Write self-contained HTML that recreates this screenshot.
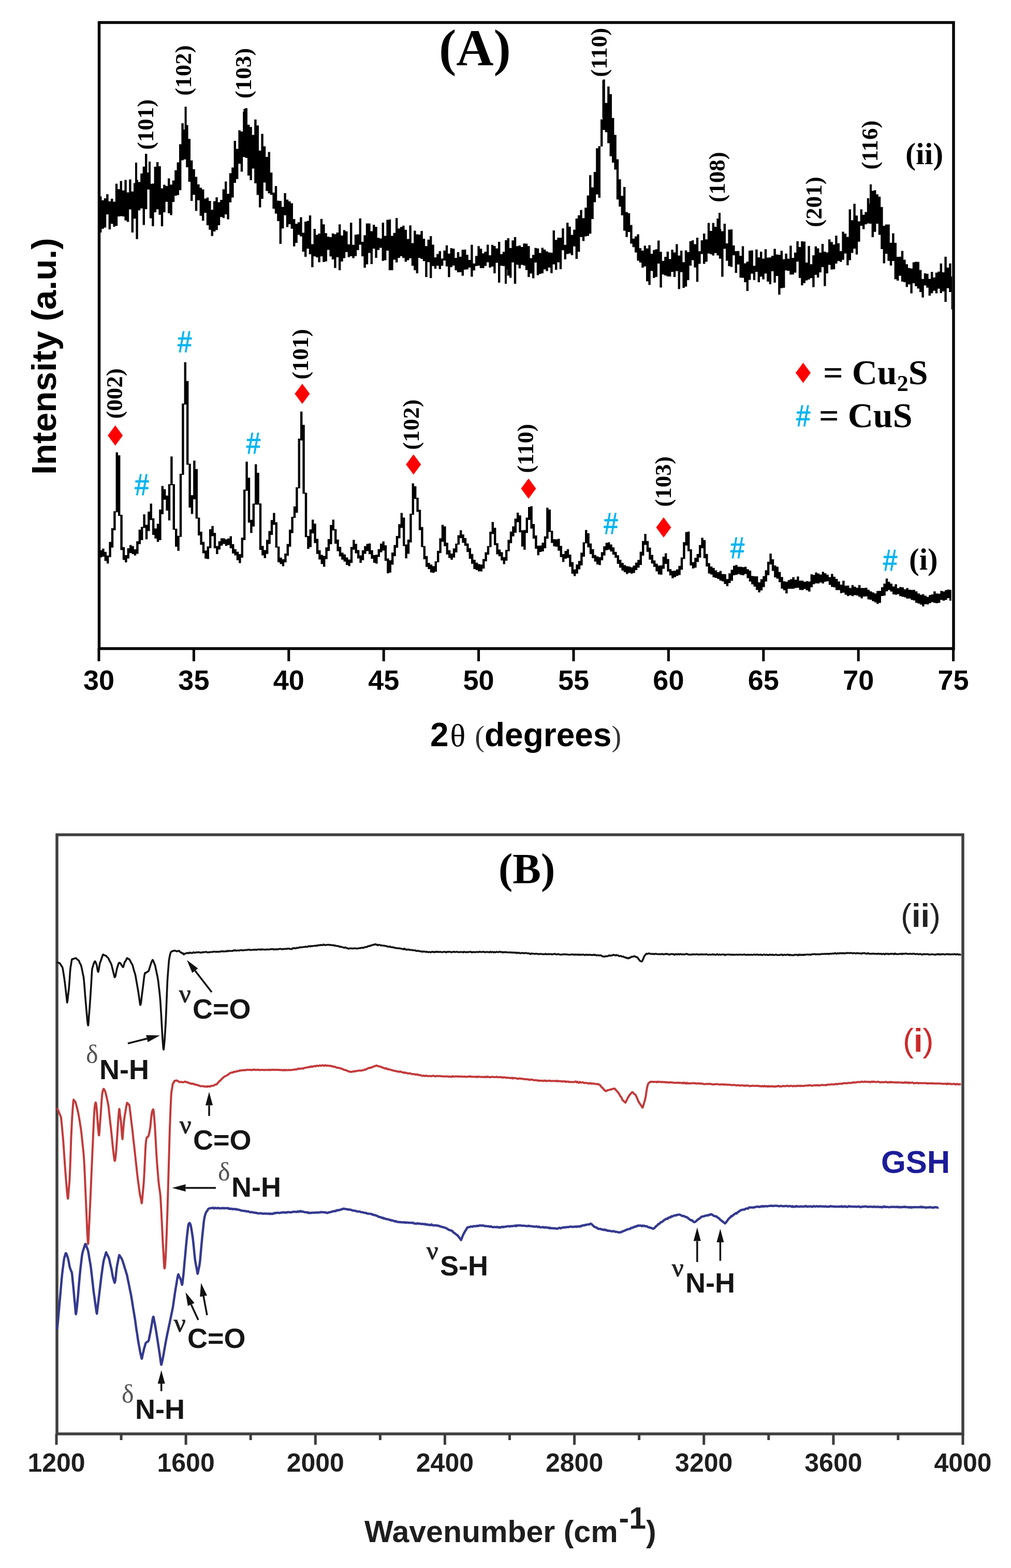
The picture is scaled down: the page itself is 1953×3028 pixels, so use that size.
<!DOCTYPE html>
<html><head><meta charset="utf-8"><title>Figure</title>
<style>html,body{margin:0;padding:0;background:#fff;overflow:hidden;}svg{display:block;}</style>
</head><body>
<svg width="1953" height="3028" viewBox="0 0 1953 3028"><g id="frameA" fill="none" stroke="#000" stroke-width="5.5">
<path d="M191.5,43.5 L1842,43.5 L1842,1252.5 L191.5,1252.5 Z"/>
</g>
<path d="M191.0,1252 L191.0,1277 M374.4,1252 L374.4,1277 M557.8,1252 L557.8,1277 M741.2,1252 L741.2,1277 M924.6,1252 L924.6,1277 M1108.0,1252 L1108.0,1277 M1291.4,1252 L1291.4,1277 M1474.8,1252 L1474.8,1277 M1658.2,1252 L1658.2,1277 M1841.6,1252 L1841.6,1277" stroke="#000" stroke-width="5" fill="none"/>
<text x="191.0" y="1332" font-family="'Liberation Sans', Arial, sans-serif" font-weight="bold" font-size="54" text-anchor="middle" fill="#000">30</text>
<text x="374.4" y="1332" font-family="'Liberation Sans', Arial, sans-serif" font-weight="bold" font-size="54" text-anchor="middle" fill="#000">35</text>
<text x="557.8" y="1332" font-family="'Liberation Sans', Arial, sans-serif" font-weight="bold" font-size="54" text-anchor="middle" fill="#000">40</text>
<text x="741.2" y="1332" font-family="'Liberation Sans', Arial, sans-serif" font-weight="bold" font-size="54" text-anchor="middle" fill="#000">45</text>
<text x="924.6" y="1332" font-family="'Liberation Sans', Arial, sans-serif" font-weight="bold" font-size="54" text-anchor="middle" fill="#000">50</text>
<text x="1108.0" y="1332" font-family="'Liberation Sans', Arial, sans-serif" font-weight="bold" font-size="54" text-anchor="middle" fill="#000">55</text>
<text x="1291.4" y="1332" font-family="'Liberation Sans', Arial, sans-serif" font-weight="bold" font-size="54" text-anchor="middle" fill="#000">60</text>
<text x="1474.8" y="1332" font-family="'Liberation Sans', Arial, sans-serif" font-weight="bold" font-size="54" text-anchor="middle" fill="#000">65</text>
<text x="1658.2" y="1332" font-family="'Liberation Sans', Arial, sans-serif" font-weight="bold" font-size="54" text-anchor="middle" fill="#000">70</text>
<text x="1841.6" y="1332" font-family="'Liberation Sans', Arial, sans-serif" font-weight="bold" font-size="54" text-anchor="middle" fill="#000">75</text>
<text transform="translate(108,688) rotate(-90)" font-family="'Liberation Sans', Arial, sans-serif" font-weight="bold" font-size="67.5" text-anchor="middle" fill="#000">Intensity (a.u.)</text>
<text x="831" y="1441" font-family="'Liberation Sans', Arial, sans-serif" font-size="64" fill="#000"><tspan font-weight="bold">2</tspan><tspan font-family="'Liberation Serif', 'Times New Roman', serif" font-size="62" dx="3">θ</tspan><tspan font-family="'Liberation Serif', 'Times New Roman', serif" font-size="56" fill="#333" dx="18">(</tspan><tspan font-weight="bold">degrees</tspan><tspan font-family="'Liberation Serif', 'Times New Roman', serif" font-size="56" fill="#333">)</tspan></text>
<path d="M192.0,379.2 196.4,379.2 196.4,386.8 200.8,386.8 200.8,382.9 205.2,382.9 205.2,375.1 209.6,375.1 209.6,388.7 214.0,388.7 214.0,383.8 218.4,383.8 218.4,389.6 222.8,389.6 222.8,354.7 227.2,354.7 227.2,365.3 231.6,365.3 231.6,349.6 236.0,349.6 236.0,367.7 240.4,367.7 240.4,347.4 244.8,347.4 244.8,371.6 249.2,371.6 249.2,346.4 253.6,346.4 253.6,369.7 258.0,369.7 258.0,353.6 262.4,353.6 262.4,347.2 266.8,347.2 266.8,351.4 271.2,351.4 271.2,334.9 275.6,334.9 275.6,321.8 280.0,321.8 280.0,297.1 284.4,297.1 284.4,332.9 288.8,332.9 288.8,355.1 293.2,355.1 293.2,354.5 297.6,354.5 297.6,321.9 302.0,321.9 302.0,313.0 306.4,313.0 306.4,321.1 310.8,321.1 310.8,363.8 315.2,363.8 315.2,356.7 319.6,356.7 319.6,359.3 324.0,359.3 324.0,344.4 328.4,344.4 328.4,356.6 332.8,356.6 332.8,348.5 337.2,348.5 337.2,328.7 341.6,328.7 341.6,313.5 346.0,313.5 346.0,278.6 350.4,278.6 350.4,238.1 354.8,238.1 354.8,249.9 359.2,249.9 359.2,241.6 363.6,241.6 363.6,268.2 368.0,268.2 368.0,309.7 372.4,309.7 372.4,326.8 376.8,326.8 376.8,341.4 381.2,341.4 381.2,355.9 385.6,355.9 385.6,362.4 390.0,362.4 390.0,365.8 394.4,365.8 394.4,383.5 398.8,383.5 398.8,381.5 403.2,381.5 403.2,388.0 407.6,388.0 407.6,404.9 412.0,404.9 412.0,388.6 416.4,388.6 416.4,380.9 420.8,380.9 420.8,390.6 425.2,390.6 425.2,386.1 429.6,386.1 429.6,365.5 434.0,365.5 434.0,350.5 438.4,350.5 438.4,374.2 442.8,374.2 442.8,334.5 447.2,334.5 447.2,323.4 451.6,323.4 451.6,271.9 456.0,271.9 456.0,287.4 460.4,287.4 460.4,251.6 464.8,251.6 464.8,253.9 469.2,253.9 469.2,216.0 473.6,216.0 473.6,208.8 478.0,208.8 478.0,240.8 482.4,240.8 482.4,245.2 486.8,245.2 486.8,260.4 491.2,260.4 491.2,230.7 495.6,230.7 495.6,242.2 500.0,242.2 500.0,290.8 504.4,290.8 504.4,258.5 508.8,258.5 508.8,282.6 513.2,282.6 513.2,303.1 517.6,303.1 517.6,293.4 522.0,293.4 522.0,333.2 526.4,333.2 526.4,372.0 530.8,372.0 530.8,359.3 535.2,359.3 535.2,387.5 539.6,387.5 539.6,387.9 544.0,387.9 544.0,399.4 548.4,399.4 548.4,373.0 552.8,373.0 552.8,385.5 557.2,385.5 557.2,388.7 561.6,388.7 561.6,392.4 566.0,392.4 566.0,422.9 570.4,422.9 570.4,432.3 574.8,432.3 574.8,429.3 579.2,429.3 579.2,419.6 583.6,419.6 583.6,449.5 588.0,449.5 588.0,428.0 592.4,428.0 592.4,426.5 596.8,426.5 596.8,416.0 601.2,416.0 601.2,471.5 605.6,471.5 605.6,442.0 610.0,442.0 610.0,453.6 614.4,453.6 614.4,451.0 618.8,451.0 618.8,422.7 623.2,422.7 623.2,433.3 627.6,433.3 627.6,450.2 632.0,450.2 632.0,457.0 636.4,457.0 636.4,458.0 640.8,458.0 640.8,450.8 645.2,450.8 645.2,452.3 649.6,452.3 649.6,449.1 654.0,449.1 654.0,433.2 658.4,433.2 658.4,454.8 662.8,454.8 662.8,444.3 667.2,444.3 667.2,446.7 671.6,446.7 671.6,471.8 676.0,471.8 676.0,430.0 680.4,430.0 680.4,472.7 684.8,472.7 684.8,453.2 689.2,453.2 689.2,452.4 693.6,452.4 693.6,421.8 698.0,421.8 698.0,466.9 702.4,466.9 702.4,454.2 706.8,454.2 706.8,431.5 711.2,431.5 711.2,431.6 715.6,431.6 715.6,446.5 720.0,446.5 720.0,433.9 724.4,433.9 724.4,437.9 728.8,437.9 728.8,459.3 733.2,459.3 733.2,460.6 737.6,460.6 737.6,429.9 742.0,429.9 742.0,455.5 746.4,455.5 746.4,424.4 750.8,424.4 750.8,423.8 755.2,423.8 755.2,455.6 759.6,455.6 759.6,449.7 764.0,449.7 764.0,421.0 768.4,421.0 768.4,441.3 772.8,441.3 772.8,438.2 777.2,438.2 777.2,435.8 781.6,435.8 781.6,443.8 786.0,443.8 786.0,461.4 790.4,461.4 790.4,435.2 794.8,435.2 794.8,469.5 799.2,469.5 799.2,445.4 803.6,445.4 803.6,452.5 808.0,452.5 808.0,453.0 812.4,453.0 812.4,446.0 816.8,446.0 816.8,460.9 821.2,460.9 821.2,475.3 825.6,475.3 825.6,462.7 830.0,462.7 830.0,455.9 834.4,455.9 834.4,472.6 838.8,472.6 838.8,497.0 843.2,497.0 843.2,490.4 847.6,490.4 847.6,484.9 852.0,484.9 852.0,499.3 856.4,499.3 856.4,483.7 860.8,483.7 860.8,473.8 865.2,473.8 865.2,489.8 869.6,489.8 869.6,479.2 874.0,479.2 874.0,480.3 878.4,480.3 878.4,498.0 882.8,498.0 882.8,487.0 887.2,487.0 887.2,495.8 891.6,495.8 891.6,482.2 896.0,482.2 896.0,482.0 900.4,482.0 900.4,492.0 904.8,492.0 904.8,501.9 909.2,501.9 909.2,472.8 913.6,472.8 913.6,508.7 918.0,508.7 918.0,494.3 922.4,494.3 922.4,475.2 926.8,475.2 926.8,480.2 931.2,480.2 931.2,489.3 935.6,489.3 935.6,486.0 940.0,486.0 940.0,472.5 944.4,472.5 944.4,493.1 948.8,493.1 948.8,472.8 953.2,472.8 953.2,475.1 957.6,475.1 957.6,479.7 962.0,479.7 962.0,466.9 966.4,466.9 966.4,490.7 970.8,490.7 970.8,486.3 975.2,486.3 975.2,463.7 979.6,463.7 979.6,459.9 984.0,459.9 984.0,478.9 988.4,478.9 988.4,464.3 992.8,464.3 992.8,457.8 997.2,457.8 997.2,475.3 1001.6,475.3 1001.6,474.1 1006.0,474.1 1006.0,476.9 1010.4,476.9 1010.4,470.2 1014.8,470.2 1014.8,470.5 1019.2,470.5 1019.2,475.2 1023.6,475.2 1023.6,498.4 1028.0,498.4 1028.0,492.2 1032.4,492.2 1032.4,478.7 1036.8,478.7 1036.8,479.7 1041.2,479.7 1041.2,488.4 1045.6,488.4 1045.6,478.4 1050.0,478.4 1050.0,482.0 1054.4,482.0 1054.4,485.6 1058.8,485.6 1058.8,487.4 1063.2,487.4 1063.2,488.0 1067.6,488.0 1067.6,444.9 1072.0,444.9 1072.0,463.3 1076.4,463.3 1076.4,458.9 1080.8,458.9 1080.8,459.0 1085.2,459.0 1085.2,441.1 1089.6,441.1 1089.6,472.8 1094.0,472.8 1094.0,429.9 1098.4,429.9 1098.4,437.7 1102.8,437.7 1102.8,453.4 1107.2,453.4 1107.2,443.5 1111.6,443.5 1111.6,422.0 1116.0,422.0 1116.0,415.7 1120.4,415.7 1120.4,405.5 1124.8,405.5 1124.8,421.2 1129.2,421.2 1129.2,400.9 1133.6,400.9 1133.6,377.5 1138.0,377.5 1138.0,338.2 1142.4,338.2 1142.4,361.7 1146.8,361.7 1146.8,332.1 1151.2,332.1 1151.2,286.3 1155.6,286.3 1155.6,282.3 1160.0,282.3 1160.0,230.5 1164.4,230.5 1164.4,153.6 1168.8,153.6 1168.8,198.8 1173.2,198.8 1173.2,167.1 1177.6,167.1 1177.6,181.7 1182.0,181.7 1182.0,227.7 1186.4,227.7 1186.4,260.6 1190.8,260.6 1190.8,307.5 1195.2,307.5 1195.2,346.2 1199.6,346.2 1199.6,378.3 1204.0,378.3 1204.0,360.9 1208.4,360.9 1208.4,409.6 1212.8,409.6 1212.8,411.8 1217.2,411.8 1217.2,434.5 1221.6,434.5 1221.6,460.7 1226.0,460.7 1226.0,456.5 1230.4,456.5 1230.4,452.6 1234.8,452.6 1234.8,479.2 1239.2,479.2 1239.2,484.1 1243.6,484.1 1243.6,474.6 1248.0,474.6 1248.0,479.8 1252.4,479.8 1252.4,473.4 1256.8,473.4 1256.8,489.9 1261.2,489.9 1261.2,482.7 1265.6,482.7 1265.6,481.3 1270.0,481.3 1270.0,464.5 1274.4,464.5 1274.4,486.2 1278.8,486.2 1278.8,503.8 1283.2,503.8 1283.2,496.0 1287.6,496.0 1287.6,486.1 1292.0,486.1 1292.0,500.3 1296.4,500.3 1296.4,482.3 1300.8,482.3 1300.8,487.5 1305.2,487.5 1305.2,471.4 1309.6,471.4 1309.6,493.4 1314.0,493.4 1314.0,484.0 1318.4,484.0 1318.4,506.3 1322.8,506.3 1322.8,483.5 1327.2,483.5 1327.2,486.8 1331.6,486.8 1331.6,465.8 1336.0,465.8 1336.0,464.0 1340.4,464.0 1340.4,471.5 1344.8,471.5 1344.8,458.9 1349.2,458.9 1349.2,485.3 1353.6,485.3 1353.6,463.9 1358.0,463.9 1358.0,451.1 1362.4,451.1 1362.4,462.3 1366.8,462.3 1366.8,430.6 1371.2,430.6 1371.2,446.0 1375.6,446.0 1375.6,430.5 1380.0,430.5 1380.0,437.9 1384.4,437.9 1384.4,422.1 1388.8,422.1 1388.8,442.3 1393.2,442.3 1393.2,446.5 1397.6,446.5 1397.6,431.9 1402.0,431.9 1402.0,469.9 1406.4,469.9 1406.4,443.6 1410.8,443.6 1410.8,442.9 1415.2,442.9 1415.2,473.9 1419.6,473.9 1419.6,485.0 1424.0,485.0 1424.0,484.7 1428.4,484.7 1428.4,494.1 1432.8,494.1 1432.8,475.6 1437.2,475.6 1437.2,508.5 1441.6,508.5 1441.6,505.2 1446.0,505.2 1446.0,484.0 1450.4,484.0 1450.4,483.5 1454.8,483.5 1454.8,513.2 1459.2,513.2 1459.2,481.7 1463.6,481.7 1463.6,497.0 1468.0,497.0 1468.0,486.0 1472.4,486.0 1472.4,499.4 1476.8,499.4 1476.8,481.3 1481.2,481.3 1481.2,497.6 1485.6,497.6 1485.6,497.0 1490.0,497.0 1490.0,493.9 1494.4,493.9 1494.4,480.6 1498.8,480.6 1498.8,491.6 1503.2,491.6 1503.2,492.1 1507.6,492.1 1507.6,484.3 1512.0,484.3 1512.0,500.6 1516.4,500.6 1516.4,489.8 1520.8,489.8 1520.8,499.5 1525.2,499.5 1525.2,474.6 1529.6,474.6 1529.6,498.1 1534.0,498.1 1534.0,487.7 1538.4,487.7 1538.4,465.8 1542.8,465.8 1542.8,477.1 1547.2,477.1 1547.2,466.0 1551.6,466.0 1551.6,466.5 1556.0,466.5 1556.0,507.0 1560.4,507.0 1560.4,475.1 1564.8,475.1 1564.8,510.2 1569.2,510.2 1569.2,492.9 1573.6,492.9 1573.6,475.8 1578.0,475.8 1578.0,479.4 1582.4,479.4 1582.4,487.8 1586.8,487.8 1586.8,471.0 1591.2,471.0 1591.2,486.0 1595.6,486.0 1595.6,487.5 1600.0,487.5 1600.0,462.3 1604.4,462.3 1604.4,467.3 1608.8,467.3 1608.8,472.2 1613.2,472.2 1613.2,455.1 1617.6,455.1 1617.6,469.8 1622.0,469.8 1622.0,485.1 1626.4,485.1 1626.4,447.5 1630.8,447.5 1630.8,451.2 1635.2,451.2 1635.2,457.6 1639.6,457.6 1639.6,404.2 1644.0,404.2 1644.0,425.3 1648.4,425.3 1648.4,393.4 1652.8,393.4 1652.8,416.2 1657.2,416.2 1657.2,427.5 1661.6,427.5 1661.6,404.2 1666.0,404.2 1666.0,414.7 1670.4,414.7 1670.4,409.5 1674.8,409.5 1674.8,382.8 1679.2,382.8 1679.2,393.1 1683.6,393.1 1683.6,368.4 1688.0,368.4 1688.0,367.2 1692.4,367.2 1692.4,375.2 1696.8,375.2 1696.8,379.7 1701.2,379.7 1701.2,399.8 1705.6,399.8 1705.6,436.0 1710.0,436.0 1710.0,433.4 1714.4,433.4 1714.4,433.4 1718.8,433.4 1718.8,468.7 1723.2,468.7 1723.2,450.5 1727.6,450.5 1727.6,469.0 1732.0,469.0 1732.0,495.9 1736.4,495.9 1736.4,495.7 1740.8,495.7 1740.8,484.5 1745.2,484.5 1745.2,501.6 1749.6,501.6 1749.6,510.2 1754.0,510.2 1754.0,517.4 1758.4,517.4 1758.4,518.6 1762.8,518.6 1762.8,506.4 1767.2,506.4 1767.2,505.4 1771.6,505.4 1771.6,505.7 1776.0,505.7 1776.0,521.4 1780.4,521.4 1780.4,538.8 1784.8,538.8 1784.8,527.7 1789.2,527.7 1789.2,528.8 1793.6,528.8 1793.6,538.4 1798.0,538.4 1798.0,524.9 1802.4,524.9 1802.4,535.7 1806.8,535.7 1806.8,526.5 1811.2,526.5 1811.2,524.5 1815.6,524.5 1815.6,508.8 1820.0,508.8 1820.0,525.7 1824.4,525.7 1824.4,495.7 1828.8,495.7 1828.8,516.8 1833.2,516.8 1833.2,508.8 1837.6,508.8 1837.6,534.1 1839.0,534.1 1839.0,597.6 1837.6,597.6 1837.6,564.0 1833.2,564.0 1833.2,556.6 1828.8,556.6 1828.8,583.0 1824.4,583.0 1824.4,562.7 1820.0,562.7 1820.0,565.9 1815.6,565.9 1815.6,557.4 1811.2,557.4 1811.2,566.6 1806.8,566.6 1806.8,561.5 1802.4,561.5 1802.4,566.2 1798.0,566.2 1798.0,571.0 1793.6,571.0 1793.6,555.5 1789.2,555.5 1789.2,551.2 1784.8,551.2 1784.8,574.4 1780.4,574.4 1780.4,563.9 1776.0,563.9 1776.0,557.2 1771.6,557.2 1771.6,552.8 1767.2,552.8 1767.2,547.0 1762.8,547.0 1762.8,566.5 1758.4,566.5 1758.4,549.3 1754.0,549.3 1754.0,554.3 1749.6,554.3 1749.6,545.1 1745.2,545.1 1745.2,543.7 1740.8,543.7 1740.8,532.6 1736.4,532.6 1736.4,542.0 1732.0,542.0 1732.0,539.3 1727.6,539.3 1727.6,503.9 1723.2,503.9 1723.2,512.7 1718.8,512.7 1718.8,503.7 1714.4,503.7 1714.4,490.0 1710.0,490.0 1710.0,508.6 1705.6,508.6 1705.6,481.1 1701.2,481.1 1701.2,453.5 1696.8,453.5 1696.8,432.1 1692.4,432.1 1692.4,447.7 1688.0,447.7 1688.0,458.0 1683.6,458.0 1683.6,431.9 1679.2,431.9 1679.2,431.4 1674.8,431.4 1674.8,433.3 1670.4,433.3 1670.4,442.5 1666.0,442.5 1666.0,435.9 1661.6,435.9 1661.6,466.8 1657.2,466.8 1657.2,491.5 1652.8,491.5 1652.8,480.3 1648.4,480.3 1648.4,488.5 1644.0,488.5 1644.0,502.4 1639.6,502.4 1639.6,512.3 1635.2,512.3 1635.2,489.6 1630.8,489.6 1630.8,501.8 1626.4,501.8 1626.4,505.8 1622.0,505.8 1622.0,503.9 1617.6,503.9 1617.6,509.0 1613.2,509.0 1613.2,519.9 1608.8,519.9 1608.8,520.4 1604.4,520.4 1604.4,511.5 1600.0,511.5 1600.0,528.0 1595.6,528.0 1595.6,552.5 1591.2,552.5 1591.2,515.7 1586.8,515.7 1586.8,526.1 1582.4,526.1 1582.4,536.0 1578.0,536.0 1578.0,530.8 1573.6,530.8 1573.6,554.5 1569.2,554.5 1569.2,536.9 1564.8,536.9 1564.8,539.7 1560.4,539.7 1560.4,541.5 1556.0,541.5 1556.0,546.8 1551.6,546.8 1551.6,550.9 1547.2,550.9 1547.2,536.7 1542.8,536.7 1542.8,505.3 1538.4,505.3 1538.4,526.4 1534.0,526.4 1534.0,529.9 1529.6,529.9 1529.6,530.3 1525.2,530.3 1525.2,523.1 1520.8,523.1 1520.8,522.2 1516.4,522.2 1516.4,555.7 1512.0,555.7 1512.0,556.5 1507.6,556.5 1507.6,569.1 1503.2,569.1 1503.2,532.9 1498.8,532.9 1498.8,545.8 1494.4,545.8 1494.4,523.8 1490.0,523.8 1490.0,548.8 1485.6,548.8 1485.6,543.7 1481.2,543.7 1481.2,528.3 1476.8,528.3 1476.8,539.5 1472.4,539.5 1472.4,534.3 1468.0,534.3 1468.0,545.1 1463.6,545.1 1463.6,525.0 1459.2,525.0 1459.2,540.7 1454.8,540.7 1454.8,528.4 1450.4,528.4 1450.4,540.4 1446.0,540.4 1446.0,562.1 1441.6,562.1 1441.6,545.1 1437.2,545.1 1437.2,536.5 1432.8,536.5 1432.8,536.2 1428.4,536.2 1428.4,510.8 1424.0,510.8 1424.0,527.1 1419.6,527.1 1419.6,493.1 1415.2,493.1 1415.2,515.6 1410.8,515.6 1410.8,514.1 1406.4,514.1 1406.4,503.4 1402.0,503.4 1402.0,480.6 1397.6,480.6 1397.6,534.4 1393.2,534.4 1393.2,499.4 1388.8,499.4 1388.8,493.3 1384.4,493.3 1384.4,488.7 1380.0,488.7 1380.0,493.4 1375.6,493.4 1375.6,491.0 1371.2,491.0 1371.2,489.6 1366.8,489.6 1366.8,505.6 1362.4,505.6 1362.4,509.4 1358.0,509.4 1358.0,490.4 1353.6,490.4 1353.6,509.4 1349.2,509.4 1349.2,544.3 1344.8,544.3 1344.8,516.4 1340.4,516.4 1340.4,502.5 1336.0,502.5 1336.0,513.1 1331.6,513.1 1331.6,540.9 1327.2,540.9 1327.2,553.4 1322.8,553.4 1322.8,556.1 1318.4,556.1 1318.4,525.5 1314.0,525.5 1314.0,558.3 1309.6,558.3 1309.6,523.4 1305.2,523.4 1305.2,534.9 1300.8,534.9 1300.8,525.1 1296.4,525.1 1296.4,533.9 1292.0,533.9 1292.0,533.8 1287.6,533.8 1287.6,532.0 1283.2,532.0 1283.2,530.1 1278.8,530.1 1278.8,555.3 1274.4,555.3 1274.4,508.9 1270.0,508.9 1270.0,534.8 1265.6,534.8 1265.6,536.8 1261.2,536.8 1261.2,523.3 1256.8,523.3 1256.8,550.2 1252.4,550.2 1252.4,543.3 1248.0,543.3 1248.0,514.6 1243.6,514.6 1243.6,517.1 1239.2,517.1 1239.2,507.1 1234.8,507.1 1234.8,503.6 1230.4,503.6 1230.4,487.4 1226.0,487.4 1226.0,477.3 1221.6,477.3 1221.6,470.4 1217.2,470.4 1217.2,448.1 1212.8,448.1 1212.8,457.7 1208.4,457.7 1208.4,445.4 1204.0,445.4 1204.0,415.7 1199.6,415.7 1199.6,399.1 1195.2,399.1 1195.2,385.3 1190.8,385.3 1190.8,327.6 1186.4,327.6 1186.4,313.9 1182.0,313.9 1182.0,301.8 1177.6,301.8 1177.6,276.4 1173.2,276.4 1173.2,255.3 1168.8,255.3 1168.8,251.0 1164.4,251.0 1164.4,282.8 1160.0,282.8 1160.0,381.9 1155.6,381.9 1155.6,375.6 1151.2,375.6 1151.2,390.5 1146.8,390.5 1146.8,422.9 1142.4,422.9 1142.4,451.3 1138.0,451.3 1138.0,455.4 1133.6,455.4 1133.6,456.4 1129.2,456.4 1129.2,465.5 1124.8,465.5 1124.8,457.8 1120.4,457.8 1120.4,486.3 1116.0,486.3 1116.0,500.0 1111.6,500.0 1111.6,475.8 1107.2,475.8 1107.2,492.7 1102.8,492.7 1102.8,489.6 1098.4,489.6 1098.4,490.6 1094.0,490.6 1094.0,500.7 1089.6,500.7 1089.6,483.3 1085.2,483.3 1085.2,519.7 1080.8,519.7 1080.8,506.6 1076.4,506.6 1076.4,521.0 1072.0,521.0 1072.0,510.5 1067.6,510.5 1067.6,527.6 1063.2,527.6 1063.2,516.7 1058.8,516.7 1058.8,523.6 1054.4,523.6 1054.4,520.2 1050.0,520.2 1050.0,527.8 1045.6,527.8 1045.6,529.1 1041.2,529.1 1041.2,531.5 1036.8,531.5 1036.8,506.9 1032.4,506.9 1032.4,537.4 1028.0,537.4 1028.0,528.3 1023.6,528.3 1023.6,535.1 1019.2,535.1 1019.2,521.4 1014.8,521.4 1014.8,512.8 1010.4,512.8 1010.4,511.4 1006.0,511.4 1006.0,518.2 1001.6,518.2 1001.6,511.3 997.2,511.3 997.2,548.0 992.8,548.0 992.8,506.7 988.4,506.7 988.4,536.4 984.0,536.4 984.0,532.3 979.6,532.3 979.6,520.5 975.2,520.5 975.2,513.8 970.8,513.8 970.8,513.2 966.4,513.2 966.4,545.8 962.0,545.8 962.0,507.5 957.6,507.5 957.6,527.7 953.2,527.7 953.2,514.7 948.8,514.7 948.8,516.8 944.4,516.8 944.4,506.4 940.0,506.4 940.0,513.4 935.6,513.4 935.6,517.8 931.2,517.8 931.2,517.8 926.8,517.8 926.8,512.9 922.4,512.9 922.4,513.8 918.0,513.8 918.0,522.2 913.6,522.2 913.6,534.3 909.2,534.3 909.2,516.7 904.8,516.7 904.8,520.3 900.4,520.3 900.4,520.8 896.0,520.8 896.0,532.4 891.6,532.4 891.6,525.4 887.2,525.4 887.2,525.7 882.8,525.7 882.8,522.1 878.4,522.1 878.4,512.8 874.0,512.8 874.0,515.7 869.6,515.7 869.6,535.2 865.2,535.2 865.2,514.4 860.8,514.4 860.8,503.1 856.4,503.1 856.4,513.2 852.0,513.2 852.0,519.7 847.6,519.7 847.6,513.2 843.2,513.2 843.2,519.1 838.8,519.1 838.8,513.8 834.4,513.8 834.4,537.1 830.0,537.1 830.0,506.3 825.6,506.3 825.6,534.9 821.2,534.9 821.2,504.3 816.8,504.3 816.8,499.9 812.4,499.9 812.4,497.9 808.0,497.9 808.0,527.7 803.6,527.7 803.6,521.8 799.2,521.8 799.2,513.2 794.8,513.2 794.8,498.8 790.4,498.8 790.4,502.4 786.0,502.4 786.0,505.6 781.6,505.6 781.6,498.3 777.2,498.3 777.2,494.7 772.8,494.7 772.8,497.9 768.4,497.9 768.4,506.8 764.0,506.8 764.0,501.4 759.6,501.4 759.6,521.8 755.2,521.8 755.2,521.7 750.8,521.7 750.8,484.1 746.4,484.1 746.4,502.6 742.0,502.6 742.0,503.7 737.6,503.7 737.6,478.5 733.2,478.5 733.2,482.7 728.8,482.7 728.8,498.0 724.4,498.0 724.4,480.3 720.0,480.3 720.0,510.1 715.6,510.1 715.6,488.5 711.2,488.5 711.2,510.6 706.8,510.6 706.8,517.1 702.4,517.1 702.4,494.9 698.0,494.9 698.0,472.5 693.6,472.5 693.6,482.9 689.2,482.9 689.2,494.5 684.8,494.5 684.8,498.5 680.4,498.5 680.4,494.8 676.0,494.8 676.0,496.4 671.6,496.4 671.6,486.8 667.2,486.8 667.2,498.4 662.8,498.4 662.8,504.9 658.4,504.9 658.4,521.7 654.0,521.7 654.0,496.8 649.6,496.8 649.6,517.6 645.2,517.6 645.2,501.0 640.8,501.0 640.8,495.3 636.4,495.3 636.4,482.5 632.0,482.5 632.0,504.7 627.6,504.7 627.6,506.0 623.2,506.0 623.2,494.9 618.8,494.9 618.8,506.4 614.4,506.4 614.4,496.9 610.0,496.9 610.0,495.1 605.6,495.1 605.6,516.0 601.2,516.0 601.2,490.9 596.8,490.9 596.8,480.3 592.4,480.3 592.4,496.1 588.0,496.1 588.0,486.0 583.6,486.0 583.6,456.4 579.2,456.4 579.2,453.4 574.8,453.4 574.8,469.1 570.4,469.1 570.4,475.8 566.0,475.8 566.0,441.7 561.6,441.7 561.6,433.1 557.2,433.1 557.2,438.4 552.8,438.4 552.8,415.7 548.4,415.7 548.4,441.2 544.0,441.2 544.0,471.0 539.6,471.0 539.6,427.1 535.2,427.1 535.2,412.4 530.8,412.4 530.8,403.1 526.4,403.1 526.4,376.3 522.0,376.3 522.0,373.6 517.6,373.6 517.6,368.8 513.2,368.8 513.2,352.4 508.8,352.4 508.8,384.1 504.4,384.1 504.4,400.6 500.0,400.6 500.0,376.6 495.6,376.6 495.6,353.9 491.2,353.9 491.2,325.6 486.8,325.6 486.8,348.1 482.4,348.1 482.4,338.9 478.0,338.9 478.0,305.1 473.6,305.1 473.6,303.3 469.2,303.3 469.2,331.5 464.8,331.5 464.8,316.3 460.4,316.3 460.4,345.7 456.0,345.7 456.0,352.9 451.6,352.9 451.6,381.5 447.2,381.5 447.2,390.8 442.8,390.8 442.8,423.6 438.4,423.6 438.4,414.1 434.0,414.1 434.0,421.0 429.6,421.0 429.6,419.0 425.2,419.0 425.2,435.0 420.8,435.0 420.8,444.3 416.4,444.3 416.4,447.1 412.0,447.1 412.0,455.7 407.6,455.7 407.6,443.8 403.2,443.8 403.2,435.1 398.8,435.1 398.8,411.1 394.4,411.1 394.4,426.2 390.0,426.2 390.0,416.8 385.6,416.8 385.6,386.7 381.2,386.7 381.2,407.2 376.8,407.2 376.8,376.2 372.4,376.2 372.4,388.0 368.0,388.0 368.0,351.0 363.6,351.0 363.6,323.0 359.2,323.0 359.2,307.8 354.8,307.8 354.8,309.6 350.4,309.6 350.4,367.3 346.0,367.3 346.0,376.7 341.6,376.7 341.6,378.0 337.2,378.0 337.2,390.0 332.8,390.0 332.8,415.6 328.4,415.6 328.4,411.8 324.0,411.8 324.0,389.7 319.6,389.7 319.6,410.1 315.2,410.1 315.2,437.0 310.8,437.0 310.8,414.8 306.4,414.8 306.4,404.3 302.0,404.3 302.0,410.0 297.6,410.0 297.6,436.7 293.2,436.7 293.2,421.4 288.8,421.4 288.8,366.1 284.4,366.1 284.4,403.9 280.0,403.9 280.0,434.5 275.6,434.5 275.6,402.5 271.2,402.5 271.2,406.3 266.8,406.3 266.8,461.8 262.4,461.8 262.4,422.2 258.0,422.2 258.0,449.1 253.6,449.1 253.6,404.6 249.2,404.6 249.2,428.5 244.8,428.5 244.8,425.8 240.4,425.8 240.4,418.1 236.0,418.1 236.0,417.6 231.6,417.6 231.6,418.0 227.2,418.0 227.2,436.3 222.8,436.3 222.8,437.7 218.4,437.7 218.4,432.2 214.0,432.2 214.0,443.0 209.6,443.0 209.6,413.9 205.2,413.9 205.2,439.6 200.8,439.6 200.8,441.8 196.4,441.8 196.4,449.1 192.0,449.1 Z" fill="#000"/>
<path d="M358.6,274.0 L358.6,206.0 M472.5,251.4 L472.5,210.0 M1165.5,228.8 L1165.5,155.0 M1682.0,407.4 L1682.0,356.0 M1390.0,467.3 L1390.0,411.0 M289.0,363.5 L289.0,312.0 M263.0,383.5 L263.0,314.0 M977.0,504.2 L977.0,548.0" fill="none" stroke="#000" stroke-width="4"/>
<path d="M192.8,1062.5 197.2,1062.5 197.2,1059.5 201.6,1059.5 201.6,1065.8 206.0,1065.8 206.0,1072.8 210.4,1072.8 210.4,1046.5 214.8,1046.5 214.8,1019.9 219.2,1019.9 219.2,987.3 223.6,987.3 223.6,873.5 228.0,873.5 228.0,879.2 232.4,879.2 232.4,994.2 236.8,994.2 236.8,1056.5 241.2,1056.5 241.2,1072.0 245.6,1072.0 245.6,1058.7 250.0,1058.7 250.0,1052.5 254.4,1052.5 254.4,1054.4 258.8,1054.4 258.8,1060.7 263.2,1060.7 263.2,1045.3 267.6,1045.3 267.6,1022.7 272.0,1022.7 272.0,1017.5 276.4,1017.5 276.4,993.2 280.8,993.2 280.8,1013.6 285.2,1013.6 285.2,988.0 289.6,988.0 289.6,972.5 294.0,972.5 294.0,1001.0 298.4,1001.0 298.4,1020.4 302.8,1020.4 302.8,1011.5 307.2,1011.5 307.2,984.1 311.6,984.1 311.6,938.5 316.0,938.5 316.0,944.8 320.4,944.8 320.4,957.1 324.8,957.1 324.8,935.1 329.2,935.1 329.2,881.5 333.6,881.5 333.6,935.1 338.0,935.1 338.0,1021.0 342.4,1021.0 342.4,1034.7 346.8,1034.7 346.8,914.9 351.2,914.9 351.2,779.3 355.6,779.3 355.6,699.5 360.0,699.5 360.0,735.8 364.4,735.8 364.4,895.6 368.8,895.6 368.8,956.2 373.2,956.2 373.2,889.5 377.6,889.5 377.6,905.7 382.0,905.7 382.0,999.4 386.4,999.4 386.4,1026.7 390.8,1026.7 390.8,1046.5 395.2,1046.5 395.2,1063.0 399.6,1063.0 399.6,1055.2 404.0,1055.2 404.0,1021.9 408.4,1021.9 408.4,1015.7 412.8,1015.7 412.8,1029.0 417.2,1029.0 417.2,1054.4 421.6,1054.4 421.6,1045.3 426.0,1045.3 426.0,1039.5 430.4,1039.5 430.4,1039.4 434.8,1039.4 434.8,1041.5 439.2,1041.5 439.2,1039.8 443.6,1039.8 443.6,1035.5 448.0,1035.5 448.0,1050.8 452.4,1050.8 452.4,1060.5 456.8,1060.5 456.8,1065.5 461.2,1065.5 461.2,1069.9 465.6,1069.9 465.6,1038.2 470.0,1038.2 470.0,945.5 474.4,945.5 474.4,891.4 478.8,891.4 478.8,922.4 483.2,922.4 483.2,1003.7 487.6,1003.7 487.6,972.5 492.0,972.5 492.0,896.5 496.4,896.5 496.4,913.1 500.8,913.1 500.8,972.2 505.2,972.2 505.2,1054.3 509.6,1054.3 509.6,1062.2 514.0,1062.2 514.0,1042.6 518.4,1042.6 518.4,1025.4 522.8,1025.4 522.8,1004.3 527.2,1004.3 527.2,990.5 531.6,990.5 531.6,1008.4 536.0,1008.4 536.0,1055.4 540.4,1055.4 540.4,1076.7 544.8,1076.7 544.8,1079.9 549.2,1079.9 549.2,1069.0 553.6,1069.0 553.6,1050.6 558.0,1050.6 558.0,1022.8 562.4,1022.8 562.4,998.0 566.8,998.0 566.8,978.1 571.2,978.1 571.2,940.9 575.6,940.9 575.6,847.0 580.0,847.0 580.0,794.8 584.4,794.8 584.4,820.6 588.8,820.6 588.8,951.4 593.2,951.4 593.2,1035.1 597.6,1035.1 597.6,1022.3 602.0,1022.3 602.0,1003.5 606.4,1003.5 606.4,1011.3 610.8,1011.3 610.8,1040.6 615.2,1040.6 615.2,1062.4 619.6,1062.4 619.6,1071.6 624.0,1071.6 624.0,1073.4 628.4,1073.4 628.4,1056.9 632.8,1056.9 632.8,1041.0 637.2,1041.0 637.2,1013.8 641.6,1013.8 641.6,1003.5 646.0,1003.5 646.0,1021.7 650.4,1021.7 650.4,1042.0 654.8,1042.0 654.8,1056.0 659.2,1056.0 659.2,1067.2 663.6,1067.2 663.6,1070.4 668.0,1070.4 668.0,1076.5 672.4,1076.5 672.4,1080.4 676.8,1080.4 676.8,1056.3 681.2,1056.3 681.2,1042.5 685.6,1042.5 685.6,1050.2 690.0,1050.2 690.0,1062.3 694.4,1062.3 694.4,1072.4 698.8,1072.4 698.8,1062.6 703.2,1062.6 703.2,1054.4 707.6,1054.4 707.6,1050.3 712.0,1050.3 712.0,1049.6 716.4,1049.6 716.4,1062.5 720.8,1062.5 720.8,1072.0 725.2,1072.0 725.2,1071.2 729.6,1071.2 729.6,1060.6 734.0,1060.6 734.0,1049.7 738.4,1049.7 738.4,1045.5 742.8,1045.5 742.8,1053.1 747.2,1053.1 747.2,1078.6 751.6,1078.6 751.6,1082.0 756.0,1082.0 756.0,1066.9 760.4,1066.9 760.4,1052.6 764.8,1052.6 764.8,1034.9 769.2,1034.9 769.2,1012.3 773.6,1012.3 773.6,990.4 778.0,990.4 778.0,999.6 782.4,999.6 782.4,1051.4 786.8,1051.4 786.8,1042.1 791.2,1042.1 791.2,991.9 795.6,991.9 795.6,933.5 800.0,933.5 800.0,939.0 804.4,939.0 804.4,961.3 808.8,961.3 808.8,984.5 813.2,984.5 813.2,1017.7 817.6,1017.7 817.6,1054.5 822.0,1054.5 822.0,1073.7 826.4,1073.7 826.4,1087.0 830.8,1087.0 830.8,1090.3 835.2,1090.3 835.2,1093.3 839.6,1093.3 839.6,1084.0 844.0,1084.0 844.0,1063.8 848.4,1063.8 848.4,1039.6 852.8,1039.6 852.8,1013.5 857.2,1013.5 857.2,1016.6 861.6,1016.6 861.6,1048.0 866.0,1048.0 866.0,1062.5 870.4,1062.5 870.4,1068.9 874.8,1068.9 874.8,1058.9 879.2,1058.9 879.2,1049.7 883.6,1049.7 883.6,1033.5 888.0,1033.5 888.0,1024.1 892.4,1024.1 892.4,1032.0 896.8,1032.0 896.8,1039.0 901.2,1039.0 901.2,1049.4 905.6,1049.4 905.6,1058.4 910.0,1058.4 910.0,1069.8 914.4,1069.8 914.4,1081.1 918.8,1081.1 918.8,1086.6 923.2,1086.6 923.2,1089.3 927.6,1089.3 927.6,1090.3 932.0,1090.3 932.0,1079.4 936.4,1079.4 936.4,1066.6 940.8,1066.6 940.8,1054.4 945.2,1054.4 945.2,1026.8 949.6,1026.8 949.6,1007.9 954.0,1007.9 954.0,1019.2 958.4,1019.2 958.4,1048.9 962.8,1048.9 962.8,1061.3 967.2,1061.3 967.2,1066.3 971.6,1066.3 971.6,1075.8 976.0,1075.8 976.0,1061.9 980.4,1061.9 980.4,1042.6 984.8,1042.6 984.8,1026.6 989.2,1026.6 989.2,1016.6 993.6,1016.6 993.6,1001.5 998.0,1001.5 998.0,990.0 1002.4,990.0 1002.4,995.2 1006.8,995.2 1006.8,1023.9 1011.2,1023.9 1011.2,1023.4 1015.6,1023.4 1015.6,999.6 1020.0,999.6 1020.0,978.9 1024.4,978.9 1024.4,977.5 1028.8,977.5 1028.8,1012.0 1033.2,1012.0 1033.2,1034.0 1037.6,1034.0 1037.6,1053.8 1042.0,1053.8 1042.0,1053.4 1046.4,1053.4 1046.4,1048.0 1050.8,1048.0 1050.8,1035.7 1055.2,1035.7 1055.2,980.5 1059.6,980.5 1059.6,984.1 1064.0,984.1 1064.0,1025.0 1068.4,1025.0 1068.4,1041.2 1072.8,1041.2 1072.8,1041.4 1077.2,1041.4 1077.2,1040.6 1081.6,1040.6 1081.6,1054.3 1086.0,1054.3 1086.0,1070.0 1090.4,1070.0 1090.4,1063.9 1094.8,1063.9 1094.8,1060.5 1099.2,1060.5 1099.2,1071.0 1103.6,1071.0 1103.6,1085.6 1108.0,1085.6 1108.0,1099.4 1112.4,1099.4 1112.4,1090.1 1116.8,1090.1 1116.8,1083.3 1121.2,1083.3 1121.2,1067.2 1125.6,1067.2 1125.6,1047.2 1130.0,1047.2 1130.0,1023.5 1134.4,1023.5 1134.4,1029.7 1138.8,1029.7 1138.8,1049.6 1143.2,1049.6 1143.2,1060.4 1147.6,1060.4 1147.6,1071.7 1152.0,1071.7 1152.0,1074.4 1156.4,1074.4 1156.4,1075.9 1160.8,1075.9 1160.8,1066.2 1165.2,1066.2 1165.2,1055.0 1169.6,1055.0 1169.6,1048.2 1174.0,1048.2 1174.0,1047.2 1178.4,1047.2 1178.4,1051.4 1182.8,1051.4 1182.8,1057.1 1187.2,1057.1 1187.2,1065.7 1191.6,1065.7 1191.6,1072.2 1196.0,1072.2 1196.0,1081.1 1200.4,1081.1 1200.4,1086.9 1204.8,1086.9 1204.8,1091.3 1209.2,1091.3 1209.2,1093.3 1213.6,1093.3 1213.6,1094.0 1218.0,1094.0 1218.0,1095.6 1222.4,1095.6 1222.4,1092.2 1226.8,1092.2 1226.8,1086.6 1231.2,1086.6 1231.2,1081.2 1235.6,1081.2 1235.6,1065.5 1240.0,1065.5 1240.0,1044.8 1244.4,1044.8 1244.4,1030.9 1248.8,1030.9 1248.8,1044.7 1253.2,1044.7 1253.2,1057.6 1257.6,1057.6 1257.6,1071.6 1262.0,1071.6 1262.0,1082.3 1266.4,1082.3 1266.4,1088.4 1270.8,1088.4 1270.8,1092.2 1275.2,1092.2 1275.2,1091.7 1279.6,1091.7 1279.6,1075.0 1284.0,1075.0 1284.0,1068.5 1288.4,1068.5 1288.4,1079.6 1292.8,1079.6 1292.8,1099.0 1297.2,1099.0 1297.2,1102.5 1301.6,1102.5 1301.6,1102.0 1306.0,1102.0 1306.0,1099.4 1310.4,1099.4 1310.4,1092.7 1314.8,1092.7 1314.8,1076.6 1319.2,1076.6 1319.2,1047.1 1323.6,1047.1 1323.6,1027.6 1328.0,1027.6 1328.0,1026.5 1332.4,1026.5 1332.4,1060.8 1336.8,1060.8 1336.8,1085.5 1341.2,1085.5 1341.2,1077.3 1345.6,1077.3 1345.6,1069.8 1350.0,1069.8 1350.0,1052.5 1354.4,1052.5 1354.4,1038.6 1358.8,1038.6 1358.8,1043.0 1363.2,1043.0 1363.2,1069.7 1367.6,1069.7 1367.6,1087.4 1372.0,1087.4 1372.0,1094.0 1376.4,1094.0 1376.4,1096.7 1380.8,1096.7 1380.8,1101.6 1385.2,1101.6 1385.2,1104.9 1389.6,1104.9 1389.6,1102.6 1394.0,1102.6 1394.0,1108.6 1398.4,1108.6 1398.4,1108.8 1402.8,1108.8 1402.8,1118.3 1407.2,1118.3 1407.2,1107.2 1411.6,1107.2 1411.6,1100.2 1416.0,1100.2 1416.0,1092.4 1420.4,1092.4 1420.4,1091.0 1424.8,1091.0 1424.8,1094.4 1429.2,1094.4 1429.2,1094.6 1433.6,1094.6 1433.6,1095.2 1438.0,1095.2 1438.0,1094.4 1442.4,1094.4 1442.4,1099.3 1446.8,1099.3 1446.8,1102.1 1451.2,1102.1 1451.2,1112.3 1455.6,1112.3 1455.6,1112.7 1460.0,1112.7 1460.0,1113.0 1464.4,1113.0 1464.4,1124.5 1468.8,1124.5 1468.8,1118.6 1473.2,1118.6 1473.2,1112.6 1477.6,1112.6 1477.6,1101.3 1482.0,1101.3 1482.0,1084.7 1486.4,1084.7 1486.4,1068.9 1490.8,1068.9 1490.8,1080.0 1495.2,1080.0 1495.2,1091.9 1499.6,1091.9 1499.6,1094.6 1504.0,1094.6 1504.0,1104.6 1508.4,1104.6 1508.4,1114.2 1512.8,1114.2 1512.8,1122.4 1517.2,1122.4 1517.2,1123.6 1521.6,1123.6 1521.6,1120.3 1526.0,1120.3 1526.0,1118.4 1530.4,1118.4 1530.4,1114.6 1534.8,1114.6 1534.8,1119.4 1539.2,1119.4 1539.2,1113.2 1543.6,1113.2 1543.6,1121.2 1548.0,1121.2 1548.0,1121.2 1552.4,1121.2 1552.4,1123.4 1556.8,1123.4 1556.8,1122.3 1561.2,1122.3 1561.2,1123.0 1565.6,1123.0 1565.6,1109.1 1570.0,1109.1 1570.0,1110.2 1574.4,1110.2 1574.4,1105.6 1578.8,1105.6 1578.8,1107.4 1583.2,1107.4 1583.2,1109.6 1587.6,1109.6 1587.6,1104.3 1592.0,1104.3 1592.0,1107.0 1596.4,1107.0 1596.4,1109.8 1600.8,1109.8 1600.8,1114.6 1605.2,1114.6 1605.2,1108.3 1609.6,1108.3 1609.6,1113.8 1614.0,1113.8 1614.0,1118.1 1618.4,1118.1 1618.4,1122.8 1622.8,1122.8 1622.8,1129.0 1627.2,1129.0 1627.2,1121.6 1631.6,1121.6 1631.6,1131.0 1636.0,1131.0 1636.0,1130.8 1640.4,1130.8 1640.4,1135.5 1644.8,1135.5 1644.8,1129.7 1649.2,1129.7 1649.2,1133.0 1653.6,1133.0 1653.6,1134.9 1658.0,1134.9 1658.0,1129.8 1662.4,1129.8 1662.4,1135.4 1666.8,1135.4 1666.8,1135.5 1671.2,1135.5 1671.2,1135.1 1675.6,1135.1 1675.6,1139.0 1680.0,1139.0 1680.0,1142.0 1684.4,1142.0 1684.4,1144.1 1688.8,1144.1 1688.8,1146.1 1693.2,1146.1 1693.2,1141.2 1697.6,1141.2 1697.6,1141.1 1702.0,1141.1 1702.0,1134.0 1706.4,1134.0 1706.4,1127.1 1710.8,1127.1 1710.8,1117.3 1715.2,1117.3 1715.2,1123.4 1719.6,1123.4 1719.6,1126.9 1724.0,1126.9 1724.0,1132.5 1728.4,1132.5 1728.4,1128.2 1732.8,1128.2 1732.8,1135.7 1737.2,1135.7 1737.2,1133.5 1741.6,1133.5 1741.6,1134.3 1746.0,1134.3 1746.0,1138.0 1750.4,1138.0 1750.4,1135.4 1754.8,1135.4 1754.8,1138.7 1759.2,1138.7 1759.2,1139.3 1763.6,1139.3 1763.6,1138.9 1768.0,1138.9 1768.0,1141.9 1772.4,1141.9 1772.4,1145.9 1776.8,1145.9 1776.8,1148.6 1781.2,1148.6 1781.2,1147.4 1785.6,1147.4 1785.6,1150.5 1790.0,1150.5 1790.0,1152.7 1794.4,1152.7 1794.4,1148.9 1798.8,1148.9 1798.8,1147.8 1803.2,1147.8 1803.2,1141.9 1807.6,1141.9 1807.6,1145.9 1812.0,1145.9 1812.0,1146.6 1816.4,1146.6 1816.4,1140.9 1820.8,1140.9 1820.8,1142.2 1825.2,1142.2 1825.2,1139.4 1829.6,1139.4 1829.6,1138.6 1834.0,1138.6 1834.0,1138.9 1837.7,1138.9 1837.7,1160.0 1834.0,1160.0 1834.0,1155.1 1829.6,1155.1 1829.6,1158.6 1825.2,1158.6 1825.2,1160.1 1820.8,1160.1 1820.8,1158.6 1816.4,1158.6 1816.4,1164.0 1812.0,1164.0 1812.0,1165.0 1807.6,1165.0 1807.6,1164.3 1803.2,1164.3 1803.2,1162.7 1798.8,1162.7 1798.8,1164.7 1794.4,1164.7 1794.4,1167.3 1790.0,1167.3 1790.0,1166.8 1785.6,1166.8 1785.6,1171.0 1781.2,1171.0 1781.2,1167.5 1776.8,1167.5 1776.8,1165.6 1772.4,1165.6 1772.4,1163.9 1768.0,1163.9 1768.0,1159.6 1763.6,1159.6 1763.6,1158.6 1759.2,1158.6 1759.2,1155.7 1754.8,1155.7 1754.8,1156.1 1750.4,1156.1 1750.4,1153.6 1746.0,1153.6 1746.0,1152.6 1741.6,1152.6 1741.6,1151.3 1737.2,1151.3 1737.2,1147.6 1732.8,1147.6 1732.8,1148.5 1728.4,1148.5 1728.4,1147.7 1724.0,1147.7 1724.0,1142.6 1719.6,1142.6 1719.6,1139.4 1715.2,1139.4 1715.2,1142.0 1710.8,1142.0 1710.8,1150.3 1706.4,1150.3 1706.4,1150.9 1702.0,1150.9 1702.0,1164.2 1697.6,1164.2 1697.6,1166.3 1693.2,1166.3 1693.2,1163.3 1688.8,1163.3 1688.8,1161.0 1684.4,1161.0 1684.4,1158.3 1680.0,1158.3 1680.0,1157.4 1675.6,1157.4 1675.6,1151.8 1671.2,1151.8 1671.2,1151.9 1666.8,1151.9 1666.8,1155.5 1662.4,1155.5 1662.4,1152.4 1658.0,1152.4 1658.0,1150.0 1653.6,1150.0 1653.6,1149.2 1649.2,1149.2 1649.2,1151.3 1644.8,1151.3 1644.8,1149.4 1640.4,1149.4 1640.4,1151.0 1636.0,1151.0 1636.0,1148.5 1631.6,1148.5 1631.6,1144.4 1627.2,1144.4 1627.2,1145.5 1622.8,1145.5 1622.8,1139.4 1618.4,1139.4 1618.4,1139.5 1614.0,1139.5 1614.0,1134.2 1609.6,1134.2 1609.6,1133.4 1605.2,1133.4 1605.2,1129.4 1600.8,1129.4 1600.8,1122.4 1596.4,1122.4 1596.4,1123.6 1592.0,1123.6 1592.0,1126.7 1587.6,1126.7 1587.6,1124.8 1583.2,1124.8 1583.2,1126.7 1578.8,1126.7 1578.8,1126.6 1574.4,1126.6 1574.4,1128.3 1570.0,1128.3 1570.0,1134.1 1565.6,1134.1 1565.6,1142.6 1561.2,1142.6 1561.2,1139.9 1556.8,1139.9 1556.8,1137.6 1552.4,1137.6 1552.4,1139.6 1548.0,1139.6 1548.0,1139.3 1543.6,1139.3 1543.6,1134.9 1539.2,1134.9 1539.2,1135.5 1534.8,1135.5 1534.8,1137.1 1530.4,1137.1 1530.4,1137.1 1526.0,1137.1 1526.0,1137.0 1521.6,1137.0 1521.6,1146.0 1517.2,1146.0 1517.2,1139.8 1512.8,1139.8 1512.8,1136.8 1508.4,1136.8 1508.4,1124.3 1504.0,1124.3 1504.0,1117.5 1499.6,1117.5 1499.6,1114.9 1495.2,1114.9 1495.2,1102.4 1490.8,1102.4 1490.8,1090.0 1486.4,1090.0 1486.4,1110.7 1482.0,1110.7 1482.0,1123.0 1477.6,1123.0 1477.6,1133.8 1473.2,1133.8 1473.2,1140.3 1468.8,1140.3 1468.8,1143.9 1464.4,1143.9 1464.4,1139.3 1460.0,1139.3 1460.0,1132.8 1455.6,1132.8 1455.6,1128.6 1451.2,1128.6 1451.2,1123.1 1446.8,1123.1 1446.8,1116.6 1442.4,1116.6 1442.4,1108.4 1438.0,1108.4 1438.0,1111.0 1433.6,1111.0 1433.6,1110.3 1429.2,1110.3 1429.2,1108.6 1424.8,1108.6 1424.8,1109.9 1420.4,1109.9 1420.4,1111.0 1416.0,1111.0 1416.0,1121.5 1411.6,1121.5 1411.6,1126.0 1407.2,1126.0 1407.2,1132.1 1402.8,1132.1 1402.8,1127.8 1398.4,1127.8 1398.4,1122.8 1394.0,1122.8 1394.0,1121.2 1389.6,1121.2 1389.6,1118.0 1385.2,1118.0 1385.2,1116.0 1380.8,1116.0 1380.8,1114.8 1376.4,1114.8 1376.4,1109.5 1372.0,1109.5 1372.0,1107.5 1367.6,1107.5 1367.6,1093.9 1363.2,1093.9 1363.2,1078.1 1358.8,1078.1 1358.8,1058.8 1354.4,1058.8 1354.4,1076.8 1350.0,1076.8 1350.0,1085.3 1345.6,1085.3 1345.6,1096.3 1341.2,1096.3 1341.2,1097.7 1336.8,1097.7 1336.8,1091.9 1332.4,1091.9 1332.4,1064.5 1328.0,1064.5 1328.0,1053.6 1323.6,1053.6 1323.6,1079.5 1319.2,1079.5 1319.2,1100.3 1314.8,1100.3 1314.8,1110.5 1310.4,1110.5 1310.4,1112.3 1306.0,1112.3 1306.0,1114.5 1301.6,1114.5 1301.6,1116.7 1297.2,1116.7 1297.2,1111.2 1292.8,1111.2 1292.8,1103.8 1288.4,1103.8 1288.4,1089.0 1284.0,1089.0 1284.0,1098.6 1279.6,1098.6 1279.6,1109.7 1275.2,1109.7 1275.2,1109.2 1270.8,1109.2 1270.8,1103.5 1266.4,1103.5 1266.4,1094.7 1262.0,1094.7 1262.0,1088.3 1257.6,1088.3 1257.6,1080.8 1253.2,1080.8 1253.2,1065.7 1248.8,1065.7 1248.8,1052.3 1244.4,1052.3 1244.4,1072.9 1240.0,1072.9 1240.0,1090.9 1235.6,1090.9 1235.6,1096.3 1231.2,1096.3 1231.2,1101.0 1226.8,1101.0 1226.8,1106.5 1222.4,1106.5 1222.4,1107.7 1218.0,1107.7 1218.0,1106.2 1213.6,1106.2 1213.6,1108.4 1209.2,1108.4 1209.2,1105.1 1204.8,1105.1 1204.8,1101.8 1200.4,1101.8 1200.4,1096.3 1196.0,1096.3 1196.0,1088.8 1191.6,1088.8 1191.6,1077.1 1187.2,1077.1 1187.2,1071.0 1182.8,1071.0 1182.8,1065.0 1178.4,1065.0 1178.4,1061.6 1174.0,1061.6 1174.0,1062.5 1169.6,1062.5 1169.6,1072.8 1165.2,1072.8 1165.2,1081.9 1160.8,1081.9 1160.8,1091.3 1156.4,1091.3 1156.4,1089.9 1152.0,1089.9 1152.0,1084.5 1147.6,1084.5 1147.6,1077.9 1143.2,1077.9 1143.2,1070.0 1138.8,1070.0 1138.8,1056.9 1134.4,1056.9 1134.4,1049.3 1130.0,1049.3 1130.0,1075.1 1125.6,1075.1 1125.6,1091.8 1121.2,1091.8 1121.2,1099.5 1116.8,1099.5 1116.8,1107.7 1112.4,1107.7 1112.4,1112.4 1108.0,1112.4 1108.0,1108.0 1103.6,1108.0 1103.6,1094.4 1099.2,1094.4 1099.2,1077.4 1094.8,1077.4 1094.8,1078.9 1090.4,1078.9 1090.4,1085.2 1086.0,1085.2 1086.0,1075.7 1081.6,1075.7 1081.6,1063.4 1077.2,1063.4 1077.2,1055.7 1072.8,1055.7 1072.8,1054.9 1068.4,1054.9 1068.4,1048.5 1064.0,1048.5 1064.0,1027.2 1059.6,1027.2 1059.6,1040.3 1055.2,1040.3 1055.2,1058.8 1050.8,1058.8 1050.8,1064.7 1046.4,1064.7 1046.4,1065.9 1042.0,1065.9 1042.0,1072.2 1037.6,1072.2 1037.6,1059.7 1033.2,1059.7 1033.2,1040.2 1028.8,1040.2 1028.8,1020.8 1024.4,1020.8 1024.4,1004.0 1020.0,1004.0 1020.0,1029.3 1015.6,1029.3 1015.6,1061.8 1011.2,1061.8 1011.2,1055.4 1006.8,1055.4 1006.8,1028.1 1002.4,1028.1 1002.4,1008.4 998.0,1008.4 998.0,1028.8 993.6,1028.8 993.6,1035.8 989.2,1035.8 989.2,1048.9 984.8,1048.9 984.8,1064.4 980.4,1064.4 980.4,1082.7 976.0,1082.7 976.0,1089.5 971.6,1089.5 971.6,1082.2 967.2,1082.2 967.2,1074.2 962.8,1074.2 962.8,1070.6 958.4,1070.6 958.4,1052.7 954.0,1052.7 954.0,1031.3 949.6,1031.3 949.6,1056.4 945.2,1056.4 945.2,1071.3 940.8,1071.3 940.8,1084.0 936.4,1084.0 936.4,1097.9 932.0,1097.9 932.0,1103.5 927.6,1103.5 927.6,1103.4 923.2,1103.4 923.2,1100.8 918.8,1100.8 918.8,1098.9 914.4,1098.9 914.4,1088.8 910.0,1088.8 910.0,1078.9 905.6,1078.9 905.6,1066.0 901.2,1066.0 901.2,1054.1 896.8,1054.1 896.8,1048.3 892.4,1048.3 892.4,1039.3 888.0,1039.3 888.0,1051.7 883.6,1051.7 883.6,1066.7 879.2,1066.7 879.2,1076.8 874.8,1076.8 874.8,1081.0 870.4,1081.0 870.4,1077.5 866.0,1077.5 866.0,1070.8 861.6,1070.8 861.6,1054.8 857.2,1054.8 857.2,1046.2 852.8,1046.2 852.8,1067.9 848.4,1067.9 848.4,1086.0 844.0,1086.0 844.0,1103.9 839.6,1103.9 839.6,1106.3 835.2,1106.3 835.2,1105.6 830.8,1105.6 830.8,1099.0 826.4,1099.0 826.4,1094.8 822.0,1094.8 822.0,1080.1 817.6,1080.1 817.6,1056.5 813.2,1056.5 813.2,1023.7 808.8,1023.7 808.8,988.5 804.4,988.5 804.4,963.4 800.0,963.4 800.0,993.9 795.6,993.9 795.6,1047.6 791.2,1047.6 791.2,1069.5 786.8,1069.5 786.8,1078.3 782.4,1078.3 782.4,1054.4 778.0,1054.4 778.0,1019.4 773.6,1019.4 773.6,1039.4 769.2,1039.4 769.2,1057.8 764.8,1057.8 764.8,1074.1 760.4,1074.1 760.4,1090.5 756.0,1090.5 756.0,1105.8 751.6,1105.8 751.6,1107.3 747.2,1107.3 747.2,1082.9 742.8,1082.9 742.8,1063.3 738.4,1063.3 738.4,1066.6 734.0,1066.6 734.0,1075.4 729.6,1075.4 729.6,1088.6 725.2,1088.6 725.2,1086.7 720.8,1086.7 720.8,1079.1 716.4,1079.1 716.4,1070.2 712.0,1070.2 712.0,1064.3 707.6,1064.3 707.6,1069.6 703.2,1069.6 703.2,1081.7 698.8,1081.7 698.8,1086.9 694.4,1086.9 694.4,1078.6 690.0,1078.6 690.0,1068.5 685.6,1068.5 685.6,1061.5 681.2,1061.5 681.2,1087.0 676.8,1087.0 676.8,1093.2 672.4,1093.2 672.4,1090.9 668.0,1090.9 668.0,1084.4 663.6,1084.4 663.6,1080.8 659.2,1080.8 659.2,1074.5 654.8,1074.5 654.8,1064.6 650.4,1064.6 650.4,1049.9 646.0,1049.9 646.0,1024.5 641.6,1024.5 641.6,1051.0 637.2,1051.0 637.2,1064.0 632.8,1064.0 632.8,1079.8 628.4,1079.8 628.4,1094.6 624.0,1094.6 624.0,1089.2 619.6,1089.2 619.6,1080.6 615.2,1080.6 615.2,1069.7 610.8,1069.7 610.8,1048.8 606.4,1048.8 606.4,1029.9 602.0,1029.9 602.0,1056.6 597.6,1056.6 597.6,1060.1 593.2,1060.1 593.2,1037.3 588.8,1037.3 588.8,953.4 584.4,953.4 584.4,850.4 580.0,850.4 580.0,942.9 575.6,942.9 575.6,990.2 571.2,990.2 571.2,1000.0 566.8,1000.0 566.8,1029.4 562.4,1029.4 562.4,1055.8 558.0,1055.8 558.0,1073.2 553.6,1073.2 553.6,1085.9 549.2,1085.9 549.2,1093.4 544.8,1093.4 544.8,1089.3 540.4,1089.3 540.4,1085.7 536.0,1085.7 536.0,1057.4 531.6,1057.4 531.6,1013.4 527.2,1013.4 527.2,1033.1 522.8,1033.1 522.8,1050.5 518.4,1050.5 518.4,1069.7 514.0,1069.7 514.0,1077.8 509.6,1077.8 509.6,1072.5 505.2,1072.5 505.2,1062.0 500.8,1062.0 500.8,974.4 496.4,974.4 496.4,974.5 492.0,974.5 492.0,1016.8 487.6,1016.8 487.6,1029.2 483.2,1029.2 483.2,1009.2 478.8,1009.2 478.8,947.7 474.4,947.7 474.4,1043.1 470.0,1043.1 470.0,1076.9 465.6,1076.9 465.6,1087.6 461.2,1087.6 461.2,1081.8 456.8,1081.8 456.8,1072.5 452.4,1072.5 452.4,1068.8 448.0,1068.8 448.0,1058.7 443.6,1058.7 443.6,1052.6 439.2,1052.6 439.2,1054.3 434.8,1054.3 434.8,1050.5 430.4,1050.5 430.4,1053.8 426.0,1053.8 426.0,1061.2 421.6,1061.2 421.6,1070.1 417.2,1070.1 417.2,1058.8 412.8,1058.8 412.8,1035.4 408.4,1035.4 408.4,1058.5 404.0,1058.5 404.0,1079.5 399.6,1079.5 399.6,1078.8 395.2,1078.8 395.2,1068.4 390.8,1068.4 390.8,1052.0 386.4,1052.0 386.4,1033.9 382.0,1033.9 382.0,1001.4 377.6,1001.4 377.6,964.3 373.2,964.3 373.2,992.4 368.8,992.4 368.8,980.2 364.4,980.2 364.4,897.6 360.0,897.6 360.0,781.3 355.6,781.3 355.6,916.9 351.2,916.9 351.2,1036.7 346.8,1036.7 346.8,1063.7 342.4,1063.7 342.4,1055.8 338.0,1055.8 338.0,1023.0 333.6,1023.0 333.6,937.1 329.2,937.1 329.2,1005.1 324.8,1005.1 324.8,985.9 320.4,985.9 320.4,965.0 316.0,965.0 316.0,993.1 311.6,993.1 311.6,1043.0 307.2,1043.0 307.2,1046.5 302.8,1046.5 302.8,1040.1 298.4,1040.1 298.4,1032.9 294.0,1032.9 294.0,1004.3 289.6,1004.3 289.6,1025.5 285.2,1025.5 285.2,1041.5 280.8,1041.5 280.8,1019.5 276.4,1019.5 276.4,1043.0 272.0,1043.0 272.0,1050.8 267.6,1050.8 267.6,1069.4 263.2,1069.4 263.2,1072.8 258.8,1072.8 258.8,1069.9 254.4,1069.9 254.4,1068.1 250.0,1068.1 250.0,1078.6 245.6,1078.6 245.6,1086.1 241.2,1086.1 241.2,1081.3 236.8,1081.3 236.8,1062.2 232.4,1062.2 232.4,996.2 228.0,996.2 228.0,989.3 223.6,989.3 223.6,1023.9 219.2,1023.9 219.2,1057.5 214.8,1057.5 214.8,1075.7 210.4,1075.7 210.4,1088.2 206.0,1088.2 206.0,1083.2 201.6,1083.2 201.6,1075.1 197.2,1075.1 197.2,1076.4 192.8,1076.4 Z" fill="#000"/>
<text transform="translate(295.5,240.4) rotate(-90)" font-family="'Liberation Serif', 'Times New Roman', serif" font-weight="bold" font-size="45" text-anchor="middle" fill="#000">(101)</text>
<text transform="translate(369.0,136.0) rotate(-90)" font-family="'Liberation Serif', 'Times New Roman', serif" font-weight="bold" font-size="45" text-anchor="middle" fill="#000">(102)</text>
<text transform="translate(484.5,141.4) rotate(-90)" font-family="'Liberation Serif', 'Times New Roman', serif" font-weight="bold" font-size="45" text-anchor="middle" fill="#000">(103)</text>
<text transform="translate(1172.0,101.3) rotate(-90)" font-family="'Liberation Serif', 'Times New Roman', serif" font-weight="bold" font-size="45" text-anchor="middle" fill="#000">(110)</text>
<text transform="translate(1400.0,342.0) rotate(-90)" font-family="'Liberation Serif', 'Times New Roman', serif" font-weight="bold" font-size="45" text-anchor="middle" fill="#000">(108)</text>
<text transform="translate(1587.0,390.0) rotate(-90)" font-family="'Liberation Serif', 'Times New Roman', serif" font-weight="bold" font-size="45" text-anchor="middle" fill="#000">(201)</text>
<text transform="translate(1695.0,280.0) rotate(-90)" font-family="'Liberation Serif', 'Times New Roman', serif" font-weight="bold" font-size="45" text-anchor="middle" fill="#000">(116)</text>
<text transform="translate(236.0,760.0) rotate(-90)" font-family="'Liberation Serif', 'Times New Roman', serif" font-weight="bold" font-size="45" text-anchor="middle" fill="#000">(002)</text>
<text transform="translate(595.4,684.0) rotate(-90)" font-family="'Liberation Serif', 'Times New Roman', serif" font-weight="bold" font-size="45" text-anchor="middle" fill="#000">(101)</text>
<text transform="translate(809.0,820.0) rotate(-90)" font-family="'Liberation Serif', 'Times New Roman', serif" font-weight="bold" font-size="45" text-anchor="middle" fill="#000">(102)</text>
<text transform="translate(1030.0,866.0) rotate(-90)" font-family="'Liberation Serif', 'Times New Roman', serif" font-weight="bold" font-size="45" text-anchor="middle" fill="#000">(110)</text>
<text transform="translate(1296.0,930.0) rotate(-90)" font-family="'Liberation Serif', 'Times New Roman', serif" font-weight="bold" font-size="45" text-anchor="middle" fill="#000">(103)</text>
<text x="848" y="126" font-family="'Liberation Serif', 'Times New Roman', serif" font-weight="bold" font-size="100" fill="#000">(A)</text>
<text x="1749" y="317" font-family="'Liberation Serif', 'Times New Roman', serif" font-weight="bold" font-size="60" fill="#000">(ii)</text>
<text x="1756" y="1099.5" font-family="'Liberation Serif', 'Times New Roman', serif" font-weight="bold" font-size="59" fill="#000">(i)</text>
<path d="M222.7,821.5 L237.2,841.0 L222.7,860.5 L208.2,841.0 Z" fill="#ff0000"/>
<path d="M583.9,741.0 L598.4,760.5 L583.9,780.0 L569.4,760.5 Z" fill="#ff0000"/>
<path d="M798.8,877.5 L813.3,897.0 L798.8,916.5 L784.3,897.0 Z" fill="#ff0000"/>
<path d="M1021.0,924.0 L1035.5,943.5 L1021.0,963.0 L1006.5,943.5 Z" fill="#ff0000"/>
<path d="M1282.0,999.1 L1296.5,1018.6 L1282.0,1038.1 L1267.5,1018.6 Z" fill="#ff0000"/>
<path d="M1551.5,700.5 L1566.0,720.0 L1551.5,739.5 L1537.0,720.0 Z" fill="#ff0000"/>
<text transform="translate(274.0,956.0) scale(0.84,1)" font-family="'Liberation Sans', Arial, sans-serif" font-size="58" text-anchor="middle" fill="#00b4f0" stroke="#00b4f0" stroke-width="1.2">#</text>
<text transform="translate(356.8,680.0) scale(0.84,1)" font-family="'Liberation Sans', Arial, sans-serif" font-size="58" text-anchor="middle" fill="#00b4f0" stroke="#00b4f0" stroke-width="1.2">#</text>
<text transform="translate(489.5,876.0) scale(0.84,1)" font-family="'Liberation Sans', Arial, sans-serif" font-size="58" text-anchor="middle" fill="#00b4f0" stroke="#00b4f0" stroke-width="1.2">#</text>
<text transform="translate(1180.0,1031.0) scale(0.84,1)" font-family="'Liberation Sans', Arial, sans-serif" font-size="58" text-anchor="middle" fill="#00b4f0" stroke="#00b4f0" stroke-width="1.2">#</text>
<text transform="translate(1424.6,1078.4) scale(0.84,1)" font-family="'Liberation Sans', Arial, sans-serif" font-size="58" text-anchor="middle" fill="#00b4f0" stroke="#00b4f0" stroke-width="1.2">#</text>
<text transform="translate(1719.5,1101.6) scale(0.84,1)" font-family="'Liberation Sans', Arial, sans-serif" font-size="58" text-anchor="middle" fill="#00b4f0" stroke="#00b4f0" stroke-width="1.2">#</text>
<text transform="translate(1551.7,823.0) scale(0.84,1)" font-family="'Liberation Sans', Arial, sans-serif" font-size="58" text-anchor="middle" fill="#00b4f0" stroke="#00b4f0" stroke-width="1.2">#</text>
<text x="1590" y="742" font-family="'Liberation Serif', 'Times New Roman', serif" font-weight="bold" font-size="68" fill="#000">= Cu<tspan font-size="44" dy="13">2</tspan><tspan dy="-13">S</tspan></text>
<text x="1582" y="825" font-family="'Liberation Serif', 'Times New Roman', serif" font-weight="bold" font-size="68" fill="#000">= CuS</text>
<path d="M110,1612 L1860,1612 L1860,2769 L110,2769 Z" fill="none" stroke="#404040" stroke-width="5.5"/>
<path d="M109.0,2769 L109.0,2790.0 M234.1,2769 L234.1,2781.0 M359.1,2769 L359.1,2790.0 M484.2,2769 L484.2,2781.0 M609.3,2769 L609.3,2790.0 M734.4,2769 L734.4,2781.0 M859.4,2769 L859.4,2790.0 M984.5,2769 L984.5,2781.0 M1109.6,2769 L1109.6,2790.0 M1234.6,2769 L1234.6,2781.0 M1359.7,2769 L1359.7,2790.0 M1484.8,2769 L1484.8,2781.0 M1609.9,2769 L1609.9,2790.0 M1734.9,2769 L1734.9,2781.0 M1860.0,2769 L1860.0,2790.0" stroke="#3c3c3c" stroke-width="5" fill="none"/>
<text x="109.0" y="2842" font-family="'Liberation Sans', Arial, sans-serif" font-weight="bold" font-size="50" text-anchor="middle" fill="#1e1e1e">1200</text>
<text x="359.1" y="2842" font-family="'Liberation Sans', Arial, sans-serif" font-weight="bold" font-size="50" text-anchor="middle" fill="#1e1e1e">1600</text>
<text x="609.3" y="2842" font-family="'Liberation Sans', Arial, sans-serif" font-weight="bold" font-size="50" text-anchor="middle" fill="#1e1e1e">2000</text>
<text x="859.4" y="2842" font-family="'Liberation Sans', Arial, sans-serif" font-weight="bold" font-size="50" text-anchor="middle" fill="#1e1e1e">2400</text>
<text x="1109.6" y="2842" font-family="'Liberation Sans', Arial, sans-serif" font-weight="bold" font-size="50" text-anchor="middle" fill="#1e1e1e">2800</text>
<text x="1359.7" y="2842" font-family="'Liberation Sans', Arial, sans-serif" font-weight="bold" font-size="50" text-anchor="middle" fill="#1e1e1e">3200</text>
<text x="1609.9" y="2842" font-family="'Liberation Sans', Arial, sans-serif" font-weight="bold" font-size="50" text-anchor="middle" fill="#1e1e1e">3600</text>
<text x="1860.0" y="2842" font-family="'Liberation Sans', Arial, sans-serif" font-weight="bold" font-size="50" text-anchor="middle" fill="#1e1e1e">4000</text>
<text x="704" y="2978" font-family="'Liberation Sans', Arial, sans-serif" font-weight="bold" font-size="59" fill="#1e1e1e">Wavenumber (cm<tspan dy="-26" dx="2">-1</tspan><tspan dy="26" dx="0">)</tspan></text>
<text x="963" y="1705" font-family="'Liberation Serif', 'Times New Roman', serif" font-weight="bold" font-size="82" fill="#000">(B)</text>
<path d="M110.4,1857.6 C110.7,1857.8 111.4,1858.4 111.9,1858.8 C112.4,1859.1 112.9,1859.5 113.4,1859.7 C113.9,1859.8 114.4,1859.5 114.9,1859.8 C115.4,1860.1 115.9,1860.8 116.4,1861.5 C116.9,1862.2 117.4,1863.2 117.9,1864.0 C118.4,1864.8 118.9,1865.4 119.4,1866.2 C119.9,1867.1 120.4,1867.1 120.9,1869.0 C121.4,1871.0 121.9,1874.8 122.4,1877.9 C122.9,1880.9 123.4,1884.0 123.9,1887.5 C124.4,1890.9 124.9,1894.7 125.4,1898.6 C125.9,1902.5 126.4,1906.8 126.9,1911.1 C127.4,1915.3 127.9,1919.8 128.4,1924.0 C128.9,1928.2 129.4,1936.4 129.9,1936.3 C130.4,1936.2 130.9,1927.7 131.4,1923.4 C131.9,1919.1 132.4,1915.9 132.9,1910.7 C133.4,1905.6 133.9,1898.8 134.4,1892.2 C134.9,1885.6 135.4,1876.3 135.9,1871.2 C136.4,1866.1 136.9,1864.7 137.4,1861.7 C137.9,1858.6 138.4,1854.4 138.9,1852.9 C139.4,1851.3 139.9,1852.4 140.4,1852.2 C140.9,1852.1 141.4,1851.9 141.9,1851.7 C142.4,1851.5 142.9,1851.2 143.4,1851.1 C143.9,1850.9 144.4,1850.8 144.9,1850.6 C145.4,1850.5 145.9,1850.1 146.4,1850.2 C146.9,1850.3 147.4,1850.9 147.9,1851.3 C148.4,1851.7 148.9,1852.4 149.4,1852.9 C149.9,1853.3 150.4,1853.6 150.9,1854.0 C151.4,1854.4 151.9,1854.3 152.4,1855.2 C152.9,1856.1 153.4,1858.2 153.9,1859.3 C154.4,1860.4 154.9,1860.8 155.4,1861.8 C155.9,1862.8 156.4,1863.7 156.9,1865.4 C157.4,1867.1 157.9,1869.6 158.4,1872.0 C158.9,1874.4 159.4,1877.3 159.9,1879.8 C160.4,1882.3 160.9,1883.2 161.4,1886.8 C161.9,1890.4 162.4,1895.6 162.9,1901.3 C163.4,1907.0 163.9,1914.9 164.4,1921.2 C164.9,1927.4 165.4,1932.9 165.9,1938.7 C166.4,1944.5 166.9,1950.5 167.4,1956.0 C167.9,1961.6 168.4,1968.2 168.9,1972.2 C169.4,1976.1 169.9,1981.7 170.4,1979.9 C170.9,1978.1 171.4,1967.7 171.9,1961.5 C172.4,1955.2 172.9,1949.3 173.4,1942.5 C173.9,1935.7 174.4,1928.4 174.9,1920.7 C175.4,1913.1 175.9,1904.7 176.4,1896.6 C176.9,1888.6 177.4,1877.2 177.9,1872.2 C178.4,1867.3 178.9,1868.5 179.4,1866.7 C179.9,1864.9 180.4,1863.0 180.9,1861.4 C181.4,1859.9 181.9,1858.4 182.4,1857.6 C182.9,1856.8 183.4,1856.2 183.9,1856.6 C184.4,1857.0 184.9,1858.8 185.4,1860.0 C185.9,1861.3 186.4,1862.1 186.9,1864.2 C187.4,1866.2 187.9,1870.5 188.4,1872.6 C188.9,1874.7 189.4,1877.4 189.9,1876.8 C190.4,1876.3 190.9,1871.9 191.4,1869.1 C191.9,1866.4 192.4,1862.6 192.9,1860.5 C193.4,1858.4 193.9,1857.9 194.4,1856.4 C194.9,1855.0 195.4,1853.4 195.9,1851.9 C196.4,1850.4 196.9,1848.8 197.4,1847.4 C197.9,1846.0 198.4,1843.9 198.9,1843.4 C199.4,1842.9 199.9,1844.1 200.4,1844.3 C200.9,1844.5 201.4,1844.4 201.9,1844.6 C202.4,1844.8 202.9,1845.2 203.4,1845.4 C203.9,1845.6 204.4,1845.4 204.9,1845.8 C205.4,1846.1 205.9,1847.0 206.4,1847.6 C206.9,1848.1 207.4,1848.5 207.9,1849.1 C208.4,1849.6 208.9,1850.1 209.4,1850.9 C209.9,1851.7 210.4,1852.9 210.9,1853.9 C211.4,1854.9 211.9,1855.9 212.4,1856.9 C212.9,1857.8 213.4,1858.5 213.9,1859.6 C214.4,1860.6 214.9,1861.6 215.4,1863.2 C215.9,1864.8 216.4,1867.2 216.9,1869.2 C217.4,1871.2 217.9,1873.3 218.4,1875.3 C218.9,1877.4 219.4,1879.5 219.9,1881.4 C220.4,1883.4 220.9,1886.4 221.4,1887.0 C221.9,1887.6 222.4,1886.6 222.9,1885.1 C223.4,1883.6 223.9,1880.3 224.4,1877.9 C224.9,1875.5 225.4,1872.7 225.9,1870.7 C226.4,1868.7 226.9,1867.3 227.4,1865.8 C227.9,1864.2 228.4,1862.5 228.9,1861.3 C229.4,1860.2 229.9,1859.4 230.4,1859.1 C230.9,1858.9 231.4,1859.5 231.9,1859.8 C232.4,1860.2 232.9,1860.5 233.4,1861.2 C233.9,1861.9 234.4,1863.3 234.9,1864.1 C235.4,1864.9 235.9,1865.4 236.4,1866.0 C236.9,1866.6 237.4,1868.2 237.9,1867.7 C238.4,1867.3 238.9,1864.8 239.4,1863.2 C239.9,1861.5 240.4,1859.0 240.9,1857.9 C241.4,1856.8 241.9,1857.1 242.4,1856.4 C242.9,1855.6 243.4,1854.5 243.9,1853.5 C244.4,1852.4 244.9,1850.6 245.4,1850.2 C245.9,1849.9 246.4,1850.9 246.9,1851.2 C247.4,1851.5 247.9,1851.7 248.4,1852.0 C248.9,1852.2 249.4,1852.1 249.9,1852.6 C250.4,1853.2 250.9,1854.5 251.4,1855.4 C251.9,1856.3 252.4,1857.2 252.9,1858.1 C253.4,1859.1 253.9,1860.1 254.4,1861.0 C254.9,1861.9 255.4,1862.3 255.9,1863.6 C256.4,1864.9 256.9,1866.9 257.4,1868.7 C257.9,1870.5 258.4,1872.7 258.9,1874.5 C259.4,1876.2 259.9,1877.3 260.4,1879.1 C260.9,1880.8 261.4,1882.5 261.9,1884.9 C262.4,1887.4 262.9,1890.9 263.4,1893.8 C263.9,1896.7 264.4,1899.5 264.9,1902.3 C265.4,1905.1 265.9,1907.7 266.4,1910.8 C266.9,1913.8 267.4,1917.2 267.9,1920.5 C268.4,1923.9 268.9,1927.3 269.4,1930.7 C269.9,1934.0 270.4,1939.6 270.9,1940.5 C271.4,1941.5 271.9,1939.1 272.4,1936.2 C272.9,1933.3 273.4,1927.5 273.9,1923.4 C274.4,1919.3 274.9,1915.7 275.4,1911.8 C275.9,1907.8 276.4,1903.9 276.9,1899.8 C277.4,1895.8 277.9,1890.8 278.4,1887.4 C278.9,1884.0 279.4,1880.8 279.9,1879.4 C280.4,1878.0 280.9,1879.2 281.4,1879.0 C281.9,1878.7 282.4,1878.2 282.9,1877.9 C283.4,1877.6 283.9,1877.3 284.4,1877.0 C284.9,1876.7 285.4,1876.4 285.9,1876.0 C286.4,1875.5 286.9,1875.5 287.4,1874.5 C287.9,1873.4 288.4,1871.0 288.9,1869.4 C289.4,1867.8 289.9,1866.5 290.4,1865.0 C290.9,1863.4 291.4,1861.5 291.9,1860.0 C292.4,1858.5 292.9,1857.3 293.4,1856.2 C293.9,1855.1 294.4,1853.5 294.9,1853.5 C295.4,1853.5 295.9,1855.1 296.4,1856.2 C296.9,1857.3 297.4,1859.0 297.9,1860.2 C298.4,1861.4 298.9,1861.9 299.4,1863.6 C299.9,1865.3 300.4,1868.1 300.9,1870.4 C301.4,1872.7 301.9,1875.2 302.4,1877.6 C302.9,1879.9 303.4,1882.0 303.9,1884.5 C304.4,1887.1 304.9,1889.2 305.4,1892.7 C305.9,1896.2 306.4,1901.2 306.9,1905.6 C307.4,1909.9 307.9,1913.7 308.4,1918.7 C308.9,1923.7 309.4,1928.5 309.9,1935.3 C310.4,1942.2 310.9,1950.9 311.4,1959.6 C311.9,1968.4 312.4,1979.3 312.9,1987.9 C313.4,1996.6 313.9,2004.9 314.4,2011.4 C314.9,2017.9 315.4,2026.2 315.9,2026.9 C316.4,2027.5 316.9,2020.5 317.4,2015.1 C317.9,2009.7 318.4,2002.3 318.9,1994.6 C319.4,1986.9 319.9,1979.3 320.4,1968.7 C320.9,1958.1 321.4,1943.4 321.9,1931.0 C322.4,1918.7 322.9,1904.1 323.4,1894.6 C323.9,1885.0 324.4,1880.2 324.9,1873.7 C325.4,1867.2 325.9,1860.0 326.4,1855.4 C326.9,1850.9 327.4,1849.0 327.9,1846.5 C328.4,1844.0 328.9,1841.8 329.4,1840.4 C329.9,1838.9 330.4,1838.3 330.9,1837.8 C331.4,1837.3 331.9,1837.5 332.4,1837.3 C332.9,1837.1 333.4,1836.7 333.9,1836.5 C334.4,1836.3 334.9,1836.3 335.4,1836.2 C335.9,1836.1 336.4,1835.7 336.9,1835.7 C337.4,1835.7 337.9,1836.0 338.4,1836.1 C338.9,1836.2 339.4,1836.1 339.9,1836.3 C340.4,1836.5 340.9,1837.1 341.4,1837.1 C341.9,1837.2 342.4,1836.8 342.9,1836.6 C343.4,1836.5 343.9,1836.6 344.4,1836.5 C344.9,1836.4 345.4,1835.8 345.9,1836.0 C346.4,1836.3 346.9,1837.6 347.4,1838.1 C347.9,1838.6 348.4,1838.8 348.9,1839.0 C349.4,1839.3 349.9,1839.3 350.4,1839.6 C350.9,1839.9 351.4,1840.7 351.9,1840.9 C352.4,1841.1 352.9,1840.6 353.4,1840.9 C353.9,1841.3 354.4,1843.0 354.9,1843.1 C355.4,1843.3 355.9,1842.3 356.4,1842.0 C356.9,1841.8 357.4,1841.7 357.9,1841.6 C358.4,1841.4 358.9,1841.3 359.4,1841.0 C359.9,1840.8 360.4,1840.2 360.9,1840.2 C361.4,1840.1 361.9,1840.7 362.4,1840.7 C362.9,1840.7 363.4,1840.1 363.9,1840.1 C364.4,1840.0 364.9,1840.7 365.4,1840.7 C365.9,1840.6 366.4,1839.7 366.9,1839.5 C367.4,1839.4 367.9,1839.7 368.4,1839.8 C368.9,1840.0 369.4,1840.3 369.9,1840.4 C370.4,1840.5 370.9,1840.6 371.4,1840.4 C371.9,1840.2 372.4,1839.5 372.9,1839.3 C373.4,1839.1 373.9,1839.0 374.4,1839.1 C374.9,1839.2 375.4,1839.8 375.9,1839.9 C376.4,1840.0 376.9,1839.9 377.4,1839.8 C377.9,1839.7 378.4,1839.2 378.9,1839.1 C379.4,1839.0 379.9,1839.1 380.4,1839.1 C380.9,1839.1 381.4,1839.1 381.9,1839.1 C382.4,1839.0 382.9,1838.9 383.4,1838.9 C383.9,1838.8 384.4,1838.8 384.9,1839.0 C385.4,1839.1 385.9,1839.5 386.4,1839.6 C386.9,1839.6 387.4,1839.3 387.9,1839.3 C388.4,1839.4 388.9,1839.8 389.4,1839.7 C389.9,1839.7 390.4,1839.1 390.9,1838.9 C391.4,1838.8 391.9,1839.0 392.4,1838.9 C392.9,1838.8 393.4,1838.6 393.9,1838.5 C394.4,1838.5 394.9,1838.8 395.4,1838.8 C395.9,1838.8 396.4,1838.5 396.9,1838.3 C397.4,1838.2 397.9,1838.0 398.4,1838.1 C398.9,1838.2 399.4,1838.8 399.9,1839.0 C400.4,1839.1 400.9,1839.2 401.4,1839.2 C401.9,1839.2 402.4,1839.0 402.9,1838.9 C403.4,1838.9 403.9,1839.1 404.4,1839.1 C404.9,1839.0 405.4,1838.8 405.9,1838.6 C406.4,1838.5 406.9,1838.3 407.4,1838.3 C407.9,1838.2 408.4,1838.5 408.9,1838.5 C409.4,1838.5 409.9,1838.4 410.4,1838.3 C410.9,1838.2 411.4,1838.1 411.9,1838.0 C412.4,1837.9 412.9,1837.8 413.4,1837.7 C413.9,1837.6 414.4,1837.6 414.9,1837.7 C415.4,1837.7 415.9,1838.0 416.4,1838.1 C416.9,1838.2 417.4,1838.1 417.9,1838.1 C418.4,1838.0 418.9,1837.7 419.4,1837.8 C419.9,1837.8 420.4,1838.3 420.9,1838.3 C421.4,1838.3 421.9,1837.9 422.4,1837.8 C422.9,1837.7 423.4,1837.8 423.9,1837.8 C424.4,1837.9 424.9,1838.1 425.4,1838.0 C425.9,1837.9 426.4,1837.4 426.9,1837.2 C427.4,1836.9 427.9,1836.6 428.4,1836.7 C428.9,1836.7 429.4,1837.5 429.9,1837.5 C430.4,1837.6 430.9,1836.9 431.4,1836.9 C431.9,1836.9 432.4,1837.5 432.9,1837.5 C433.4,1837.6 433.9,1837.1 434.4,1837.1 C434.9,1837.0 435.4,1837.2 435.9,1837.2 C436.4,1837.2 436.9,1837.3 437.4,1837.1 C437.9,1836.8 438.4,1836.0 438.9,1836.0 C439.4,1835.9 439.9,1836.8 440.4,1836.9 C440.9,1836.9 441.4,1836.4 441.9,1836.3 C442.4,1836.2 442.9,1836.2 443.4,1836.1 C443.9,1836.1 444.4,1836.1 444.9,1836.2 C445.4,1836.2 445.9,1836.4 446.4,1836.5 C446.9,1836.5 447.4,1836.5 447.9,1836.4 C448.4,1836.4 448.9,1836.6 449.4,1836.4 C449.9,1836.2 450.4,1835.5 450.9,1835.4 C451.4,1835.2 451.9,1835.7 452.4,1835.7 C452.9,1835.6 453.4,1834.9 453.9,1834.9 C454.4,1834.9 454.9,1835.5 455.4,1835.7 C455.9,1835.8 456.4,1835.9 456.9,1835.8 C457.4,1835.8 457.9,1835.3 458.4,1835.3 C458.9,1835.2 459.4,1835.5 459.9,1835.5 C460.4,1835.6 460.9,1835.4 461.4,1835.4 C461.9,1835.5 462.4,1835.7 462.9,1835.6 C463.4,1835.5 463.9,1835.0 464.4,1834.9 C464.9,1834.8 465.4,1834.8 465.9,1834.8 C466.4,1834.8 466.9,1834.6 467.4,1834.7 C467.9,1834.9 468.4,1835.5 468.9,1835.5 C469.4,1835.6 469.9,1835.4 470.4,1835.2 C470.9,1835.1 471.4,1834.8 471.9,1834.7 C472.4,1834.6 472.9,1834.8 473.4,1834.8 C473.9,1834.7 474.4,1834.7 474.9,1834.6 C475.4,1834.6 475.9,1834.6 476.4,1834.6 C476.9,1834.5 477.4,1834.4 477.9,1834.3 C478.4,1834.3 478.9,1834.3 479.4,1834.2 C479.9,1834.1 480.4,1833.9 480.9,1833.8 C481.4,1833.8 481.9,1833.9 482.4,1834.0 C482.9,1834.2 483.4,1834.7 483.9,1834.8 C484.4,1834.9 484.9,1834.5 485.4,1834.4 C485.9,1834.3 486.4,1834.2 486.9,1834.2 C487.4,1834.1 487.9,1834.1 488.4,1834.1 C488.9,1834.0 489.4,1834.1 489.9,1834.1 C490.4,1834.1 490.9,1834.2 491.4,1834.2 C491.9,1834.1 492.4,1833.8 492.9,1833.8 C493.4,1833.8 493.9,1834.0 494.4,1834.1 C494.9,1834.1 495.4,1834.1 495.9,1834.1 C496.4,1834.0 496.9,1833.8 497.4,1833.7 C497.9,1833.6 498.4,1833.7 498.9,1833.6 C499.4,1833.6 499.9,1833.6 500.4,1833.5 C500.9,1833.5 501.4,1833.4 501.9,1833.5 C502.4,1833.6 502.9,1834.2 503.4,1834.1 C503.9,1834.1 504.4,1833.1 504.9,1833.0 C505.4,1832.9 505.9,1833.6 506.4,1833.7 C506.9,1833.8 507.4,1833.6 507.9,1833.5 C508.4,1833.5 508.9,1833.5 509.4,1833.5 C509.9,1833.5 510.4,1833.6 510.9,1833.7 C511.4,1833.8 511.9,1834.1 512.4,1834.0 C512.9,1834.0 513.4,1833.7 513.9,1833.6 C514.4,1833.6 514.9,1833.6 515.4,1833.5 C515.9,1833.5 516.4,1833.4 516.9,1833.3 C517.4,1833.3 517.9,1833.4 518.4,1833.5 C518.9,1833.6 519.4,1833.8 519.9,1833.8 C520.4,1833.8 520.9,1833.5 521.4,1833.3 C521.9,1833.2 522.4,1833.1 522.9,1833.0 C523.4,1832.9 523.9,1832.9 524.4,1832.9 C524.9,1832.9 525.4,1833.0 525.9,1832.9 C526.4,1832.9 526.9,1832.7 527.4,1832.8 C527.9,1832.9 528.4,1833.5 528.9,1833.6 C529.4,1833.7 529.9,1833.4 530.4,1833.3 C530.9,1833.2 531.4,1833.0 531.9,1833.1 C532.4,1833.1 532.9,1833.7 533.4,1833.6 C533.9,1833.6 534.4,1832.9 534.9,1832.8 C535.4,1832.8 535.9,1833.2 536.4,1833.3 C536.9,1833.3 537.4,1833.4 537.9,1833.2 C538.4,1833.1 538.9,1832.5 539.4,1832.4 C539.9,1832.2 540.4,1832.3 540.9,1832.3 C541.4,1832.4 541.9,1832.4 542.4,1832.5 C542.9,1832.6 543.4,1833.0 543.9,1833.1 C544.4,1833.2 544.9,1833.3 545.4,1833.2 C545.9,1833.1 546.4,1832.3 546.9,1832.3 C547.4,1832.2 547.9,1833.0 548.4,1833.0 C548.9,1833.1 549.4,1832.6 549.9,1832.5 C550.4,1832.4 550.9,1832.5 551.4,1832.4 C551.9,1832.4 552.4,1832.3 552.9,1832.3 C553.4,1832.3 553.9,1832.5 554.4,1832.4 C554.9,1832.3 555.4,1831.9 555.9,1831.8 C556.4,1831.7 556.9,1832.0 557.4,1832.0 C557.9,1832.1 558.4,1831.8 558.9,1831.9 C559.4,1832.0 559.9,1832.3 560.4,1832.5 C560.9,1832.6 561.4,1832.8 561.9,1832.8 C562.4,1832.9 562.9,1833.1 563.4,1832.9 C563.9,1832.7 564.4,1831.9 564.9,1831.6 C565.4,1831.3 565.9,1831.0 566.4,1830.9 C566.9,1830.8 567.4,1831.2 567.9,1831.2 C568.4,1831.1 568.9,1830.7 569.4,1830.8 C569.9,1830.8 570.4,1831.6 570.9,1831.6 C571.4,1831.6 571.9,1831.1 572.4,1830.9 C572.9,1830.7 573.4,1830.3 573.9,1830.2 C574.4,1830.2 574.9,1830.6 575.4,1830.6 C575.9,1830.6 576.4,1830.5 576.9,1830.3 C577.4,1830.1 577.9,1829.4 578.4,1829.3 C578.9,1829.2 579.4,1829.5 579.9,1829.5 C580.4,1829.5 580.9,1829.4 581.4,1829.4 C581.9,1829.4 582.4,1829.3 582.9,1829.3 C583.4,1829.2 583.9,1829.2 584.4,1829.1 C584.9,1829.0 585.4,1828.8 585.9,1828.8 C586.4,1828.7 586.9,1828.9 587.4,1828.8 C587.9,1828.7 588.4,1828.5 588.9,1828.4 C589.4,1828.2 589.9,1828.0 590.4,1828.1 C590.9,1828.1 591.4,1828.7 591.9,1828.7 C592.4,1828.8 592.9,1828.3 593.4,1828.2 C593.9,1828.1 594.4,1828.2 594.9,1828.0 C595.4,1827.9 595.9,1827.2 596.4,1827.1 C596.9,1827.1 597.4,1827.4 597.9,1827.5 C598.4,1827.6 598.9,1827.8 599.4,1827.7 C599.9,1827.5 600.4,1826.8 600.9,1826.7 C601.4,1826.7 601.9,1827.4 602.4,1827.4 C602.9,1827.4 603.4,1826.8 603.9,1826.7 C604.4,1826.6 604.9,1826.9 605.4,1826.8 C605.9,1826.8 606.4,1826.5 606.9,1826.5 C607.4,1826.4 607.9,1826.4 608.4,1826.4 C608.9,1826.4 609.4,1826.7 609.9,1826.6 C610.4,1826.5 610.9,1825.9 611.4,1825.9 C611.9,1825.8 612.4,1826.5 612.9,1826.4 C613.4,1826.3 613.9,1825.6 614.4,1825.4 C614.9,1825.2 615.4,1825.2 615.9,1825.2 C616.4,1825.2 616.9,1825.7 617.4,1825.6 C617.9,1825.5 618.4,1824.9 618.9,1824.8 C619.4,1824.7 619.9,1824.8 620.4,1824.9 C620.9,1824.9 621.4,1825.1 621.9,1825.2 C622.4,1825.2 622.9,1825.3 623.4,1825.1 C623.9,1824.9 624.4,1824.0 624.9,1823.9 C625.4,1823.8 625.9,1824.5 626.4,1824.7 C626.9,1824.9 627.4,1825.2 627.9,1825.2 C628.4,1825.3 628.9,1825.2 629.4,1825.1 C629.9,1824.9 630.4,1824.7 630.9,1824.6 C631.4,1824.5 631.9,1824.5 632.4,1824.5 C632.9,1824.5 633.4,1824.7 633.9,1824.7 C634.4,1824.7 634.9,1824.4 635.4,1824.4 C635.9,1824.4 636.4,1824.7 636.9,1824.8 C637.4,1824.9 637.9,1824.8 638.4,1824.9 C638.9,1824.9 639.4,1824.8 639.9,1824.9 C640.4,1825.0 640.9,1825.4 641.4,1825.5 C641.9,1825.5 642.4,1825.3 642.9,1825.3 C643.4,1825.2 643.9,1825.0 644.4,1825.1 C644.9,1825.3 645.4,1826.2 645.9,1826.3 C646.4,1826.4 646.9,1825.8 647.4,1825.8 C647.9,1825.8 648.4,1826.2 648.9,1826.3 C649.4,1826.5 649.9,1826.6 650.4,1826.7 C650.9,1826.8 651.4,1826.9 651.9,1826.9 C652.4,1827.0 652.9,1826.9 653.4,1827.0 C653.9,1827.1 654.4,1827.2 654.9,1827.5 C655.4,1827.8 655.9,1828.6 656.4,1828.7 C656.9,1828.7 657.4,1828.0 657.9,1828.0 C658.4,1828.0 658.9,1828.3 659.4,1828.5 C659.9,1828.7 660.4,1829.1 660.9,1829.2 C661.4,1829.4 661.9,1829.4 662.4,1829.4 C662.9,1829.5 663.4,1829.7 663.9,1829.8 C664.4,1829.9 664.9,1830.2 665.4,1830.1 C665.9,1830.1 666.4,1829.5 666.9,1829.5 C667.4,1829.5 667.9,1830.0 668.4,1830.2 C668.9,1830.4 669.4,1830.7 669.9,1830.9 C670.4,1831.1 670.9,1831.1 671.4,1831.3 C671.9,1831.5 672.4,1831.9 672.9,1831.9 C673.4,1832.0 673.9,1831.8 674.4,1831.7 C674.9,1831.6 675.4,1831.4 675.9,1831.4 C676.4,1831.4 676.9,1831.5 677.4,1831.5 C677.9,1831.5 678.4,1831.4 678.9,1831.4 C679.4,1831.4 679.9,1831.5 680.4,1831.6 C680.9,1831.6 681.4,1831.8 681.9,1831.7 C682.4,1831.7 682.9,1831.5 683.4,1831.4 C683.9,1831.3 684.4,1831.2 684.9,1831.2 C685.4,1831.2 685.9,1831.1 686.4,1831.2 C686.9,1831.3 687.4,1831.7 687.9,1831.8 C688.4,1831.9 688.9,1831.8 689.4,1831.7 C689.9,1831.7 690.4,1831.6 690.9,1831.5 C691.4,1831.5 691.9,1831.4 692.4,1831.3 C692.9,1831.3 693.4,1831.3 693.9,1831.2 C694.4,1831.1 694.9,1830.9 695.4,1830.8 C695.9,1830.7 696.4,1831.0 696.9,1830.9 C697.4,1830.8 697.9,1830.3 698.4,1830.2 C698.9,1830.1 699.4,1830.4 699.9,1830.4 C700.4,1830.3 700.9,1830.1 701.4,1830.0 C701.9,1830.0 702.4,1830.3 702.9,1830.1 C703.4,1830.0 703.9,1829.4 704.4,1829.2 C704.9,1829.1 705.4,1829.1 705.9,1829.0 C706.4,1828.9 706.9,1828.8 707.4,1828.7 C707.9,1828.7 708.4,1828.9 708.9,1828.6 C709.4,1828.4 709.9,1827.7 710.4,1827.5 C710.9,1827.2 711.4,1827.0 711.9,1827.0 C712.4,1826.9 712.9,1827.3 713.4,1827.2 C713.9,1827.0 714.4,1826.2 714.9,1826.1 C715.4,1825.9 715.9,1826.3 716.4,1826.2 C716.9,1826.1 717.4,1825.6 717.9,1825.4 C718.4,1825.3 718.9,1825.4 719.4,1825.2 C719.9,1825.0 720.4,1824.3 720.9,1824.2 C721.4,1824.1 721.9,1824.7 722.4,1824.6 C722.9,1824.6 723.4,1824.0 723.9,1823.8 C724.4,1823.6 724.9,1823.1 725.4,1823.2 C725.9,1823.4 726.4,1824.3 726.9,1824.5 C727.4,1824.6 727.9,1824.1 728.4,1824.2 C728.9,1824.4 729.4,1825.4 729.9,1825.5 C730.4,1825.5 730.9,1824.8 731.4,1824.6 C731.9,1824.5 732.4,1824.6 732.9,1824.6 C733.4,1824.7 733.9,1824.9 734.4,1825.1 C734.9,1825.3 735.4,1825.8 735.9,1825.9 C736.4,1825.9 736.9,1825.5 737.4,1825.5 C737.9,1825.6 738.4,1825.8 738.9,1826.0 C739.4,1826.1 739.9,1826.2 740.4,1826.3 C740.9,1826.3 741.4,1826.0 741.9,1826.1 C742.4,1826.1 742.9,1826.6 743.4,1826.7 C743.9,1826.8 744.4,1826.8 744.9,1826.8 C745.4,1826.8 745.9,1826.6 746.4,1826.8 C746.9,1827.0 747.4,1827.7 747.9,1827.9 C748.4,1828.1 748.9,1828.0 749.4,1828.1 C749.9,1828.1 750.4,1828.2 750.9,1828.2 C751.4,1828.2 751.9,1828.2 752.4,1828.1 C752.9,1828.1 753.4,1827.9 753.9,1828.0 C754.4,1828.2 754.9,1829.0 755.4,1829.2 C755.9,1829.4 756.4,1829.3 756.9,1829.3 C757.4,1829.3 757.9,1828.9 758.4,1829.0 C758.9,1829.1 759.4,1829.8 759.9,1829.9 C760.4,1830.0 760.9,1829.6 761.4,1829.7 C761.9,1829.8 762.4,1830.3 762.9,1830.4 C763.4,1830.6 763.9,1830.6 764.4,1830.7 C764.9,1830.8 765.4,1830.9 765.9,1831.0 C766.4,1831.0 766.9,1831.1 767.4,1831.1 C767.9,1831.2 768.4,1831.3 768.9,1831.3 C769.4,1831.3 769.9,1831.0 770.4,1831.0 C770.9,1831.1 771.4,1831.4 771.9,1831.5 C772.4,1831.6 772.9,1831.6 773.4,1831.6 C773.9,1831.7 774.4,1831.8 774.9,1831.9 C775.4,1832.0 775.9,1832.2 776.4,1832.3 C776.9,1832.4 777.4,1832.5 777.9,1832.6 C778.4,1832.8 778.9,1833.3 779.4,1833.2 C779.9,1833.1 780.4,1831.9 780.9,1831.9 C781.4,1831.9 781.9,1832.9 782.4,1833.1 C782.9,1833.3 783.4,1833.0 783.9,1833.1 C784.4,1833.3 784.9,1834.1 785.4,1834.2 C785.9,1834.3 786.4,1834.1 786.9,1833.9 C787.4,1833.8 787.9,1833.2 788.4,1833.2 C788.9,1833.2 789.4,1834.0 789.9,1834.1 C790.4,1834.3 790.9,1833.9 791.4,1834.0 C791.9,1834.1 792.4,1834.7 792.9,1834.7 C793.4,1834.8 793.9,1834.2 794.4,1834.2 C794.9,1834.2 795.4,1834.7 795.9,1834.8 C796.4,1834.9 796.9,1834.9 797.4,1835.0 C797.9,1835.0 798.4,1835.1 798.9,1835.2 C799.4,1835.2 799.9,1835.3 800.4,1835.2 C800.9,1835.2 801.4,1834.9 801.9,1835.0 C802.4,1835.1 802.9,1835.8 803.4,1836.0 C803.9,1836.2 804.4,1836.4 804.9,1836.4 C805.4,1836.4 805.9,1836.3 806.4,1836.2 C806.9,1836.2 807.4,1836.0 807.9,1836.1 C808.4,1836.2 808.9,1836.6 809.4,1836.7 C809.9,1836.9 810.4,1837.0 810.9,1837.1 C811.4,1837.1 811.9,1837.0 812.4,1837.0 C812.9,1837.1 813.4,1837.1 813.9,1837.3 C814.4,1837.4 814.9,1838.0 815.4,1838.0 C815.9,1838.0 816.4,1837.4 816.9,1837.3 C817.4,1837.3 817.9,1837.7 818.4,1837.7 C818.9,1837.7 819.4,1837.4 819.9,1837.4 C820.4,1837.5 820.9,1838.0 821.4,1838.1 C821.9,1838.2 822.4,1838.1 822.9,1838.1 C823.4,1838.1 823.9,1838.1 824.4,1838.1 C824.9,1838.1 825.4,1838.0 825.9,1838.2 C826.4,1838.3 826.9,1839.0 827.4,1839.0 C827.9,1839.1 828.4,1838.4 828.9,1838.3 C829.4,1838.2 829.9,1838.2 830.4,1838.4 C830.9,1838.5 831.4,1839.2 831.9,1839.2 C832.4,1839.2 832.9,1838.6 833.4,1838.4 C833.9,1838.1 834.4,1837.8 834.9,1837.8 C835.4,1837.8 835.9,1838.5 836.4,1838.5 C836.9,1838.6 837.4,1838.0 837.9,1838.1 C838.4,1838.1 838.9,1839.0 839.4,1839.0 C839.9,1839.0 840.4,1838.1 840.9,1838.0 C841.4,1837.8 841.9,1838.2 842.4,1838.2 C842.9,1838.2 843.4,1837.8 843.9,1837.8 C844.4,1837.9 844.9,1838.4 845.4,1838.4 C845.9,1838.5 846.4,1838.1 846.9,1838.0 C847.4,1838.0 847.9,1838.3 848.4,1838.4 C848.9,1838.4 849.4,1838.3 849.9,1838.3 C850.4,1838.2 850.9,1838.1 851.4,1838.2 C851.9,1838.3 852.4,1838.6 852.9,1838.7 C853.4,1838.8 853.9,1838.8 854.4,1838.7 C854.9,1838.7 855.4,1838.5 855.9,1838.4 C856.4,1838.3 856.9,1838.2 857.4,1838.1 C857.9,1838.0 858.4,1838.0 858.9,1838.0 C859.4,1838.1 859.9,1838.3 860.4,1838.5 C860.9,1838.7 861.4,1839.3 861.9,1839.2 C862.4,1839.2 862.9,1838.4 863.4,1838.2 C863.9,1838.1 864.4,1838.1 864.9,1838.1 C865.4,1838.1 865.9,1838.2 866.4,1838.2 C866.9,1838.1 867.4,1838.0 867.9,1838.0 C868.4,1838.0 868.9,1838.0 869.4,1838.1 C869.9,1838.1 870.4,1838.2 870.9,1838.3 C871.4,1838.5 871.9,1838.9 872.4,1838.9 C872.9,1838.9 873.4,1838.5 873.9,1838.4 C874.4,1838.3 874.9,1838.3 875.4,1838.2 C875.9,1838.1 876.4,1837.8 876.9,1837.8 C877.4,1837.9 877.9,1838.4 878.4,1838.5 C878.9,1838.6 879.4,1838.5 879.9,1838.4 C880.4,1838.3 880.9,1838.0 881.4,1838.0 C881.9,1837.9 882.4,1838.0 882.9,1838.0 C883.4,1838.1 883.9,1838.3 884.4,1838.4 C884.9,1838.5 885.4,1838.7 885.9,1838.8 C886.4,1838.8 886.9,1838.7 887.4,1838.6 C887.9,1838.6 888.4,1838.5 888.9,1838.5 C889.4,1838.4 889.9,1838.3 890.4,1838.3 C890.9,1838.3 891.4,1838.5 891.9,1838.5 C892.4,1838.5 892.9,1838.3 893.4,1838.4 C893.9,1838.5 894.4,1839.2 894.9,1839.2 C895.4,1839.1 895.9,1838.2 896.4,1838.0 C896.9,1837.9 897.4,1838.1 897.9,1838.3 C898.4,1838.4 898.9,1838.8 899.4,1838.8 C899.9,1838.8 900.4,1838.3 900.9,1838.3 C901.4,1838.3 901.9,1838.9 902.4,1838.9 C902.9,1838.9 903.4,1838.5 903.9,1838.4 C904.4,1838.3 904.9,1838.5 905.4,1838.5 C905.9,1838.4 906.4,1838.4 906.9,1838.3 C907.4,1838.2 907.9,1838.0 908.4,1837.9 C908.9,1837.9 909.4,1837.9 909.9,1838.1 C910.4,1838.3 910.9,1839.1 911.4,1839.2 C911.9,1839.3 912.4,1838.7 912.9,1838.6 C913.4,1838.5 913.9,1838.6 914.4,1838.6 C914.9,1838.6 915.4,1838.7 915.9,1838.7 C916.4,1838.7 916.9,1838.6 917.4,1838.6 C917.9,1838.6 918.4,1838.8 918.9,1838.8 C919.4,1838.7 919.9,1838.4 920.4,1838.3 C920.9,1838.2 921.4,1838.2 921.9,1838.3 C922.4,1838.4 922.9,1838.8 923.4,1838.7 C923.9,1838.7 924.4,1838.4 924.9,1838.3 C925.4,1838.1 925.9,1837.9 926.4,1837.9 C926.9,1837.9 927.4,1838.3 927.9,1838.3 C928.4,1838.4 928.9,1838.2 929.4,1838.2 C929.9,1838.3 930.4,1838.6 930.9,1838.6 C931.4,1838.6 931.9,1838.2 932.4,1838.1 C932.9,1838.1 933.4,1838.0 933.9,1838.0 C934.4,1838.1 934.9,1838.1 935.4,1838.3 C935.9,1838.4 936.4,1838.9 936.9,1838.9 C937.4,1839.0 937.9,1838.5 938.4,1838.4 C938.9,1838.3 939.4,1838.5 939.9,1838.5 C940.4,1838.5 940.9,1838.4 941.4,1838.4 C941.9,1838.4 942.4,1838.4 942.9,1838.5 C943.4,1838.6 943.9,1838.7 944.4,1838.7 C944.9,1838.8 945.4,1839.0 945.9,1838.9 C946.4,1838.7 946.9,1837.8 947.4,1837.8 C947.9,1837.8 948.4,1838.8 948.9,1838.9 C949.4,1839.0 949.9,1838.5 950.4,1838.4 C950.9,1838.3 951.4,1838.1 951.9,1838.3 C952.4,1838.4 952.9,1839.2 953.4,1839.2 C953.9,1839.2 954.4,1838.4 954.9,1838.3 C955.4,1838.3 955.9,1839.0 956.4,1839.1 C956.9,1839.1 957.4,1838.9 957.9,1838.7 C958.4,1838.6 958.9,1838.1 959.4,1838.0 C959.9,1838.0 960.4,1838.5 960.9,1838.6 C961.4,1838.7 961.9,1838.7 962.4,1838.7 C962.9,1838.6 963.4,1838.6 963.9,1838.4 C964.4,1838.2 964.9,1837.7 965.4,1837.7 C965.9,1837.7 966.4,1838.3 966.9,1838.4 C967.4,1838.6 967.9,1838.6 968.4,1838.6 C968.9,1838.5 969.4,1838.2 969.9,1838.3 C970.4,1838.5 970.9,1839.3 971.4,1839.4 C971.9,1839.5 972.4,1838.9 972.9,1838.7 C973.4,1838.6 973.9,1838.7 974.4,1838.8 C974.9,1838.8 975.4,1838.9 975.9,1838.9 C976.4,1838.9 976.9,1838.8 977.4,1838.7 C977.9,1838.7 978.4,1838.7 978.9,1838.8 C979.4,1838.9 979.9,1839.1 980.4,1839.2 C980.9,1839.3 981.4,1839.3 981.9,1839.3 C982.4,1839.3 982.9,1839.1 983.4,1839.1 C983.9,1839.1 984.4,1839.3 984.9,1839.3 C985.4,1839.3 985.9,1838.9 986.4,1838.9 C986.9,1839.0 987.4,1839.6 987.9,1839.7 C988.4,1839.7 988.9,1839.3 989.4,1839.3 C989.9,1839.3 990.4,1839.7 990.9,1839.7 C991.4,1839.7 991.9,1839.4 992.4,1839.4 C992.9,1839.3 993.4,1839.5 993.9,1839.6 C994.4,1839.6 994.9,1839.9 995.4,1839.9 C995.9,1839.9 996.4,1839.3 996.9,1839.4 C997.4,1839.6 997.9,1840.7 998.4,1840.8 C998.9,1840.9 999.4,1840.1 999.9,1840.0 C1000.4,1839.9 1000.9,1840.1 1001.4,1840.1 C1001.9,1840.0 1002.4,1839.8 1002.9,1839.9 C1003.4,1840.0 1003.9,1840.6 1004.4,1840.8 C1004.9,1841.0 1005.4,1840.9 1005.9,1840.8 C1006.4,1840.8 1006.9,1840.6 1007.4,1840.5 C1007.9,1840.4 1008.4,1840.0 1008.9,1840.0 C1009.4,1840.0 1009.9,1840.3 1010.4,1840.4 C1010.9,1840.5 1011.4,1840.8 1011.9,1840.9 C1012.4,1840.9 1012.9,1840.6 1013.4,1840.6 C1013.9,1840.5 1014.4,1840.4 1014.9,1840.4 C1015.4,1840.4 1015.9,1840.4 1016.4,1840.5 C1016.9,1840.5 1017.4,1840.6 1017.9,1840.7 C1018.4,1840.8 1018.9,1841.0 1019.4,1841.1 C1019.9,1841.1 1020.4,1840.9 1020.9,1840.9 C1021.4,1841.0 1021.9,1841.0 1022.4,1841.2 C1022.9,1841.5 1023.4,1842.2 1023.9,1842.3 C1024.4,1842.4 1024.9,1842.2 1025.4,1842.0 C1025.9,1841.8 1026.4,1841.2 1026.9,1841.1 C1027.4,1841.1 1027.9,1841.6 1028.4,1841.7 C1028.9,1841.8 1029.4,1841.7 1029.9,1841.7 C1030.4,1841.7 1030.9,1841.6 1031.4,1841.7 C1031.9,1841.8 1032.4,1842.2 1032.9,1842.2 C1033.4,1842.2 1033.9,1841.8 1034.4,1841.8 C1034.9,1841.7 1035.4,1841.8 1035.9,1841.9 C1036.4,1841.9 1036.9,1841.9 1037.4,1841.9 C1037.9,1842.0 1038.4,1842.0 1038.9,1842.1 C1039.4,1842.2 1039.9,1842.6 1040.4,1842.7 C1040.9,1842.8 1041.4,1842.7 1041.9,1842.6 C1042.4,1842.5 1042.9,1842.0 1043.4,1841.9 C1043.9,1841.9 1044.4,1842.2 1044.9,1842.3 C1045.4,1842.3 1045.9,1842.1 1046.4,1842.2 C1046.9,1842.2 1047.4,1842.7 1047.9,1842.8 C1048.4,1842.8 1048.9,1842.6 1049.4,1842.6 C1049.9,1842.6 1050.4,1842.8 1050.9,1842.8 C1051.4,1842.8 1051.9,1842.7 1052.4,1842.5 C1052.9,1842.4 1053.4,1841.9 1053.9,1841.9 C1054.4,1841.9 1054.9,1842.6 1055.4,1842.8 C1055.9,1842.9 1056.4,1842.7 1056.9,1842.7 C1057.4,1842.7 1057.9,1842.9 1058.4,1842.8 C1058.9,1842.7 1059.4,1842.2 1059.9,1842.2 C1060.4,1842.2 1060.9,1842.7 1061.4,1842.7 C1061.9,1842.8 1062.4,1842.5 1062.9,1842.5 C1063.4,1842.4 1063.9,1842.4 1064.4,1842.5 C1064.9,1842.6 1065.4,1842.8 1065.9,1842.9 C1066.4,1843.0 1066.9,1843.0 1067.4,1842.9 C1067.9,1842.9 1068.4,1842.6 1068.9,1842.5 C1069.4,1842.4 1069.9,1842.3 1070.4,1842.2 C1070.9,1842.2 1071.4,1841.9 1071.9,1842.0 C1072.4,1842.1 1072.9,1842.5 1073.4,1842.7 C1073.9,1842.9 1074.4,1843.3 1074.9,1843.3 C1075.4,1843.3 1075.9,1843.1 1076.4,1842.9 C1076.9,1842.7 1077.4,1842.2 1077.9,1842.2 C1078.4,1842.1 1078.9,1842.5 1079.4,1842.7 C1079.9,1842.9 1080.4,1843.0 1080.9,1843.2 C1081.4,1843.3 1081.9,1843.6 1082.4,1843.6 C1082.9,1843.7 1083.4,1843.5 1083.9,1843.5 C1084.4,1843.4 1084.9,1843.3 1085.4,1843.2 C1085.9,1843.2 1086.4,1843.2 1086.9,1843.2 C1087.4,1843.1 1087.9,1842.8 1088.4,1842.8 C1088.9,1842.7 1089.4,1842.9 1089.9,1843.0 C1090.4,1843.0 1090.9,1843.1 1091.4,1843.1 C1091.9,1843.0 1092.4,1842.9 1092.9,1842.9 C1093.4,1843.0 1093.9,1843.2 1094.4,1843.2 C1094.9,1843.3 1095.4,1843.1 1095.9,1843.1 C1096.4,1843.1 1096.9,1843.3 1097.4,1843.4 C1097.9,1843.5 1098.4,1843.8 1098.9,1843.8 C1099.4,1843.8 1099.9,1843.6 1100.4,1843.6 C1100.9,1843.5 1101.4,1843.5 1101.9,1843.5 C1102.4,1843.4 1102.9,1843.4 1103.4,1843.3 C1103.9,1843.2 1104.4,1842.8 1104.9,1842.8 C1105.4,1842.9 1105.9,1843.2 1106.4,1843.4 C1106.9,1843.5 1107.4,1843.7 1107.9,1843.6 C1108.4,1843.6 1108.9,1843.0 1109.4,1843.1 C1109.9,1843.1 1110.4,1843.9 1110.9,1843.9 C1111.4,1843.9 1111.9,1843.4 1112.4,1843.4 C1112.9,1843.3 1113.4,1843.6 1113.9,1843.6 C1114.4,1843.6 1114.9,1843.5 1115.4,1843.4 C1115.9,1843.3 1116.4,1843.0 1116.9,1843.1 C1117.4,1843.3 1117.9,1844.3 1118.4,1844.3 C1118.9,1844.3 1119.4,1843.3 1119.9,1843.2 C1120.4,1843.1 1120.9,1843.9 1121.4,1843.9 C1121.9,1844.0 1122.4,1843.5 1122.9,1843.4 C1123.4,1843.4 1123.9,1843.8 1124.4,1843.8 C1124.9,1843.8 1125.4,1843.4 1125.9,1843.4 C1126.4,1843.4 1126.9,1843.5 1127.4,1843.6 C1127.9,1843.7 1128.4,1843.9 1128.9,1844.1 C1129.4,1844.2 1129.9,1844.5 1130.4,1844.4 C1130.9,1844.3 1131.4,1843.6 1131.9,1843.5 C1132.4,1843.4 1132.9,1843.7 1133.4,1843.8 C1133.9,1843.9 1134.4,1844.2 1134.9,1844.2 C1135.4,1844.1 1135.9,1843.6 1136.4,1843.6 C1136.9,1843.6 1137.4,1844.1 1137.9,1844.1 C1138.4,1844.1 1138.9,1843.6 1139.4,1843.6 C1139.9,1843.6 1140.4,1844.0 1140.9,1844.1 C1141.4,1844.2 1141.9,1844.0 1142.4,1844.1 C1142.9,1844.1 1143.4,1844.4 1143.9,1844.4 C1144.4,1844.4 1144.9,1844.2 1145.4,1844.1 C1145.9,1844.0 1146.4,1843.6 1146.9,1843.6 C1147.4,1843.6 1147.9,1844.3 1148.4,1844.4 C1148.9,1844.4 1149.4,1843.8 1149.9,1843.9 C1150.4,1843.9 1150.9,1844.4 1151.4,1844.6 C1151.9,1844.8 1152.4,1845.0 1152.9,1845.0 C1153.4,1845.0 1153.9,1844.9 1154.4,1844.8 C1154.9,1844.7 1155.4,1844.4 1155.9,1844.5 C1156.4,1844.6 1156.9,1845.1 1157.4,1845.2 C1157.9,1845.3 1158.4,1845.1 1158.9,1845.0 C1159.4,1844.9 1159.9,1844.6 1160.4,1844.7 C1160.9,1844.8 1161.4,1845.3 1161.9,1845.6 C1162.4,1846.0 1162.9,1846.6 1163.4,1846.8 C1163.9,1847.0 1164.4,1846.7 1164.9,1846.8 C1165.4,1846.9 1165.9,1847.4 1166.4,1847.5 C1166.9,1847.6 1167.4,1847.5 1167.9,1847.4 C1168.4,1847.2 1168.9,1846.7 1169.4,1846.6 C1169.9,1846.5 1170.4,1846.7 1170.9,1846.7 C1171.4,1846.7 1171.9,1846.7 1172.4,1846.7 C1172.9,1846.6 1173.4,1846.4 1173.9,1846.3 C1174.4,1846.2 1174.9,1846.1 1175.4,1845.9 C1175.9,1845.6 1176.4,1844.9 1176.9,1844.9 C1177.4,1844.9 1177.9,1845.7 1178.4,1845.7 C1178.9,1845.8 1179.4,1845.4 1179.9,1845.3 C1180.4,1845.2 1180.9,1845.1 1181.4,1845.1 C1181.9,1845.0 1182.4,1845.1 1182.9,1844.9 C1183.4,1844.7 1183.9,1844.1 1184.4,1844.0 C1184.9,1843.8 1185.4,1843.8 1185.9,1843.9 C1186.4,1844.0 1186.9,1844.2 1187.4,1844.4 C1187.9,1844.6 1188.4,1845.1 1188.9,1845.1 C1189.4,1845.0 1189.9,1844.1 1190.4,1844.1 C1190.9,1844.0 1191.4,1844.7 1191.9,1844.8 C1192.4,1844.9 1192.9,1844.7 1193.4,1844.8 C1193.9,1845.0 1194.4,1845.4 1194.9,1845.7 C1195.4,1845.9 1195.9,1846.3 1196.4,1846.4 C1196.9,1846.4 1197.4,1846.2 1197.9,1846.1 C1198.4,1846.1 1198.9,1846.0 1199.4,1846.2 C1199.9,1846.3 1200.4,1846.8 1200.9,1847.0 C1201.4,1847.2 1201.9,1847.2 1202.4,1847.3 C1202.9,1847.3 1203.4,1847.0 1203.9,1847.2 C1204.4,1847.4 1204.9,1848.2 1205.4,1848.4 C1205.9,1848.7 1206.4,1848.3 1206.9,1848.5 C1207.4,1848.6 1207.9,1849.3 1208.4,1849.4 C1208.9,1849.5 1209.4,1849.0 1209.9,1849.2 C1210.4,1849.4 1210.9,1850.4 1211.4,1850.5 C1211.9,1850.7 1212.4,1850.1 1212.9,1850.1 C1213.4,1850.2 1213.9,1850.9 1214.4,1850.7 C1214.9,1850.6 1215.4,1849.3 1215.9,1849.1 C1216.4,1848.9 1216.9,1849.7 1217.4,1849.6 C1217.9,1849.5 1218.4,1848.7 1218.9,1848.3 C1219.4,1848.0 1219.9,1847.5 1220.4,1847.4 C1220.9,1847.2 1221.4,1847.5 1221.9,1847.5 C1222.4,1847.5 1222.9,1847.5 1223.4,1847.4 C1223.9,1847.2 1224.4,1846.7 1224.9,1846.6 C1225.4,1846.5 1225.9,1846.5 1226.4,1846.7 C1226.9,1847.0 1227.4,1847.5 1227.9,1847.8 C1228.4,1848.1 1228.9,1848.4 1229.4,1848.5 C1229.9,1848.6 1230.4,1848.0 1230.9,1848.3 C1231.4,1848.6 1231.9,1849.6 1232.4,1850.3 C1232.9,1851.0 1233.4,1851.9 1233.9,1852.5 C1234.4,1853.2 1234.9,1853.8 1235.4,1854.4 C1235.9,1854.9 1236.4,1855.6 1236.9,1856.0 C1237.4,1856.3 1237.9,1856.2 1238.4,1856.4 C1238.9,1856.5 1239.4,1857.1 1239.9,1856.7 C1240.4,1856.3 1240.9,1855.1 1241.4,1854.1 C1241.9,1853.1 1242.4,1851.9 1242.9,1850.7 C1243.4,1849.5 1243.9,1848.0 1244.4,1847.0 C1244.9,1846.0 1245.4,1845.3 1245.9,1844.6 C1246.4,1844.0 1246.9,1843.6 1247.4,1843.1 C1247.9,1842.7 1248.4,1841.9 1248.9,1841.7 C1249.4,1841.5 1249.9,1842.0 1250.4,1842.0 C1250.9,1842.0 1251.4,1842.0 1251.9,1841.8 C1252.4,1841.7 1252.9,1841.2 1253.4,1841.1 C1253.9,1841.0 1254.4,1841.3 1254.9,1841.4 C1255.4,1841.6 1255.9,1841.9 1256.4,1842.0 C1256.9,1842.1 1257.4,1842.0 1257.9,1842.0 C1258.4,1842.0 1258.9,1842.0 1259.4,1842.1 C1259.9,1842.1 1260.4,1842.2 1260.9,1842.2 C1261.4,1842.3 1261.9,1842.0 1262.4,1842.1 C1262.9,1842.2 1263.4,1842.7 1263.9,1842.6 C1264.4,1842.6 1264.9,1842.0 1265.4,1841.9 C1265.9,1841.8 1266.4,1842.0 1266.9,1842.0 C1267.4,1842.1 1267.9,1842.2 1268.4,1842.3 C1268.9,1842.4 1269.4,1842.5 1269.9,1842.5 C1270.4,1842.5 1270.9,1842.5 1271.4,1842.5 C1271.9,1842.6 1272.4,1842.9 1272.9,1842.8 C1273.4,1842.8 1273.9,1842.2 1274.4,1842.2 C1274.9,1842.2 1275.4,1842.7 1275.9,1842.8 C1276.4,1842.9 1276.9,1842.7 1277.4,1842.6 C1277.9,1842.5 1278.4,1842.1 1278.9,1842.1 C1279.4,1842.1 1279.9,1842.2 1280.4,1842.4 C1280.9,1842.6 1281.4,1843.2 1281.9,1843.3 C1282.4,1843.3 1282.9,1843.0 1283.4,1842.8 C1283.9,1842.7 1284.4,1842.6 1284.9,1842.4 C1285.4,1842.3 1285.9,1841.8 1286.4,1841.8 C1286.9,1841.8 1287.4,1842.3 1287.9,1842.4 C1288.4,1842.5 1288.9,1842.3 1289.4,1842.4 C1289.9,1842.4 1290.4,1842.5 1290.9,1842.7 C1291.4,1842.9 1291.9,1843.4 1292.4,1843.5 C1292.9,1843.5 1293.4,1843.0 1293.9,1842.9 C1294.4,1842.8 1294.9,1842.9 1295.4,1842.8 C1295.9,1842.7 1296.4,1842.4 1296.9,1842.4 C1297.4,1842.3 1297.9,1842.2 1298.4,1842.3 C1298.9,1842.3 1299.4,1842.6 1299.9,1842.6 C1300.4,1842.7 1300.9,1842.4 1301.4,1842.6 C1301.9,1842.8 1302.4,1843.8 1302.9,1843.8 C1303.4,1843.8 1303.9,1842.8 1304.4,1842.6 C1304.9,1842.4 1305.4,1842.5 1305.9,1842.5 C1306.4,1842.6 1306.9,1843.1 1307.4,1843.2 C1307.9,1843.2 1308.4,1842.9 1308.9,1842.8 C1309.4,1842.7 1309.9,1842.3 1310.4,1842.4 C1310.9,1842.4 1311.4,1843.2 1311.9,1843.3 C1312.4,1843.3 1312.9,1842.9 1313.4,1842.7 C1313.9,1842.6 1314.4,1842.3 1314.9,1842.4 C1315.4,1842.4 1315.9,1842.8 1316.4,1843.0 C1316.9,1843.1 1317.4,1843.1 1317.9,1843.0 C1318.4,1843.0 1318.9,1842.7 1319.4,1842.8 C1319.9,1842.8 1320.4,1843.1 1320.9,1843.1 C1321.4,1843.2 1321.9,1843.3 1322.4,1843.2 C1322.9,1843.1 1323.4,1842.8 1323.9,1842.6 C1324.4,1842.4 1324.9,1842.3 1325.4,1842.2 C1325.9,1842.1 1326.4,1842.0 1326.9,1842.1 C1327.4,1842.2 1327.9,1842.7 1328.4,1842.9 C1328.9,1843.1 1329.4,1843.3 1329.9,1843.4 C1330.4,1843.5 1330.9,1843.3 1331.4,1843.3 C1331.9,1843.3 1332.4,1843.4 1332.9,1843.5 C1333.4,1843.5 1333.9,1843.7 1334.4,1843.6 C1334.9,1843.6 1335.4,1843.0 1335.9,1843.0 C1336.4,1843.0 1336.9,1843.5 1337.4,1843.4 C1337.9,1843.3 1338.4,1842.5 1338.9,1842.5 C1339.4,1842.5 1339.9,1843.2 1340.4,1843.3 C1340.9,1843.4 1341.4,1843.2 1341.9,1843.2 C1342.4,1843.1 1342.9,1843.1 1343.4,1843.0 C1343.9,1843.0 1344.4,1843.0 1344.9,1842.9 C1345.4,1842.9 1345.9,1842.7 1346.4,1842.7 C1346.9,1842.7 1347.4,1843.0 1347.9,1843.1 C1348.4,1843.3 1348.9,1843.6 1349.4,1843.6 C1349.9,1843.5 1350.4,1843.0 1350.9,1843.0 C1351.4,1842.9 1351.9,1843.3 1352.4,1843.3 C1352.9,1843.3 1353.4,1842.9 1353.9,1842.9 C1354.4,1842.9 1354.9,1843.3 1355.4,1843.2 C1355.9,1843.2 1356.4,1842.8 1356.9,1842.8 C1357.4,1842.8 1357.9,1843.3 1358.4,1843.3 C1358.9,1843.4 1359.4,1843.1 1359.9,1843.1 C1360.4,1843.1 1360.9,1843.3 1361.4,1843.3 C1361.9,1843.3 1362.4,1843.1 1362.9,1843.0 C1363.4,1842.9 1363.9,1842.8 1364.4,1842.8 C1364.9,1842.8 1365.4,1843.0 1365.9,1843.1 C1366.4,1843.3 1366.9,1843.5 1367.4,1843.6 C1367.9,1843.7 1368.4,1843.9 1368.9,1843.8 C1369.4,1843.7 1369.9,1843.2 1370.4,1843.2 C1370.9,1843.1 1371.4,1843.5 1371.9,1843.6 C1372.4,1843.6 1372.9,1843.6 1373.4,1843.6 C1373.9,1843.5 1374.4,1843.6 1374.9,1843.4 C1375.4,1843.3 1375.9,1842.8 1376.4,1842.8 C1376.9,1842.8 1377.4,1843.4 1377.9,1843.4 C1378.4,1843.5 1378.9,1842.9 1379.4,1843.0 C1379.9,1843.1 1380.4,1843.7 1380.9,1843.8 C1381.4,1843.9 1381.9,1843.7 1382.4,1843.6 C1382.9,1843.6 1383.4,1843.8 1383.9,1843.6 C1384.4,1843.4 1384.9,1842.5 1385.4,1842.5 C1385.9,1842.5 1386.4,1843.4 1386.9,1843.6 C1387.4,1843.8 1387.9,1843.8 1388.4,1843.7 C1388.9,1843.5 1389.4,1843.0 1389.9,1843.0 C1390.4,1843.0 1390.9,1843.7 1391.4,1843.8 C1391.9,1843.9 1392.4,1843.5 1392.9,1843.5 C1393.4,1843.4 1393.9,1843.4 1394.4,1843.4 C1394.9,1843.3 1395.4,1843.3 1395.9,1843.2 C1396.4,1843.2 1396.9,1843.1 1397.4,1843.1 C1397.9,1843.1 1398.4,1843.1 1398.9,1843.3 C1399.4,1843.6 1399.9,1844.5 1400.4,1844.6 C1400.9,1844.6 1401.4,1843.7 1401.9,1843.6 C1402.4,1843.4 1402.9,1843.6 1403.4,1843.6 C1403.9,1843.5 1404.4,1843.3 1404.9,1843.3 C1405.4,1843.2 1405.9,1843.3 1406.4,1843.3 C1406.9,1843.3 1407.4,1843.3 1407.9,1843.3 C1408.4,1843.3 1408.9,1843.1 1409.4,1843.2 C1409.9,1843.3 1410.4,1843.8 1410.9,1843.8 C1411.4,1843.9 1411.9,1843.4 1412.4,1843.4 C1412.9,1843.5 1413.4,1843.9 1413.9,1843.9 C1414.4,1843.8 1414.9,1843.1 1415.4,1843.2 C1415.9,1843.2 1416.4,1843.8 1416.9,1843.9 C1417.4,1844.0 1417.9,1843.6 1418.4,1843.6 C1418.9,1843.5 1419.4,1843.8 1419.9,1843.8 C1420.4,1843.8 1420.9,1843.6 1421.4,1843.5 C1421.9,1843.5 1422.4,1843.2 1422.9,1843.3 C1423.4,1843.3 1423.9,1844.0 1424.4,1844.0 C1424.9,1844.0 1425.4,1843.5 1425.9,1843.4 C1426.4,1843.4 1426.9,1843.6 1427.4,1843.5 C1427.9,1843.5 1428.4,1843.3 1428.9,1843.3 C1429.4,1843.3 1429.9,1843.6 1430.4,1843.7 C1430.9,1843.7 1431.4,1843.5 1431.9,1843.5 C1432.4,1843.5 1432.9,1843.7 1433.4,1843.7 C1433.9,1843.8 1434.4,1843.8 1434.9,1843.7 C1435.4,1843.7 1435.9,1843.5 1436.4,1843.4 C1436.9,1843.3 1437.4,1843.1 1437.9,1843.1 C1438.4,1843.2 1438.9,1843.7 1439.4,1843.8 C1439.9,1843.9 1440.4,1843.9 1440.9,1844.0 C1441.4,1844.0 1441.9,1844.0 1442.4,1843.9 C1442.9,1843.8 1443.4,1843.3 1443.9,1843.3 C1444.4,1843.3 1444.9,1843.8 1445.4,1843.9 C1445.9,1844.0 1446.4,1843.8 1446.9,1843.8 C1447.4,1843.8 1447.9,1843.8 1448.4,1843.8 C1448.9,1843.8 1449.4,1843.9 1449.9,1843.8 C1450.4,1843.8 1450.9,1843.6 1451.4,1843.6 C1451.9,1843.6 1452.4,1843.7 1452.9,1843.8 C1453.4,1843.8 1453.9,1844.1 1454.4,1844.0 C1454.9,1844.0 1455.4,1843.7 1455.9,1843.5 C1456.4,1843.4 1456.9,1843.2 1457.4,1843.2 C1457.9,1843.2 1458.4,1843.6 1458.9,1843.7 C1459.4,1843.8 1459.9,1843.9 1460.4,1843.8 C1460.9,1843.7 1461.4,1843.1 1461.9,1843.1 C1462.4,1843.0 1462.9,1843.3 1463.4,1843.5 C1463.9,1843.6 1464.4,1843.9 1464.9,1843.9 C1465.4,1844.0 1465.9,1843.7 1466.4,1843.7 C1466.9,1843.7 1467.4,1843.8 1467.9,1843.8 C1468.4,1843.7 1468.9,1843.3 1469.4,1843.3 C1469.9,1843.4 1470.4,1843.9 1470.9,1844.1 C1471.4,1844.2 1471.9,1844.4 1472.4,1844.4 C1472.9,1844.3 1473.4,1843.8 1473.9,1843.7 C1474.4,1843.5 1474.9,1843.6 1475.4,1843.5 C1475.9,1843.5 1476.4,1843.3 1476.9,1843.4 C1477.4,1843.5 1477.9,1844.0 1478.4,1844.1 C1478.9,1844.2 1479.4,1843.9 1479.9,1843.8 C1480.4,1843.7 1480.9,1843.4 1481.4,1843.5 C1481.9,1843.6 1482.4,1844.1 1482.9,1844.2 C1483.4,1844.3 1483.9,1844.1 1484.4,1844.1 C1484.9,1844.0 1485.4,1844.2 1485.9,1844.0 C1486.4,1843.9 1486.9,1843.2 1487.4,1843.2 C1487.9,1843.2 1488.4,1843.6 1488.9,1843.8 C1489.4,1843.9 1489.9,1844.1 1490.4,1844.0 C1490.9,1844.0 1491.4,1843.4 1491.9,1843.4 C1492.4,1843.4 1492.9,1844.0 1493.4,1844.2 C1493.9,1844.3 1494.4,1844.3 1494.9,1844.3 C1495.4,1844.3 1495.9,1844.3 1496.4,1844.2 C1496.9,1844.1 1497.4,1843.7 1497.9,1843.6 C1498.4,1843.5 1498.9,1843.5 1499.4,1843.6 C1499.9,1843.7 1500.4,1844.1 1500.9,1844.2 C1501.4,1844.3 1501.9,1844.2 1502.4,1844.2 C1502.9,1844.2 1503.4,1844.3 1503.9,1844.3 C1504.4,1844.3 1504.9,1844.4 1505.4,1844.3 C1505.9,1844.2 1506.4,1843.9 1506.9,1843.8 C1507.4,1843.7 1507.9,1843.8 1508.4,1843.7 C1508.9,1843.6 1509.4,1843.2 1509.9,1843.2 C1510.4,1843.3 1510.9,1843.9 1511.4,1844.2 C1511.9,1844.4 1512.4,1844.8 1512.9,1844.7 C1513.4,1844.6 1513.9,1843.9 1514.4,1843.7 C1514.9,1843.6 1515.4,1843.7 1515.9,1843.7 C1516.4,1843.8 1516.9,1844.1 1517.4,1844.1 C1517.9,1844.2 1518.4,1844.2 1518.9,1844.1 C1519.4,1843.9 1519.9,1843.5 1520.4,1843.4 C1520.9,1843.4 1521.4,1843.7 1521.9,1843.7 C1522.4,1843.7 1522.9,1843.4 1523.4,1843.6 C1523.9,1843.7 1524.4,1844.6 1524.9,1844.6 C1525.4,1844.7 1525.9,1843.8 1526.4,1843.7 C1526.9,1843.6 1527.4,1844.1 1527.9,1844.2 C1528.4,1844.4 1528.9,1844.6 1529.4,1844.6 C1529.9,1844.7 1530.4,1844.7 1530.9,1844.6 C1531.4,1844.6 1531.9,1844.5 1532.4,1844.5 C1532.9,1844.5 1533.4,1844.7 1533.9,1844.5 C1534.4,1844.4 1534.9,1843.7 1535.4,1843.5 C1535.9,1843.4 1536.4,1843.8 1536.9,1843.9 C1537.4,1843.9 1537.9,1843.7 1538.4,1843.7 C1538.9,1843.7 1539.4,1843.7 1539.9,1843.9 C1540.4,1844.1 1540.9,1845.0 1541.4,1844.9 C1541.9,1844.8 1542.4,1843.5 1542.9,1843.4 C1543.4,1843.2 1543.9,1844.1 1544.4,1844.1 C1544.9,1844.1 1545.4,1843.4 1545.9,1843.4 C1546.4,1843.5 1546.9,1844.1 1547.4,1844.3 C1547.9,1844.4 1548.4,1844.3 1548.9,1844.2 C1549.4,1844.1 1549.9,1843.5 1550.4,1843.5 C1550.9,1843.6 1551.4,1844.4 1551.9,1844.4 C1552.4,1844.4 1552.9,1843.7 1553.4,1843.6 C1553.9,1843.6 1554.4,1844.0 1554.9,1844.0 C1555.4,1844.0 1555.9,1843.7 1556.4,1843.6 C1556.9,1843.5 1557.4,1843.3 1557.9,1843.3 C1558.4,1843.2 1558.9,1843.3 1559.4,1843.3 C1559.9,1843.3 1560.4,1843.3 1560.9,1843.3 C1561.4,1843.3 1561.9,1843.5 1562.4,1843.5 C1562.9,1843.5 1563.4,1843.2 1563.9,1843.3 C1564.4,1843.4 1564.9,1844.1 1565.4,1844.0 C1565.9,1844.0 1566.4,1843.3 1566.9,1843.1 C1567.4,1842.9 1567.9,1843.0 1568.4,1842.9 C1568.9,1842.9 1569.4,1842.8 1569.9,1842.8 C1570.4,1842.7 1570.9,1842.8 1571.4,1842.7 C1571.9,1842.7 1572.4,1842.5 1572.9,1842.4 C1573.4,1842.4 1573.9,1842.4 1574.4,1842.5 C1574.9,1842.7 1575.4,1843.1 1575.9,1843.1 C1576.4,1843.2 1576.9,1842.9 1577.4,1842.8 C1577.9,1842.7 1578.4,1842.7 1578.9,1842.7 C1579.4,1842.7 1579.9,1842.7 1580.4,1842.8 C1580.9,1842.9 1581.4,1843.0 1581.9,1843.0 C1582.4,1843.0 1582.9,1842.8 1583.4,1842.8 C1583.9,1842.8 1584.4,1842.9 1584.9,1842.8 C1585.4,1842.7 1585.9,1842.3 1586.4,1842.3 C1586.9,1842.2 1587.4,1842.4 1587.9,1842.3 C1588.4,1842.3 1588.9,1842.1 1589.4,1842.1 C1589.9,1842.1 1590.4,1842.3 1590.9,1842.3 C1591.4,1842.3 1591.9,1842.0 1592.4,1842.0 C1592.9,1841.9 1593.4,1842.1 1593.9,1842.1 C1594.4,1842.1 1594.9,1842.1 1595.4,1842.1 C1595.9,1842.1 1596.4,1842.1 1596.9,1842.0 C1597.4,1842.0 1597.9,1842.0 1598.4,1842.0 C1598.9,1841.9 1599.4,1841.8 1599.9,1841.8 C1600.4,1841.9 1600.9,1842.4 1601.4,1842.4 C1601.9,1842.4 1602.4,1841.9 1602.9,1841.8 C1603.4,1841.6 1603.9,1841.5 1604.4,1841.5 C1604.9,1841.5 1605.4,1841.9 1605.9,1841.9 C1606.4,1841.8 1606.9,1841.5 1607.4,1841.4 C1607.9,1841.3 1608.4,1841.3 1608.9,1841.3 C1609.4,1841.4 1609.9,1841.7 1610.4,1841.7 C1610.9,1841.6 1611.4,1841.2 1611.9,1841.0 C1612.4,1840.8 1612.9,1840.3 1613.4,1840.4 C1613.9,1840.5 1614.4,1841.4 1614.9,1841.6 C1615.4,1841.8 1615.9,1841.9 1616.4,1841.8 C1616.9,1841.7 1617.4,1840.9 1617.9,1840.8 C1618.4,1840.7 1618.9,1840.9 1619.4,1841.0 C1619.9,1841.1 1620.4,1841.6 1620.9,1841.5 C1621.4,1841.4 1621.9,1840.6 1622.4,1840.5 C1622.9,1840.4 1623.4,1840.9 1623.9,1840.9 C1624.4,1840.9 1624.9,1840.7 1625.4,1840.7 C1625.9,1840.7 1626.4,1841.1 1626.9,1841.0 C1627.4,1841.0 1627.9,1840.3 1628.4,1840.4 C1628.9,1840.4 1629.4,1841.2 1629.9,1841.3 C1630.4,1841.4 1630.9,1840.9 1631.4,1840.9 C1631.9,1840.8 1632.4,1841.0 1632.9,1841.0 C1633.4,1841.0 1633.9,1840.9 1634.4,1840.7 C1634.9,1840.6 1635.4,1840.1 1635.9,1840.0 C1636.4,1840.0 1636.9,1840.7 1637.4,1840.7 C1637.9,1840.7 1638.4,1840.2 1638.9,1840.2 C1639.4,1840.2 1639.9,1840.6 1640.4,1840.6 C1640.9,1840.7 1641.4,1840.3 1641.9,1840.3 C1642.4,1840.3 1642.9,1840.4 1643.4,1840.4 C1643.9,1840.4 1644.4,1840.4 1644.9,1840.4 C1645.4,1840.5 1645.9,1840.8 1646.4,1840.8 C1646.9,1840.9 1647.4,1841.0 1647.9,1840.9 C1648.4,1840.8 1648.9,1840.3 1649.4,1840.3 C1649.9,1840.3 1650.4,1840.5 1650.9,1840.7 C1651.4,1840.8 1651.9,1841.2 1652.4,1841.2 C1652.9,1841.3 1653.4,1841.0 1653.9,1840.9 C1654.4,1840.8 1654.9,1840.6 1655.4,1840.5 C1655.9,1840.5 1656.4,1840.8 1656.9,1840.8 C1657.4,1840.8 1657.9,1840.7 1658.4,1840.8 C1658.9,1840.8 1659.4,1841.2 1659.9,1841.2 C1660.4,1841.3 1660.9,1841.0 1661.4,1841.0 C1661.9,1841.0 1662.4,1841.0 1662.9,1841.1 C1663.4,1841.3 1663.9,1841.9 1664.4,1841.8 C1664.9,1841.7 1665.4,1840.8 1665.9,1840.6 C1666.4,1840.4 1666.9,1840.8 1667.4,1840.8 C1667.9,1840.8 1668.4,1840.6 1668.9,1840.6 C1669.4,1840.5 1669.9,1840.5 1670.4,1840.6 C1670.9,1840.8 1671.4,1841.4 1671.9,1841.5 C1672.4,1841.7 1672.9,1841.3 1673.4,1841.4 C1673.9,1841.4 1674.4,1842.0 1674.9,1841.9 C1675.4,1841.8 1675.9,1840.8 1676.4,1840.7 C1676.9,1840.5 1677.4,1840.9 1677.9,1841.1 C1678.4,1841.3 1678.9,1841.8 1679.4,1841.9 C1679.9,1842.1 1680.4,1841.9 1680.9,1841.8 C1681.4,1841.8 1681.9,1841.8 1682.4,1841.8 C1682.9,1841.8 1683.4,1841.9 1683.9,1841.9 C1684.4,1841.8 1684.9,1841.7 1685.4,1841.6 C1685.9,1841.6 1686.4,1841.6 1686.9,1841.6 C1687.4,1841.7 1687.9,1841.6 1688.4,1841.7 C1688.9,1841.8 1689.4,1842.0 1689.9,1842.0 C1690.4,1842.0 1690.9,1841.7 1691.4,1841.7 C1691.9,1841.7 1692.4,1841.8 1692.9,1841.9 C1693.4,1842.0 1693.9,1842.4 1694.4,1842.4 C1694.9,1842.3 1695.4,1841.6 1695.9,1841.5 C1696.4,1841.4 1696.9,1841.6 1697.4,1841.7 C1697.9,1841.8 1698.4,1842.1 1698.9,1842.2 C1699.4,1842.2 1699.9,1841.9 1700.4,1841.9 C1700.9,1841.9 1701.4,1841.8 1701.9,1841.9 C1702.4,1842.1 1702.9,1842.7 1703.4,1842.7 C1703.9,1842.8 1704.4,1842.3 1704.9,1842.1 C1705.4,1842.0 1705.9,1841.8 1706.4,1841.9 C1706.9,1841.9 1707.4,1842.2 1707.9,1842.4 C1708.4,1842.6 1708.9,1843.0 1709.4,1842.9 C1709.9,1842.8 1710.4,1841.8 1710.9,1841.6 C1711.4,1841.4 1711.9,1841.7 1712.4,1841.8 C1712.9,1841.8 1713.4,1842.0 1713.9,1842.0 C1714.4,1842.0 1714.9,1841.7 1715.4,1841.8 C1715.9,1841.9 1716.4,1842.7 1716.9,1842.8 C1717.4,1842.8 1717.9,1842.3 1718.4,1842.2 C1718.9,1842.0 1719.4,1841.9 1719.9,1841.9 C1720.4,1841.9 1720.9,1842.2 1721.4,1842.2 C1721.9,1842.1 1722.4,1841.8 1722.9,1841.7 C1723.4,1841.7 1723.9,1841.7 1724.4,1841.8 C1724.9,1841.8 1725.4,1841.9 1725.9,1842.0 C1726.4,1842.2 1726.9,1843.0 1727.4,1842.8 C1727.9,1842.7 1728.4,1841.3 1728.9,1841.2 C1729.4,1841.1 1729.9,1841.9 1730.4,1842.1 C1730.9,1842.4 1731.4,1842.5 1731.9,1842.5 C1732.4,1842.5 1732.9,1842.2 1733.4,1842.3 C1733.9,1842.3 1734.4,1842.7 1734.9,1842.7 C1735.4,1842.7 1735.9,1842.3 1736.4,1842.2 C1736.9,1842.1 1737.4,1842.1 1737.9,1842.1 C1738.4,1842.0 1738.9,1842.0 1739.4,1842.0 C1739.9,1841.9 1740.4,1841.6 1740.9,1841.7 C1741.4,1841.8 1741.9,1842.6 1742.4,1842.6 C1742.9,1842.6 1743.4,1841.7 1743.9,1841.6 C1744.4,1841.5 1744.9,1841.9 1745.4,1842.0 C1745.9,1842.0 1746.4,1841.9 1746.9,1841.8 C1747.4,1841.8 1747.9,1841.8 1748.4,1841.7 C1748.9,1841.6 1749.4,1841.2 1749.9,1841.2 C1750.4,1841.2 1750.9,1841.7 1751.4,1841.9 C1751.9,1842.0 1752.4,1842.0 1752.9,1842.0 C1753.4,1842.1 1753.9,1842.0 1754.4,1842.1 C1754.9,1842.1 1755.4,1842.3 1755.9,1842.3 C1756.4,1842.3 1756.9,1842.0 1757.4,1841.9 C1757.9,1841.9 1758.4,1841.7 1758.9,1841.8 C1759.4,1841.8 1759.9,1842.0 1760.4,1842.1 C1760.9,1842.2 1761.4,1842.3 1761.9,1842.3 C1762.4,1842.2 1762.9,1841.9 1763.4,1841.8 C1763.9,1841.7 1764.4,1841.6 1764.9,1841.6 C1765.4,1841.6 1765.9,1841.6 1766.4,1841.8 C1766.9,1842.0 1767.4,1842.4 1767.9,1842.6 C1768.4,1842.7 1768.9,1842.7 1769.4,1842.6 C1769.9,1842.5 1770.4,1842.0 1770.9,1842.0 C1771.4,1841.9 1771.9,1842.2 1772.4,1842.3 C1772.9,1842.5 1773.4,1842.6 1773.9,1842.6 C1774.4,1842.7 1774.9,1842.9 1775.4,1842.9 C1775.9,1842.8 1776.4,1842.3 1776.9,1842.2 C1777.4,1842.1 1777.9,1842.2 1778.4,1842.4 C1778.9,1842.5 1779.4,1842.8 1779.9,1843.0 C1780.4,1843.2 1780.9,1843.4 1781.4,1843.4 C1781.9,1843.4 1782.4,1843.3 1782.9,1843.1 C1783.4,1842.9 1783.9,1842.3 1784.4,1842.2 C1784.9,1842.2 1785.4,1842.7 1785.9,1842.8 C1786.4,1842.9 1786.9,1842.6 1787.4,1842.6 C1787.9,1842.6 1788.4,1842.7 1788.9,1842.7 C1789.4,1842.7 1789.9,1842.5 1790.4,1842.5 C1790.9,1842.5 1791.4,1842.6 1791.9,1842.6 C1792.4,1842.7 1792.9,1842.7 1793.4,1842.8 C1793.9,1843.0 1794.4,1843.4 1794.9,1843.5 C1795.4,1843.6 1795.9,1843.2 1796.4,1843.2 C1796.9,1843.1 1797.4,1843.1 1797.9,1843.1 C1798.4,1843.1 1798.9,1843.1 1799.4,1843.0 C1799.9,1842.9 1800.4,1842.7 1800.9,1842.7 C1801.4,1842.7 1801.9,1842.8 1802.4,1842.9 C1802.9,1843.0 1803.4,1843.4 1803.9,1843.4 C1804.4,1843.5 1804.9,1843.2 1805.4,1843.3 C1805.9,1843.3 1806.4,1843.7 1806.9,1843.7 C1807.4,1843.7 1807.9,1843.2 1808.4,1843.1 C1808.9,1843.0 1809.4,1843.1 1809.9,1843.0 C1810.4,1842.9 1810.9,1842.4 1811.4,1842.4 C1811.9,1842.5 1812.4,1843.1 1812.9,1843.1 C1813.4,1843.1 1813.9,1842.3 1814.4,1842.4 C1814.9,1842.5 1815.4,1843.5 1815.9,1843.5 C1816.4,1843.6 1816.9,1842.9 1817.4,1842.8 C1817.9,1842.7 1818.4,1843.0 1818.9,1843.0 C1819.4,1843.0 1819.9,1842.6 1820.4,1842.5 C1820.9,1842.5 1821.4,1842.8 1821.9,1842.8 C1822.4,1842.9 1822.9,1842.6 1823.4,1842.7 C1823.9,1842.8 1824.4,1843.3 1824.9,1843.4 C1825.4,1843.5 1825.9,1843.2 1826.4,1843.1 C1826.9,1843.0 1827.4,1842.7 1827.9,1842.6 C1828.4,1842.5 1828.9,1842.3 1829.4,1842.3 C1829.9,1842.4 1830.4,1842.9 1830.9,1843.0 C1831.4,1843.1 1831.9,1842.9 1832.4,1842.8 C1832.9,1842.8 1833.4,1842.5 1833.9,1842.6 C1834.4,1842.7 1834.9,1843.2 1835.4,1843.2 C1835.9,1843.3 1836.4,1843.0 1836.9,1842.9 C1837.4,1842.9 1837.9,1843.1 1838.4,1843.0 C1838.9,1843.0 1839.4,1842.8 1839.9,1842.8 C1840.4,1842.8 1840.9,1842.8 1841.4,1842.8 C1841.9,1842.8 1842.4,1842.9 1842.9,1842.8 C1843.4,1842.8 1843.9,1842.4 1844.4,1842.4 C1844.9,1842.5 1845.4,1843.1 1845.9,1843.2 C1846.4,1843.3 1846.9,1843.3 1847.4,1843.1 C1847.9,1843.0 1848.4,1842.4 1848.9,1842.4 C1849.4,1842.4 1849.9,1842.9 1850.4,1843.0 C1850.9,1843.2 1851.4,1843.4 1851.9,1843.4 C1852.4,1843.4 1852.9,1843.1 1853.4,1843.1 C1853.9,1843.1 1854.4,1843.5 1854.9,1843.5 C1855.4,1843.4 1856.2,1843.0 1856.4,1842.9" fill="none" stroke="#111" stroke-width="3.6" stroke-linejoin="round"/>
<path d="M110.4,2139.2 C110.7,2139.9 111.4,2142.0 111.9,2143.2 C112.4,2144.5 112.9,2145.4 113.4,2146.5 C113.9,2147.7 114.4,2148.8 114.9,2150.1 C115.4,2151.4 115.9,2153.1 116.4,2154.3 C116.9,2155.6 117.4,2154.7 117.9,2157.8 C118.4,2160.8 118.9,2167.4 119.4,2172.6 C119.9,2177.8 120.4,2183.5 120.9,2189.1 C121.4,2194.6 121.9,2199.3 122.4,2205.8 C122.9,2212.3 123.4,2220.6 123.9,2228.1 C124.4,2235.5 124.9,2243.5 125.4,2250.5 C125.9,2257.6 126.4,2264.1 126.9,2270.4 C127.4,2276.8 127.9,2282.6 128.4,2288.6 C128.9,2294.5 129.4,2302.0 129.9,2306.3 C130.4,2310.6 130.9,2316.2 131.4,2314.5 C131.9,2312.8 132.4,2302.5 132.9,2296.4 C133.4,2290.3 133.9,2286.8 134.4,2278.0 C134.9,2269.1 135.4,2256.5 135.9,2243.2 C136.4,2230.0 136.9,2211.3 137.4,2198.5 C137.9,2185.6 138.4,2175.6 138.9,2166.2 C139.4,2156.9 139.9,2149.4 140.4,2142.5 C140.9,2135.5 141.4,2127.4 141.9,2124.6 C142.4,2121.8 142.9,2125.3 143.4,2125.7 C143.9,2126.1 144.4,2126.2 144.9,2126.9 C145.4,2127.7 145.9,2128.8 146.4,2130.4 C146.9,2131.9 147.4,2134.2 147.9,2136.1 C148.4,2138.0 148.9,2139.8 149.4,2141.8 C149.9,2143.9 150.4,2145.8 150.9,2148.2 C151.4,2150.5 151.9,2153.3 152.4,2156.1 C152.9,2158.9 153.4,2161.8 153.9,2164.9 C154.4,2168.0 154.9,2171.7 155.4,2174.9 C155.9,2178.2 156.4,2180.6 156.9,2184.6 C157.4,2188.5 157.9,2193.9 158.4,2198.7 C158.9,2203.4 159.4,2208.4 159.9,2213.1 C160.4,2217.9 160.9,2221.1 161.4,2227.2 C161.9,2233.2 162.4,2240.1 162.9,2249.5 C163.4,2258.9 163.9,2272.3 164.4,2283.6 C164.9,2295.0 165.4,2306.3 165.9,2317.6 C166.4,2329.0 166.9,2340.4 167.4,2351.8 C167.9,2363.2 168.4,2377.5 168.9,2385.8 C169.4,2394.1 169.9,2404.0 170.4,2401.7 C170.9,2399.4 171.4,2382.2 171.9,2372.2 C172.4,2362.2 172.9,2352.3 173.4,2341.7 C173.9,2331.1 174.4,2320.0 174.9,2308.6 C175.4,2297.3 175.9,2285.2 176.4,2273.5 C176.9,2261.8 177.4,2249.8 177.9,2238.4 C178.4,2227.0 178.9,2216.2 179.4,2205.1 C179.9,2193.9 180.4,2181.5 180.9,2171.3 C181.4,2161.1 181.9,2150.6 182.4,2143.9 C182.9,2137.2 183.4,2133.6 183.9,2131.3 C184.4,2129.0 184.9,2128.3 185.4,2130.2 C185.9,2132.1 186.4,2137.3 186.9,2142.9 C187.4,2148.4 187.9,2156.8 188.4,2163.4 C188.9,2170.0 189.4,2177.6 189.9,2182.4 C190.4,2187.2 190.9,2193.7 191.4,2192.3 C191.9,2190.8 192.4,2180.2 192.9,2173.7 C193.4,2167.3 193.9,2160.7 194.4,2153.7 C194.9,2146.7 195.4,2138.6 195.9,2131.8 C196.4,2125.1 196.9,2117.6 197.4,2113.3 C197.9,2108.9 198.4,2107.4 198.9,2105.6 C199.4,2103.8 199.9,2102.4 200.4,2102.4 C200.9,2102.3 201.4,2104.3 201.9,2105.3 C202.4,2106.3 202.9,2106.8 203.4,2108.2 C203.9,2109.7 204.4,2112.1 204.9,2114.1 C205.4,2116.2 205.9,2118.4 206.4,2120.6 C206.9,2122.9 207.4,2125.1 207.9,2127.5 C208.4,2129.9 208.9,2131.5 209.4,2135.1 C209.9,2138.7 210.4,2144.6 210.9,2149.2 C211.4,2153.7 211.9,2158.0 212.4,2162.4 C212.9,2166.8 213.4,2171.1 213.9,2175.5 C214.4,2180.0 214.9,2184.4 215.4,2189.2 C215.9,2194.1 216.4,2199.5 216.9,2204.5 C217.4,2209.5 217.9,2214.8 218.4,2219.3 C218.9,2223.8 219.4,2227.7 219.9,2231.4 C220.4,2235.1 220.9,2240.6 221.4,2241.5 C221.9,2242.5 222.4,2240.4 222.9,2237.1 C223.4,2233.8 223.9,2227.5 224.4,2221.6 C224.9,2215.6 225.4,2208.7 225.9,2201.6 C226.4,2194.5 226.9,2186.4 227.4,2178.9 C227.9,2171.4 228.4,2162.8 228.9,2156.5 C229.4,2150.3 229.9,2142.2 230.4,2141.5 C230.9,2140.9 231.4,2149.0 231.9,2152.7 C232.4,2156.4 232.9,2158.9 233.4,2163.8 C233.9,2168.7 234.4,2176.2 234.9,2182.2 C235.4,2188.2 235.9,2199.6 236.4,2199.9 C236.9,2200.2 237.4,2189.3 237.9,2183.7 C238.4,2178.2 238.9,2171.2 239.4,2166.4 C239.9,2161.7 240.4,2158.4 240.9,2155.1 C241.4,2151.8 241.9,2149.4 242.4,2146.5 C242.9,2143.5 243.4,2140.0 243.9,2137.2 C244.4,2134.5 244.9,2130.9 245.4,2129.8 C245.9,2128.8 246.4,2130.4 246.9,2130.9 C247.4,2131.4 247.9,2132.3 248.4,2132.9 C248.9,2133.5 249.4,2132.3 249.9,2134.5 C250.4,2136.8 250.9,2142.4 251.4,2146.4 C251.9,2150.5 252.4,2154.6 252.9,2158.7 C253.4,2162.9 253.9,2167.3 254.4,2171.4 C254.9,2175.5 255.4,2178.8 255.9,2183.3 C256.4,2187.8 256.9,2193.6 257.4,2198.1 C257.9,2202.7 258.4,2206.2 258.9,2210.6 C259.4,2214.9 259.9,2219.8 260.4,2224.4 C260.9,2229.0 261.4,2233.6 261.9,2238.1 C262.4,2242.6 262.9,2246.7 263.4,2251.3 C263.9,2255.9 264.4,2261.2 264.9,2265.7 C265.4,2270.1 265.9,2274.4 266.4,2278.2 C266.9,2282.1 267.4,2285.1 267.9,2288.8 C268.4,2292.5 268.9,2297.1 269.4,2300.6 C269.9,2304.0 270.4,2307.1 270.9,2309.7 C271.4,2312.3 271.9,2313.6 272.4,2315.9 C272.9,2318.2 273.4,2324.8 273.9,2323.6 C274.4,2322.4 274.9,2313.6 275.4,2308.5 C275.9,2303.4 276.4,2299.0 276.9,2292.9 C277.4,2286.9 277.9,2280.7 278.4,2272.1 C278.9,2263.6 279.4,2251.8 279.9,2241.6 C280.4,2231.5 280.9,2218.5 281.4,2211.4 C281.9,2204.3 282.4,2201.4 282.9,2198.8 C283.4,2196.2 283.9,2196.3 284.4,2195.8 C284.9,2195.2 285.4,2196.1 285.9,2195.4 C286.4,2194.7 286.9,2193.3 287.4,2191.6 C287.9,2189.9 288.4,2187.7 288.9,2185.1 C289.4,2182.5 289.9,2180.0 290.4,2175.9 C290.9,2171.9 291.4,2165.3 291.9,2160.8 C292.4,2156.2 292.9,2151.4 293.4,2148.6 C293.9,2145.7 294.4,2144.6 294.9,2143.7 C295.4,2142.9 295.9,2141.1 296.4,2143.5 C296.9,2146.0 297.4,2152.7 297.9,2158.4 C298.4,2164.1 298.9,2170.0 299.4,2177.8 C299.9,2185.7 300.4,2196.3 300.9,2205.4 C301.4,2214.4 301.9,2224.2 302.4,2232.1 C302.9,2240.0 303.4,2246.4 303.9,2252.9 C304.4,2259.5 304.9,2265.6 305.4,2271.3 C305.9,2277.1 306.4,2282.9 306.9,2287.3 C307.4,2291.8 307.9,2294.3 308.4,2298.1 C308.9,2301.9 309.4,2303.7 309.9,2310.0 C310.4,2316.3 310.9,2326.5 311.4,2335.9 C311.9,2345.3 312.4,2356.2 312.9,2366.3 C313.4,2376.5 313.9,2387.6 314.4,2396.9 C314.9,2406.3 315.4,2413.9 315.9,2422.4 C316.4,2430.9 316.9,2444.4 317.4,2448.0 C317.9,2451.6 318.4,2448.6 318.9,2443.9 C319.4,2439.2 319.9,2430.0 320.4,2419.9 C320.9,2409.8 321.4,2396.7 321.9,2383.3 C322.4,2370.0 322.9,2355.6 323.4,2339.8 C323.9,2324.0 324.4,2305.7 324.9,2288.4 C325.4,2271.0 325.9,2253.5 326.4,2235.8 C326.9,2218.1 327.4,2197.9 327.9,2182.3 C328.4,2166.8 328.9,2154.3 329.4,2142.5 C329.9,2130.8 330.4,2118.8 330.9,2112.1 C331.4,2105.3 331.9,2105.3 332.4,2102.0 C332.9,2098.8 333.4,2094.3 333.9,2092.5 C334.4,2090.7 334.9,2091.9 335.4,2091.1 C335.9,2090.3 336.4,2088.4 336.9,2087.7 C337.4,2087.0 337.9,2087.1 338.4,2086.9 C338.9,2086.8 339.4,2087.0 339.9,2086.9 C340.4,2086.8 340.9,2086.4 341.4,2086.4 C341.9,2086.5 342.4,2087.1 342.9,2087.3 C343.4,2087.6 343.9,2087.6 344.4,2087.9 C344.9,2088.2 345.4,2088.9 345.9,2089.2 C346.4,2089.5 346.9,2089.7 347.4,2089.7 C347.9,2089.7 348.4,2089.3 348.9,2089.3 C349.4,2089.2 349.9,2089.2 350.4,2089.3 C350.9,2089.4 351.4,2089.7 351.9,2089.9 C352.4,2090.0 352.9,2090.0 353.4,2090.0 C353.9,2090.0 354.4,2089.9 354.9,2089.7 C355.4,2089.6 355.9,2089.2 356.4,2089.0 C356.9,2088.9 357.4,2088.8 357.9,2088.8 C358.4,2088.9 358.9,2089.3 359.4,2089.5 C359.9,2089.7 360.4,2090.0 360.9,2090.1 C361.4,2090.2 361.9,2089.6 362.4,2089.8 C362.9,2090.0 363.4,2090.9 363.9,2091.2 C364.4,2091.4 364.9,2091.3 365.4,2091.4 C365.9,2091.6 366.4,2092.0 366.9,2092.1 C367.4,2092.2 367.9,2091.9 368.4,2092.0 C368.9,2092.2 369.4,2092.9 369.9,2093.0 C370.4,2093.1 370.9,2092.9 371.4,2092.8 C371.9,2092.7 372.4,2092.4 372.9,2092.5 C373.4,2092.7 373.9,2093.6 374.4,2093.8 C374.9,2094.0 375.4,2093.6 375.9,2093.7 C376.4,2093.9 376.9,2094.5 377.4,2094.7 C377.9,2094.9 378.4,2094.7 378.9,2094.8 C379.4,2094.8 379.9,2094.8 380.4,2094.9 C380.9,2095.1 381.4,2095.6 381.9,2095.7 C382.4,2095.9 382.9,2095.9 383.4,2096.0 C383.9,2096.2 384.4,2096.3 384.9,2096.4 C385.4,2096.6 385.9,2096.9 386.4,2097.1 C386.9,2097.3 387.4,2097.5 387.9,2097.5 C388.4,2097.6 388.9,2097.4 389.4,2097.4 C389.9,2097.4 390.4,2097.5 390.9,2097.5 C391.4,2097.6 391.9,2097.4 392.4,2097.5 C392.9,2097.6 393.4,2098.0 393.9,2098.1 C394.4,2098.2 394.9,2098.1 395.4,2098.1 C395.9,2098.2 396.4,2098.3 396.9,2098.4 C397.4,2098.4 397.9,2098.1 398.4,2098.1 C398.9,2098.2 399.4,2098.9 399.9,2098.8 C400.4,2098.7 400.9,2097.6 401.4,2097.5 C401.9,2097.3 402.4,2097.9 402.9,2098.0 C403.4,2098.1 403.9,2098.1 404.4,2098.2 C404.9,2098.3 405.4,2098.5 405.9,2098.3 C406.4,2098.2 406.9,2097.4 407.4,2097.2 C407.9,2096.9 408.4,2096.9 408.9,2096.8 C409.4,2096.8 409.9,2096.8 410.4,2096.8 C410.9,2096.8 411.4,2096.8 411.9,2096.7 C412.4,2096.6 412.9,2096.6 413.4,2096.2 C413.9,2095.9 414.4,2094.9 414.9,2094.6 C415.4,2094.3 415.9,2094.6 416.4,2094.5 C416.9,2094.4 417.4,2094.4 417.9,2094.2 C418.4,2093.9 418.9,2093.6 419.4,2093.1 C419.9,2092.6 420.4,2091.7 420.9,2091.1 C421.4,2090.6 421.9,2090.2 422.4,2089.6 C422.9,2089.1 423.4,2088.2 423.9,2087.8 C424.4,2087.4 424.9,2087.5 425.4,2087.1 C425.9,2086.6 426.4,2085.7 426.9,2085.1 C427.4,2084.5 427.9,2084.1 428.4,2083.6 C428.9,2083.1 429.4,2082.5 429.9,2082.1 C430.4,2081.7 430.9,2081.4 431.4,2081.0 C431.9,2080.5 432.4,2079.9 432.9,2079.5 C433.4,2079.1 433.9,2078.8 434.4,2078.6 C434.9,2078.3 435.4,2078.3 435.9,2078.0 C436.4,2077.8 436.9,2077.4 437.4,2077.1 C437.9,2076.8 438.4,2076.7 438.9,2076.4 C439.4,2076.0 439.9,2075.5 440.4,2075.2 C440.9,2074.9 441.4,2074.9 441.9,2074.6 C442.4,2074.2 442.9,2073.5 443.4,2073.1 C443.9,2072.7 444.4,2072.4 444.9,2072.2 C445.4,2071.9 445.9,2071.9 446.4,2071.7 C446.9,2071.5 447.4,2071.0 447.9,2071.0 C448.4,2070.9 448.9,2071.4 449.4,2071.3 C449.9,2071.1 450.4,2070.5 450.9,2070.2 C451.4,2069.9 451.9,2069.5 452.4,2069.5 C452.9,2069.5 453.4,2070.1 453.9,2070.1 C454.4,2070.1 454.9,2069.7 455.4,2069.5 C455.9,2069.2 456.4,2068.8 456.9,2068.6 C457.4,2068.5 457.9,2068.8 458.4,2068.8 C458.9,2068.7 459.4,2068.5 459.9,2068.4 C460.4,2068.3 460.9,2068.3 461.4,2068.1 C461.9,2067.9 462.4,2067.4 462.9,2067.3 C463.4,2067.2 463.9,2067.6 464.4,2067.6 C464.9,2067.5 465.4,2067.1 465.9,2067.0 C466.4,2066.9 466.9,2067.0 467.4,2067.0 C467.9,2067.0 468.4,2066.9 468.9,2066.8 C469.4,2066.8 469.9,2066.6 470.4,2066.6 C470.9,2066.6 471.4,2066.9 471.9,2066.9 C472.4,2066.8 472.9,2066.3 473.4,2066.3 C473.9,2066.2 474.4,2066.6 474.9,2066.6 C475.4,2066.6 475.9,2066.4 476.4,2066.3 C476.9,2066.1 477.4,2065.9 477.9,2065.8 C478.4,2065.8 478.9,2065.9 479.4,2065.9 C479.9,2066.0 480.4,2066.0 480.9,2066.1 C481.4,2066.1 481.9,2066.3 482.4,2066.2 C482.9,2066.2 483.4,2065.7 483.9,2065.7 C484.4,2065.8 484.9,2066.4 485.4,2066.5 C485.9,2066.5 486.4,2066.1 486.9,2066.1 C487.4,2066.0 487.9,2066.4 488.4,2066.3 C488.9,2066.2 489.4,2065.5 489.9,2065.4 C490.4,2065.3 490.9,2065.3 491.4,2065.5 C491.9,2065.7 492.4,2066.3 492.9,2066.3 C493.4,2066.4 493.9,2065.8 494.4,2065.8 C494.9,2065.8 495.4,2066.0 495.9,2066.1 C496.4,2066.1 496.9,2066.4 497.4,2066.3 C497.9,2066.2 498.4,2065.4 498.9,2065.4 C499.4,2065.4 499.9,2065.9 500.4,2066.1 C500.9,2066.3 501.4,2066.6 501.9,2066.6 C502.4,2066.6 502.9,2066.3 503.4,2066.2 C503.9,2066.1 504.4,2066.0 504.9,2066.0 C505.4,2066.0 505.9,2066.1 506.4,2066.1 C506.9,2066.1 507.4,2065.9 507.9,2066.0 C508.4,2066.0 508.9,2066.2 509.4,2066.2 C509.9,2066.3 510.4,2066.5 510.9,2066.4 C511.4,2066.4 511.9,2065.9 512.4,2065.9 C512.9,2065.9 513.4,2066.2 513.9,2066.2 C514.4,2066.2 514.9,2066.1 515.4,2066.1 C515.9,2066.1 516.4,2066.2 516.9,2066.3 C517.4,2066.3 517.9,2066.4 518.4,2066.3 C518.9,2066.2 519.4,2065.6 519.9,2065.6 C520.4,2065.7 520.9,2066.3 521.4,2066.4 C521.9,2066.6 522.4,2066.5 522.9,2066.4 C523.4,2066.2 523.9,2065.8 524.4,2065.7 C524.9,2065.6 525.4,2066.0 525.9,2066.0 C526.4,2066.0 526.9,2065.6 527.4,2065.6 C527.9,2065.6 528.4,2065.9 528.9,2066.0 C529.4,2066.2 529.9,2066.3 530.4,2066.3 C530.9,2066.2 531.4,2065.8 531.9,2065.8 C532.4,2065.7 532.9,2065.9 533.4,2065.9 C533.9,2066.0 534.4,2065.9 534.9,2065.9 C535.4,2065.9 535.9,2066.0 536.4,2066.0 C536.9,2066.0 537.4,2066.0 537.9,2066.0 C538.4,2066.0 538.9,2065.8 539.4,2065.9 C539.9,2066.0 540.4,2066.5 540.9,2066.5 C541.4,2066.6 541.9,2066.3 542.4,2066.3 C542.9,2066.2 543.4,2066.0 543.9,2066.1 C544.4,2066.2 544.9,2066.7 545.4,2066.7 C545.9,2066.8 546.4,2066.2 546.9,2066.2 C547.4,2066.2 547.9,2066.8 548.4,2066.8 C548.9,2066.7 549.4,2066.0 549.9,2066.0 C550.4,2066.1 550.9,2066.9 551.4,2067.0 C551.9,2067.0 552.4,2066.5 552.9,2066.3 C553.4,2066.2 553.9,2066.1 554.4,2066.2 C554.9,2066.2 555.4,2066.7 555.9,2066.7 C556.4,2066.7 556.9,2066.2 557.4,2066.1 C557.9,2066.0 558.4,2066.1 558.9,2066.2 C559.4,2066.3 559.9,2066.7 560.4,2066.7 C560.9,2066.7 561.4,2066.3 561.9,2066.2 C562.4,2066.2 562.9,2066.4 563.4,2066.3 C563.9,2066.3 564.4,2066.1 564.9,2066.0 C565.4,2065.9 565.9,2065.9 566.4,2065.8 C566.9,2065.8 567.4,2065.6 567.9,2065.6 C568.4,2065.5 568.9,2065.6 569.4,2065.6 C569.9,2065.5 570.4,2065.1 570.9,2065.1 C571.4,2065.0 571.9,2065.3 572.4,2065.3 C572.9,2065.2 573.4,2065.2 573.9,2065.0 C574.4,2064.7 574.9,2064.0 575.4,2063.7 C575.9,2063.5 576.4,2063.5 576.9,2063.6 C577.4,2063.7 577.9,2064.5 578.4,2064.5 C578.9,2064.5 579.4,2063.8 579.9,2063.6 C580.4,2063.5 580.9,2063.7 581.4,2063.6 C581.9,2063.6 582.4,2063.4 582.9,2063.3 C583.4,2063.2 583.9,2063.1 584.4,2063.2 C584.9,2063.3 585.4,2063.8 585.9,2063.6 C586.4,2063.5 586.9,2062.5 587.4,2062.3 C587.9,2062.1 588.4,2062.4 588.9,2062.3 C589.4,2062.3 589.9,2062.2 590.4,2062.0 C590.9,2061.9 591.4,2061.5 591.9,2061.4 C592.4,2061.2 592.9,2061.2 593.4,2061.2 C593.9,2061.1 594.4,2061.1 594.9,2061.1 C595.4,2061.0 595.9,2061.0 596.4,2060.9 C596.9,2060.8 597.4,2061.0 597.9,2060.8 C598.4,2060.6 598.9,2059.9 599.4,2059.7 C599.9,2059.5 600.4,2059.4 600.9,2059.5 C601.4,2059.6 601.9,2060.4 602.4,2060.4 C602.9,2060.4 603.4,2059.6 603.9,2059.5 C604.4,2059.3 604.9,2059.6 605.4,2059.5 C605.9,2059.4 606.4,2059.0 606.9,2058.8 C607.4,2058.6 607.9,2058.4 608.4,2058.4 C608.9,2058.5 609.4,2059.4 609.9,2059.3 C610.4,2059.2 610.9,2058.2 611.4,2058.0 C611.9,2057.8 612.4,2057.9 612.9,2058.0 C613.4,2058.1 613.9,2058.5 614.4,2058.5 C614.9,2058.5 615.4,2058.3 615.9,2058.1 C616.4,2058.0 616.9,2057.5 617.4,2057.5 C617.9,2057.4 618.4,2057.9 618.9,2058.0 C619.4,2058.1 619.9,2058.2 620.4,2058.1 C620.9,2058.0 621.4,2057.3 621.9,2057.2 C622.4,2057.1 622.9,2057.3 623.4,2057.4 C623.9,2057.5 624.4,2057.7 624.9,2057.8 C625.4,2057.9 625.9,2058.4 626.4,2058.3 C626.9,2058.1 627.4,2057.0 627.9,2056.9 C628.4,2056.8 628.9,2057.4 629.4,2057.6 C629.9,2057.7 630.4,2057.9 630.9,2057.9 C631.4,2057.9 631.9,2057.7 632.4,2057.7 C632.9,2057.7 633.4,2057.7 633.9,2057.8 C634.4,2057.9 634.9,2057.9 635.4,2058.1 C635.9,2058.2 636.4,2058.5 636.9,2058.5 C637.4,2058.5 637.9,2058.0 638.4,2058.1 C638.9,2058.1 639.4,2058.7 639.9,2058.8 C640.4,2059.0 640.9,2058.9 641.4,2059.0 C641.9,2059.1 642.4,2059.3 642.9,2059.5 C643.4,2059.6 643.9,2060.1 644.4,2060.1 C644.9,2060.2 645.4,2059.8 645.9,2059.8 C646.4,2059.9 646.9,2060.2 647.4,2060.4 C647.9,2060.6 648.4,2061.0 648.9,2061.2 C649.4,2061.4 649.9,2061.6 650.4,2061.7 C650.9,2061.9 651.4,2062.0 651.9,2062.0 C652.4,2062.1 652.9,2061.9 653.4,2062.0 C653.9,2062.0 654.4,2062.3 654.9,2062.4 C655.4,2062.5 655.9,2062.4 656.4,2062.5 C656.9,2062.7 657.4,2063.1 657.9,2063.3 C658.4,2063.4 658.9,2063.4 659.4,2063.5 C659.9,2063.7 660.4,2064.0 660.9,2064.2 C661.4,2064.4 661.9,2064.5 662.4,2064.7 C662.9,2065.0 663.4,2065.4 663.9,2065.7 C664.4,2065.9 664.9,2066.1 665.4,2066.2 C665.9,2066.3 666.4,2066.3 666.9,2066.4 C667.4,2066.4 667.9,2066.4 668.4,2066.5 C668.9,2066.7 669.4,2067.2 669.9,2067.4 C670.4,2067.7 670.9,2067.9 671.4,2068.1 C671.9,2068.3 672.4,2068.6 672.9,2068.8 C673.4,2069.0 673.9,2068.9 674.4,2069.1 C674.9,2069.3 675.4,2069.7 675.9,2069.8 C676.4,2069.9 676.9,2069.6 677.4,2069.6 C677.9,2069.6 678.4,2069.9 678.9,2069.9 C679.4,2069.9 679.9,2069.8 680.4,2069.7 C680.9,2069.5 681.4,2069.2 681.9,2069.1 C682.4,2068.9 682.9,2068.7 683.4,2068.7 C683.9,2068.7 684.4,2069.3 684.9,2069.2 C685.4,2069.1 685.9,2068.3 686.4,2068.2 C686.9,2068.1 687.4,2068.6 687.9,2068.6 C688.4,2068.5 688.9,2068.1 689.4,2068.0 C689.9,2067.9 690.4,2067.8 690.9,2067.8 C691.4,2067.7 691.9,2067.7 692.4,2067.6 C692.9,2067.6 693.4,2067.4 693.9,2067.4 C694.4,2067.3 694.9,2067.3 695.4,2067.3 C695.9,2067.4 696.4,2067.8 696.9,2067.8 C697.4,2067.8 697.9,2067.7 698.4,2067.5 C698.9,2067.3 699.4,2066.9 699.9,2066.7 C700.4,2066.6 700.9,2066.8 701.4,2066.8 C701.9,2066.7 702.4,2066.6 702.9,2066.4 C703.4,2066.2 703.9,2065.6 704.4,2065.4 C704.9,2065.3 705.4,2065.9 705.9,2065.7 C706.4,2065.6 706.9,2064.8 707.4,2064.6 C707.9,2064.4 708.4,2064.5 708.9,2064.3 C709.4,2064.1 709.9,2063.5 710.4,2063.2 C710.9,2063.0 711.4,2062.8 711.9,2062.7 C712.4,2062.5 712.9,2062.3 713.4,2062.2 C713.9,2062.1 714.4,2061.9 714.9,2061.8 C715.4,2061.8 715.9,2062.1 716.4,2061.9 C716.9,2061.8 717.4,2061.1 717.9,2060.9 C718.4,2060.8 718.9,2061.0 719.4,2060.9 C719.9,2060.7 720.4,2060.2 720.9,2059.9 C721.4,2059.6 721.9,2059.3 722.4,2059.2 C722.9,2059.1 723.4,2059.2 723.9,2059.1 C724.4,2059.0 724.9,2058.7 725.4,2058.4 C725.9,2058.1 726.4,2057.5 726.9,2057.5 C727.4,2057.4 727.9,2057.8 728.4,2058.1 C728.9,2058.4 729.4,2058.9 729.9,2059.0 C730.4,2059.2 730.9,2059.0 731.4,2059.0 C731.9,2059.1 732.4,2059.0 732.9,2059.2 C733.4,2059.3 733.9,2059.7 734.4,2059.8 C734.9,2060.0 735.4,2060.0 735.9,2060.2 C736.4,2060.4 736.9,2060.9 737.4,2061.0 C737.9,2061.2 738.4,2061.1 738.9,2061.3 C739.4,2061.5 739.9,2061.9 740.4,2062.1 C740.9,2062.3 741.4,2062.4 741.9,2062.6 C742.4,2062.8 742.9,2063.3 743.4,2063.4 C743.9,2063.4 744.4,2063.0 744.9,2062.9 C745.4,2062.8 745.9,2062.7 746.4,2063.0 C746.9,2063.3 747.4,2064.4 747.9,2064.7 C748.4,2065.0 748.9,2064.6 749.4,2064.7 C749.9,2064.7 750.4,2064.6 750.9,2064.8 C751.4,2064.9 751.9,2065.4 752.4,2065.5 C752.9,2065.6 753.4,2065.3 753.9,2065.4 C754.4,2065.5 754.9,2065.8 755.4,2066.0 C755.9,2066.2 756.4,2066.6 756.9,2066.7 C757.4,2066.9 757.9,2066.7 758.4,2066.8 C758.9,2066.9 759.4,2067.2 759.9,2067.4 C760.4,2067.5 760.9,2067.7 761.4,2067.9 C761.9,2068.0 762.4,2068.0 762.9,2068.1 C763.4,2068.1 763.9,2068.1 764.4,2068.2 C764.9,2068.3 765.4,2068.6 765.9,2068.7 C766.4,2068.9 766.9,2069.2 767.4,2069.3 C767.9,2069.4 768.4,2069.6 768.9,2069.6 C769.4,2069.5 769.9,2069.0 770.4,2069.1 C770.9,2069.2 771.4,2069.9 771.9,2069.9 C772.4,2070.0 772.9,2069.3 773.4,2069.3 C773.9,2069.2 774.4,2069.5 774.9,2069.7 C775.4,2070.0 775.9,2070.4 776.4,2070.6 C776.9,2070.9 777.4,2070.8 777.9,2071.0 C778.4,2071.1 778.9,2071.6 779.4,2071.5 C779.9,2071.5 780.4,2070.7 780.9,2070.7 C781.4,2070.8 781.9,2071.8 782.4,2072.0 C782.9,2072.1 783.4,2071.7 783.9,2071.7 C784.4,2071.7 784.9,2071.9 785.4,2072.0 C785.9,2072.1 786.4,2072.4 786.9,2072.6 C787.4,2072.8 787.9,2073.2 788.4,2073.2 C788.9,2073.2 789.4,2072.8 789.9,2072.7 C790.4,2072.6 790.9,2072.5 791.4,2072.6 C791.9,2072.7 792.4,2073.1 792.9,2073.2 C793.4,2073.4 793.9,2073.5 794.4,2073.6 C794.9,2073.8 795.4,2074.2 795.9,2074.3 C796.4,2074.4 796.9,2074.3 797.4,2074.3 C797.9,2074.3 798.4,2074.2 798.9,2074.3 C799.4,2074.3 799.9,2074.4 800.4,2074.4 C800.9,2074.5 801.4,2074.5 801.9,2074.7 C802.4,2074.8 802.9,2075.4 803.4,2075.4 C803.9,2075.4 804.4,2074.7 804.9,2074.7 C805.4,2074.7 805.9,2075.2 806.4,2075.3 C806.9,2075.4 807.4,2075.3 807.9,2075.4 C808.4,2075.6 808.9,2076.2 809.4,2076.4 C809.9,2076.5 810.4,2076.3 810.9,2076.3 C811.4,2076.2 811.9,2076.1 812.4,2076.2 C812.9,2076.3 813.4,2076.7 813.9,2076.9 C814.4,2077.2 814.9,2077.5 815.4,2077.6 C815.9,2077.7 816.4,2077.6 816.9,2077.5 C817.4,2077.4 817.9,2076.9 818.4,2076.9 C818.9,2076.9 819.4,2077.3 819.9,2077.5 C820.4,2077.7 820.9,2078.3 821.4,2078.2 C821.9,2078.2 822.4,2077.4 822.9,2077.3 C823.4,2077.2 823.9,2077.4 824.4,2077.5 C824.9,2077.6 825.4,2077.7 825.9,2077.8 C826.4,2078.0 826.9,2078.2 827.4,2078.2 C827.9,2078.2 828.4,2077.8 828.9,2077.8 C829.4,2077.7 829.9,2078.1 830.4,2078.1 C830.9,2078.2 831.4,2078.0 831.9,2078.0 C832.4,2078.1 832.9,2078.3 833.4,2078.2 C833.9,2078.2 834.4,2077.9 834.9,2077.7 C835.4,2077.6 835.9,2077.5 836.4,2077.4 C836.9,2077.4 837.4,2077.3 837.9,2077.5 C838.4,2077.6 838.9,2078.1 839.4,2078.3 C839.9,2078.5 840.4,2078.6 840.9,2078.6 C841.4,2078.6 841.9,2078.6 842.4,2078.5 C842.9,2078.3 843.4,2077.9 843.9,2077.8 C844.4,2077.6 844.9,2077.7 845.4,2077.7 C845.9,2077.8 846.4,2078.2 846.9,2078.3 C847.4,2078.3 847.9,2078.2 848.4,2078.1 C848.9,2078.0 849.4,2077.8 849.9,2077.8 C850.4,2077.8 850.9,2078.2 851.4,2078.3 C851.9,2078.3 852.4,2078.2 852.9,2078.2 C853.4,2078.3 853.9,2078.4 854.4,2078.5 C854.9,2078.6 855.4,2078.7 855.9,2078.7 C856.4,2078.7 856.9,2078.6 857.4,2078.6 C857.9,2078.6 858.4,2078.6 858.9,2078.7 C859.4,2078.7 859.9,2078.8 860.4,2078.8 C860.9,2078.8 861.4,2078.7 861.9,2078.6 C862.4,2078.6 862.9,2078.5 863.4,2078.5 C863.9,2078.5 864.4,2078.5 864.9,2078.6 C865.4,2078.7 865.9,2079.2 866.4,2079.2 C866.9,2079.2 867.4,2078.7 867.9,2078.7 C868.4,2078.7 868.9,2079.0 869.4,2079.1 C869.9,2079.2 870.4,2079.4 870.9,2079.4 C871.4,2079.5 871.9,2079.7 872.4,2079.5 C872.9,2079.3 873.4,2078.2 873.9,2078.1 C874.4,2078.1 874.9,2078.8 875.4,2079.0 C875.9,2079.2 876.4,2079.3 876.9,2079.3 C877.4,2079.3 877.9,2078.9 878.4,2078.8 C878.9,2078.7 879.4,2078.8 879.9,2078.8 C880.4,2078.7 880.9,2078.5 881.4,2078.5 C881.9,2078.5 882.4,2078.7 882.9,2078.8 C883.4,2078.9 883.9,2079.1 884.4,2079.1 C884.9,2079.0 885.4,2078.4 885.9,2078.4 C886.4,2078.4 886.9,2079.0 887.4,2079.1 C887.9,2079.2 888.4,2078.8 888.9,2078.8 C889.4,2078.8 889.9,2079.1 890.4,2079.1 C890.9,2079.1 891.4,2078.8 891.9,2078.8 C892.4,2078.8 892.9,2079.1 893.4,2079.2 C893.9,2079.3 894.4,2079.3 894.9,2079.2 C895.4,2079.2 895.9,2079.0 896.4,2079.0 C896.9,2078.9 897.4,2078.9 897.9,2079.0 C898.4,2079.1 898.9,2079.5 899.4,2079.6 C899.9,2079.7 900.4,2079.6 900.9,2079.5 C901.4,2079.4 901.9,2079.0 902.4,2079.0 C902.9,2079.0 903.4,2079.5 903.9,2079.4 C904.4,2079.4 904.9,2079.0 905.4,2078.9 C905.9,2078.9 906.4,2079.2 906.9,2079.1 C907.4,2079.1 907.9,2078.3 908.4,2078.3 C908.9,2078.3 909.4,2079.0 909.9,2079.2 C910.4,2079.4 910.9,2079.6 911.4,2079.6 C911.9,2079.6 912.4,2079.2 912.9,2079.2 C913.4,2079.2 913.9,2079.6 914.4,2079.6 C914.9,2079.6 915.4,2079.2 915.9,2079.2 C916.4,2079.2 916.9,2079.5 917.4,2079.6 C917.9,2079.6 918.4,2079.5 918.9,2079.4 C919.4,2079.4 919.9,2079.0 920.4,2079.2 C920.9,2079.3 921.4,2080.2 921.9,2080.2 C922.4,2080.3 922.9,2079.4 923.4,2079.2 C923.9,2079.0 924.4,2079.0 924.9,2079.1 C925.4,2079.1 925.9,2079.5 926.4,2079.6 C926.9,2079.7 927.4,2079.7 927.9,2079.7 C928.4,2079.8 928.9,2079.7 929.4,2079.7 C929.9,2079.7 930.4,2079.6 930.9,2079.6 C931.4,2079.6 931.9,2079.7 932.4,2079.8 C932.9,2079.9 933.4,2080.0 933.9,2080.0 C934.4,2080.0 934.9,2080.0 935.4,2079.9 C935.9,2079.8 936.4,2079.1 936.9,2079.2 C937.4,2079.3 937.9,2080.2 938.4,2080.3 C938.9,2080.4 939.4,2079.9 939.9,2079.7 C940.4,2079.5 940.9,2079.0 941.4,2079.0 C941.9,2079.1 942.4,2079.9 942.9,2080.1 C943.4,2080.2 943.9,2079.8 944.4,2079.7 C944.9,2079.7 945.4,2079.8 945.9,2079.9 C946.4,2080.0 946.9,2080.6 947.4,2080.5 C947.9,2080.5 948.4,2079.8 948.9,2079.6 C949.4,2079.5 949.9,2079.7 950.4,2079.6 C950.9,2079.6 951.4,2079.5 951.9,2079.5 C952.4,2079.6 952.9,2079.9 953.4,2080.0 C953.9,2080.1 954.4,2080.1 954.9,2080.1 C955.4,2080.2 955.9,2080.1 956.4,2080.1 C956.9,2080.0 957.4,2080.1 957.9,2080.0 C958.4,2079.9 958.9,2079.2 959.4,2079.2 C959.9,2079.2 960.4,2079.9 960.9,2080.1 C961.4,2080.3 961.9,2080.4 962.4,2080.4 C962.9,2080.3 963.4,2080.0 963.9,2079.9 C964.4,2079.8 964.9,2080.0 965.4,2080.0 C965.9,2080.0 966.4,2079.8 966.9,2079.9 C967.4,2080.0 967.9,2080.5 968.4,2080.5 C968.9,2080.5 969.4,2079.8 969.9,2079.9 C970.4,2080.1 970.9,2081.1 971.4,2081.2 C971.9,2081.4 972.4,2080.7 972.9,2080.6 C973.4,2080.5 973.9,2080.6 974.4,2080.6 C974.9,2080.5 975.4,2080.4 975.9,2080.5 C976.4,2080.6 976.9,2081.0 977.4,2081.2 C977.9,2081.3 978.4,2081.4 978.9,2081.4 C979.4,2081.4 979.9,2081.0 980.4,2081.0 C980.9,2081.0 981.4,2081.3 981.9,2081.3 C982.4,2081.4 982.9,2081.4 983.4,2081.5 C983.9,2081.6 984.4,2081.8 984.9,2081.8 C985.4,2081.9 985.9,2081.8 986.4,2081.8 C986.9,2081.9 987.4,2082.2 987.9,2082.1 C988.4,2082.0 988.9,2081.2 989.4,2081.3 C989.9,2081.4 990.4,2082.7 990.9,2082.8 C991.4,2082.9 991.9,2082.0 992.4,2081.8 C992.9,2081.6 993.4,2081.7 993.9,2081.7 C994.4,2081.7 994.9,2081.7 995.4,2081.9 C995.9,2082.0 996.4,2082.3 996.9,2082.4 C997.4,2082.6 997.9,2082.5 998.4,2082.7 C998.9,2082.8 999.4,2083.3 999.9,2083.3 C1000.4,2083.4 1000.9,2083.2 1001.4,2083.1 C1001.9,2082.9 1002.4,2082.6 1002.9,2082.5 C1003.4,2082.5 1003.9,2082.8 1004.4,2082.8 C1004.9,2082.9 1005.4,2082.9 1005.9,2082.9 C1006.4,2083.0 1006.9,2083.0 1007.4,2083.0 C1007.9,2083.1 1008.4,2083.3 1008.9,2083.3 C1009.4,2083.4 1009.9,2083.2 1010.4,2083.3 C1010.9,2083.4 1011.4,2084.0 1011.9,2084.1 C1012.4,2084.2 1012.9,2083.9 1013.4,2083.9 C1013.9,2084.0 1014.4,2084.2 1014.9,2084.2 C1015.4,2084.2 1015.9,2084.1 1016.4,2084.1 C1016.9,2084.0 1017.4,2083.8 1017.9,2083.9 C1018.4,2083.9 1018.9,2084.5 1019.4,2084.6 C1019.9,2084.7 1020.4,2084.3 1020.9,2084.4 C1021.4,2084.6 1021.9,2085.3 1022.4,2085.4 C1022.9,2085.6 1023.4,2085.4 1023.9,2085.3 C1024.4,2085.2 1024.9,2084.7 1025.4,2084.6 C1025.9,2084.5 1026.4,2084.7 1026.9,2084.8 C1027.4,2084.9 1027.9,2085.0 1028.4,2085.1 C1028.9,2085.2 1029.4,2085.2 1029.9,2085.4 C1030.4,2085.5 1030.9,2086.0 1031.4,2086.0 C1031.9,2086.1 1032.4,2085.7 1032.9,2085.7 C1033.4,2085.7 1033.9,2086.0 1034.4,2086.1 C1034.9,2086.1 1035.4,2085.9 1035.9,2085.9 C1036.4,2085.9 1036.9,2086.0 1037.4,2086.1 C1037.9,2086.3 1038.4,2086.7 1038.9,2086.8 C1039.4,2086.8 1039.9,2086.4 1040.4,2086.5 C1040.9,2086.6 1041.4,2087.3 1041.9,2087.3 C1042.4,2087.4 1042.9,2086.8 1043.4,2086.8 C1043.9,2086.7 1044.4,2086.9 1044.9,2087.0 C1045.4,2087.0 1045.9,2087.0 1046.4,2087.0 C1046.9,2087.1 1047.4,2087.1 1047.9,2087.2 C1048.4,2087.3 1048.9,2087.7 1049.4,2087.6 C1049.9,2087.6 1050.4,2086.9 1050.9,2086.8 C1051.4,2086.6 1051.9,2086.9 1052.4,2086.9 C1052.9,2086.9 1053.4,2086.6 1053.9,2086.8 C1054.4,2086.9 1054.9,2087.7 1055.4,2087.8 C1055.9,2087.9 1056.4,2087.4 1056.9,2087.3 C1057.4,2087.3 1057.9,2087.4 1058.4,2087.4 C1058.9,2087.4 1059.4,2087.5 1059.9,2087.4 C1060.4,2087.3 1060.9,2086.6 1061.4,2086.6 C1061.9,2086.7 1062.4,2087.5 1062.9,2087.6 C1063.4,2087.7 1063.9,2087.4 1064.4,2087.4 C1064.9,2087.4 1065.4,2087.5 1065.9,2087.5 C1066.4,2087.5 1066.9,2087.5 1067.4,2087.5 C1067.9,2087.5 1068.4,2087.5 1068.9,2087.5 C1069.4,2087.5 1069.9,2087.5 1070.4,2087.5 C1070.9,2087.5 1071.4,2087.4 1071.9,2087.4 C1072.4,2087.4 1072.9,2087.5 1073.4,2087.5 C1073.9,2087.6 1074.4,2088.0 1074.9,2087.9 C1075.4,2087.8 1075.9,2086.9 1076.4,2087.0 C1076.9,2087.0 1077.4,2087.9 1077.9,2088.0 C1078.4,2088.2 1078.9,2088.1 1079.4,2088.0 C1079.9,2087.9 1080.4,2087.5 1080.9,2087.5 C1081.4,2087.5 1081.9,2088.0 1082.4,2088.1 C1082.9,2088.2 1083.4,2088.2 1083.9,2088.1 C1084.4,2088.1 1084.9,2087.8 1085.4,2087.9 C1085.9,2088.0 1086.4,2088.7 1086.9,2088.8 C1087.4,2088.8 1087.9,2088.4 1088.4,2088.3 C1088.9,2088.3 1089.4,2088.4 1089.9,2088.3 C1090.4,2088.2 1090.9,2087.8 1091.4,2088.0 C1091.9,2088.1 1092.4,2089.2 1092.9,2089.3 C1093.4,2089.4 1093.9,2088.8 1094.4,2088.7 C1094.9,2088.6 1095.4,2088.8 1095.9,2088.8 C1096.4,2088.8 1096.9,2088.6 1097.4,2088.7 C1097.9,2088.8 1098.4,2089.5 1098.9,2089.6 C1099.4,2089.6 1099.9,2088.9 1100.4,2088.9 C1100.9,2088.9 1101.4,2089.5 1101.9,2089.6 C1102.4,2089.7 1102.9,2089.5 1103.4,2089.5 C1103.9,2089.5 1104.4,2089.5 1104.9,2089.5 C1105.4,2089.5 1105.9,2089.4 1106.4,2089.5 C1106.9,2089.5 1107.4,2089.8 1107.9,2089.7 C1108.4,2089.7 1108.9,2089.5 1109.4,2089.4 C1109.9,2089.2 1110.4,2088.9 1110.9,2088.8 C1111.4,2088.7 1111.9,2088.4 1112.4,2088.6 C1112.9,2088.9 1113.4,2090.0 1113.9,2090.1 C1114.4,2090.1 1114.9,2089.0 1115.4,2089.0 C1115.9,2089.1 1116.4,2090.0 1116.9,2090.3 C1117.4,2090.6 1117.9,2091.2 1118.4,2091.0 C1118.9,2090.8 1119.4,2089.4 1119.9,2089.3 C1120.4,2089.2 1120.9,2090.2 1121.4,2090.4 C1121.9,2090.6 1122.4,2090.5 1122.9,2090.5 C1123.4,2090.5 1123.9,2090.3 1124.4,2090.2 C1124.9,2090.1 1125.4,2089.9 1125.9,2090.0 C1126.4,2090.0 1126.9,2090.5 1127.4,2090.8 C1127.9,2091.0 1128.4,2091.5 1128.9,2091.6 C1129.4,2091.6 1129.9,2091.1 1130.4,2091.1 C1130.9,2091.0 1131.4,2091.2 1131.9,2091.3 C1132.4,2091.4 1132.9,2091.4 1133.4,2091.5 C1133.9,2091.5 1134.4,2091.6 1134.9,2091.6 C1135.4,2091.7 1135.9,2091.7 1136.4,2091.9 C1136.9,2092.1 1137.4,2092.8 1137.9,2092.7 C1138.4,2092.7 1138.9,2092.0 1139.4,2091.8 C1139.9,2091.6 1140.4,2091.5 1140.9,2091.6 C1141.4,2091.8 1141.9,2092.6 1142.4,2092.7 C1142.9,2092.9 1143.4,2092.4 1143.9,2092.4 C1144.4,2092.4 1144.9,2092.6 1145.4,2092.6 C1145.9,2092.6 1146.4,2092.4 1146.9,2092.4 C1147.4,2092.5 1147.9,2092.9 1148.4,2093.0 C1148.9,2093.1 1149.4,2093.0 1149.9,2093.1 C1150.4,2093.2 1150.9,2093.5 1151.4,2093.6 C1151.9,2093.6 1152.4,2093.5 1152.9,2093.4 C1153.4,2093.4 1153.9,2093.1 1154.4,2093.2 C1154.9,2093.3 1155.4,2093.9 1155.9,2094.1 C1156.4,2094.3 1156.9,2094.2 1157.4,2094.4 C1157.9,2094.6 1158.4,2094.8 1158.9,2095.2 C1159.4,2095.7 1159.9,2096.6 1160.4,2097.3 C1160.9,2097.9 1161.4,2098.7 1161.9,2099.2 C1162.4,2099.7 1162.9,2100.0 1163.4,2100.4 C1163.9,2100.9 1164.4,2101.4 1164.9,2101.9 C1165.4,2102.5 1165.9,2103.3 1166.4,2103.9 C1166.9,2104.4 1167.4,2104.6 1167.9,2105.0 C1168.4,2105.5 1168.9,2106.3 1169.4,2106.6 C1169.9,2107.0 1170.4,2107.1 1170.9,2107.0 C1171.4,2107.0 1171.9,2106.5 1172.4,2106.2 C1172.9,2105.9 1173.4,2105.6 1173.9,2105.4 C1174.4,2105.3 1174.9,2105.3 1175.4,2105.1 C1175.9,2105.0 1176.4,2104.7 1176.9,2104.5 C1177.4,2104.4 1177.9,2104.3 1178.4,2104.3 C1178.9,2104.2 1179.4,2104.1 1179.9,2104.0 C1180.4,2103.9 1180.9,2103.6 1181.4,2103.4 C1181.9,2103.3 1182.4,2103.2 1182.9,2103.1 C1183.4,2102.9 1183.9,2102.6 1184.4,2102.5 C1184.9,2102.4 1185.4,2102.7 1185.9,2102.6 C1186.4,2102.6 1186.9,2101.9 1187.4,2102.1 C1187.9,2102.4 1188.4,2103.3 1188.9,2103.9 C1189.4,2104.5 1189.9,2105.1 1190.4,2105.7 C1190.9,2106.3 1191.4,2106.8 1191.9,2107.4 C1192.4,2107.9 1192.9,2108.3 1193.4,2108.9 C1193.9,2109.5 1194.4,2110.1 1194.9,2110.8 C1195.4,2111.5 1195.9,2112.4 1196.4,2113.3 C1196.9,2114.2 1197.4,2115.3 1197.9,2116.1 C1198.4,2116.9 1198.9,2117.5 1199.4,2118.1 C1199.9,2118.8 1200.4,2119.1 1200.9,2120.1 C1201.4,2121.1 1201.9,2123.3 1202.4,2124.1 C1202.9,2124.9 1203.4,2124.7 1203.9,2125.2 C1204.4,2125.6 1204.9,2126.3 1205.4,2126.8 C1205.9,2127.3 1206.4,2127.7 1206.9,2128.1 C1207.4,2128.5 1207.9,2129.7 1208.4,2129.3 C1208.9,2129.0 1209.4,2126.9 1209.9,2125.9 C1210.4,2124.8 1210.9,2124.0 1211.4,2123.0 C1211.9,2122.0 1212.4,2120.8 1212.9,2119.9 C1213.4,2119.0 1213.9,2118.4 1214.4,2117.6 C1214.9,2116.7 1215.4,2115.6 1215.9,2115.0 C1216.4,2114.3 1216.9,2114.1 1217.4,2113.5 C1217.9,2112.9 1218.4,2112.0 1218.9,2111.4 C1219.4,2110.8 1219.9,2110.1 1220.4,2109.7 C1220.9,2109.3 1221.4,2109.0 1221.9,2109.1 C1222.4,2109.3 1222.9,2110.3 1223.4,2110.8 C1223.9,2111.3 1224.4,2111.7 1224.9,2112.2 C1225.4,2112.6 1225.9,2113.1 1226.4,2113.5 C1226.9,2113.9 1227.4,2113.9 1227.9,2114.6 C1228.4,2115.3 1228.9,2116.7 1229.4,2117.8 C1229.9,2118.9 1230.4,2120.1 1230.9,2121.2 C1231.4,2122.4 1231.9,2123.5 1232.4,2124.6 C1232.9,2125.7 1233.4,2127.1 1233.9,2128.0 C1234.4,2129.0 1234.9,2129.6 1235.4,2130.3 C1235.9,2131.1 1236.4,2131.9 1236.9,2132.7 C1237.4,2133.4 1237.9,2134.1 1238.4,2134.9 C1238.9,2135.6 1239.4,2136.3 1239.9,2137.0 C1240.4,2137.7 1240.9,2139.2 1241.4,2138.8 C1241.9,2138.4 1242.4,2136.1 1242.9,2134.5 C1243.4,2132.9 1243.9,2130.8 1244.4,2129.0 C1244.9,2127.3 1245.4,2125.8 1245.9,2123.9 C1246.4,2121.9 1246.9,2120.1 1247.4,2117.3 C1247.9,2114.4 1248.4,2109.9 1248.9,2106.7 C1249.4,2103.6 1249.9,2100.8 1250.4,2098.6 C1250.9,2096.4 1251.4,2094.7 1251.9,2093.5 C1252.4,2092.2 1252.9,2091.5 1253.4,2091.0 C1253.9,2090.4 1254.4,2090.6 1254.9,2090.3 C1255.4,2090.0 1255.9,2089.3 1256.4,2089.1 C1256.9,2088.9 1257.4,2089.0 1257.9,2089.0 C1258.4,2089.0 1258.9,2089.1 1259.4,2089.1 C1259.9,2089.0 1260.4,2088.9 1260.9,2089.0 C1261.4,2089.1 1261.9,2089.6 1262.4,2089.6 C1262.9,2089.6 1263.4,2089.1 1263.9,2089.1 C1264.4,2089.1 1264.9,2089.3 1265.4,2089.3 C1265.9,2089.4 1266.4,2089.1 1266.9,2089.3 C1267.4,2089.4 1267.9,2090.1 1268.4,2090.0 C1268.9,2090.0 1269.4,2088.9 1269.9,2088.8 C1270.4,2088.7 1270.9,2089.5 1271.4,2089.5 C1271.9,2089.6 1272.4,2089.1 1272.9,2089.0 C1273.4,2089.0 1273.9,2089.3 1274.4,2089.3 C1274.9,2089.3 1275.4,2089.2 1275.9,2089.3 C1276.4,2089.4 1276.9,2089.9 1277.4,2089.9 C1277.9,2089.9 1278.4,2089.4 1278.9,2089.3 C1279.4,2089.3 1279.9,2089.4 1280.4,2089.4 C1280.9,2089.5 1281.4,2089.7 1281.9,2089.7 C1282.4,2089.7 1282.9,2089.6 1283.4,2089.6 C1283.9,2089.5 1284.4,2089.4 1284.9,2089.6 C1285.4,2089.8 1285.9,2090.5 1286.4,2090.6 C1286.9,2090.6 1287.4,2089.9 1287.9,2089.8 C1288.4,2089.7 1288.9,2089.7 1289.4,2089.8 C1289.9,2090.0 1290.4,2090.6 1290.9,2090.7 C1291.4,2090.7 1291.9,2090.3 1292.4,2090.3 C1292.9,2090.3 1293.4,2090.8 1293.9,2090.7 C1294.4,2090.6 1294.9,2089.8 1295.4,2089.8 C1295.9,2089.7 1296.4,2090.2 1296.9,2090.3 C1297.4,2090.4 1297.9,2090.6 1298.4,2090.6 C1298.9,2090.7 1299.4,2090.6 1299.9,2090.6 C1300.4,2090.6 1300.9,2090.7 1301.4,2090.8 C1301.9,2090.8 1302.4,2091.0 1302.9,2091.1 C1303.4,2091.1 1303.9,2090.9 1304.4,2090.9 C1304.9,2090.9 1305.4,2091.1 1305.9,2091.1 C1306.4,2091.2 1306.9,2091.2 1307.4,2091.1 C1307.9,2091.0 1308.4,2090.6 1308.9,2090.6 C1309.4,2090.6 1309.9,2090.9 1310.4,2091.0 C1310.9,2091.1 1311.4,2091.5 1311.9,2091.4 C1312.4,2091.4 1312.9,2090.7 1313.4,2090.7 C1313.9,2090.7 1314.4,2091.2 1314.9,2091.3 C1315.4,2091.4 1315.9,2091.3 1316.4,2091.4 C1316.9,2091.5 1317.4,2091.8 1317.9,2091.7 C1318.4,2091.6 1318.9,2090.6 1319.4,2090.7 C1319.9,2090.8 1320.4,2092.1 1320.9,2092.2 C1321.4,2092.2 1321.9,2091.0 1322.4,2090.9 C1322.9,2090.7 1323.4,2091.2 1323.9,2091.5 C1324.4,2091.7 1324.9,2092.5 1325.4,2092.4 C1325.9,2092.3 1326.4,2091.1 1326.9,2091.1 C1327.4,2091.1 1327.9,2092.3 1328.4,2092.4 C1328.9,2092.5 1329.4,2091.8 1329.9,2091.8 C1330.4,2091.8 1330.9,2092.3 1331.4,2092.4 C1331.9,2092.5 1332.4,2092.4 1332.9,2092.3 C1333.4,2092.2 1333.9,2092.0 1334.4,2091.9 C1334.9,2091.8 1335.4,2091.7 1335.9,2091.7 C1336.4,2091.7 1336.9,2091.9 1337.4,2091.9 C1337.9,2091.9 1338.4,2091.7 1338.9,2091.6 C1339.4,2091.6 1339.9,2091.5 1340.4,2091.6 C1340.9,2091.8 1341.4,2092.3 1341.9,2092.3 C1342.4,2092.3 1342.9,2091.7 1343.4,2091.7 C1343.9,2091.8 1344.4,2092.3 1344.9,2092.4 C1345.4,2092.5 1345.9,2092.3 1346.4,2092.3 C1346.9,2092.3 1347.4,2092.4 1347.9,2092.4 C1348.4,2092.3 1348.9,2092.2 1349.4,2092.1 C1349.9,2092.1 1350.4,2092.0 1350.9,2092.1 C1351.4,2092.2 1351.9,2092.8 1352.4,2092.9 C1352.9,2092.9 1353.4,2092.4 1353.9,2092.3 C1354.4,2092.3 1354.9,2092.5 1355.4,2092.5 C1355.9,2092.6 1356.4,2092.6 1356.9,2092.7 C1357.4,2092.8 1357.9,2092.9 1358.4,2093.1 C1358.9,2093.2 1359.4,2093.5 1359.9,2093.6 C1360.4,2093.7 1360.9,2093.7 1361.4,2093.6 C1361.9,2093.6 1362.4,2093.3 1362.9,2093.3 C1363.4,2093.2 1363.9,2093.3 1364.4,2093.3 C1364.9,2093.3 1365.4,2093.4 1365.9,2093.4 C1366.4,2093.3 1366.9,2093.2 1367.4,2093.1 C1367.9,2093.1 1368.4,2093.3 1368.9,2093.2 C1369.4,2093.1 1369.9,2092.7 1370.4,2092.7 C1370.9,2092.8 1371.4,2093.5 1371.9,2093.6 C1372.4,2093.7 1372.9,2093.3 1373.4,2093.3 C1373.9,2093.3 1374.4,2093.5 1374.9,2093.6 C1375.4,2093.8 1375.9,2094.3 1376.4,2094.3 C1376.9,2094.4 1377.4,2094.0 1377.9,2093.9 C1378.4,2093.9 1378.9,2094.1 1379.4,2094.1 C1379.9,2094.1 1380.4,2094.1 1380.9,2094.0 C1381.4,2094.0 1381.9,2093.7 1382.4,2093.6 C1382.9,2093.5 1383.4,2093.7 1383.9,2093.6 C1384.4,2093.6 1384.9,2093.4 1385.4,2093.4 C1385.9,2093.4 1386.4,2093.7 1386.9,2093.8 C1387.4,2093.9 1387.9,2094.0 1388.4,2094.1 C1388.9,2094.2 1389.4,2094.3 1389.9,2094.4 C1390.4,2094.4 1390.9,2094.4 1391.4,2094.4 C1391.9,2094.3 1392.4,2094.2 1392.9,2094.1 C1393.4,2094.1 1393.9,2093.9 1394.4,2093.9 C1394.9,2094.0 1395.4,2094.3 1395.9,2094.4 C1396.4,2094.5 1396.9,2094.7 1397.4,2094.6 C1397.9,2094.5 1398.4,2093.8 1398.9,2093.9 C1399.4,2093.9 1399.9,2094.6 1400.4,2094.6 C1400.9,2094.7 1401.4,2094.2 1401.9,2094.2 C1402.4,2094.2 1402.9,2094.5 1403.4,2094.6 C1403.9,2094.7 1404.4,2094.8 1404.9,2094.8 C1405.4,2094.8 1405.9,2094.6 1406.4,2094.6 C1406.9,2094.6 1407.4,2094.7 1407.9,2094.8 C1408.4,2094.9 1408.9,2095.1 1409.4,2095.0 C1409.9,2095.0 1410.4,2094.7 1410.9,2094.8 C1411.4,2094.8 1411.9,2095.3 1412.4,2095.4 C1412.9,2095.5 1413.4,2095.5 1413.9,2095.5 C1414.4,2095.5 1414.9,2095.6 1415.4,2095.5 C1415.9,2095.4 1416.4,2095.1 1416.9,2095.0 C1417.4,2095.0 1417.9,2095.3 1418.4,2095.4 C1418.9,2095.5 1419.4,2095.4 1419.9,2095.4 C1420.4,2095.5 1420.9,2095.6 1421.4,2095.7 C1421.9,2095.7 1422.4,2096.0 1422.9,2096.0 C1423.4,2095.9 1423.9,2095.6 1424.4,2095.6 C1424.9,2095.6 1425.4,2095.7 1425.9,2095.8 C1426.4,2095.9 1426.9,2096.2 1427.4,2096.2 C1427.9,2096.2 1428.4,2095.8 1428.9,2095.9 C1429.4,2095.9 1429.9,2096.3 1430.4,2096.3 C1430.9,2096.3 1431.4,2096.2 1431.9,2096.1 C1432.4,2096.0 1432.9,2095.7 1433.4,2095.7 C1433.9,2095.7 1434.4,2096.1 1434.9,2096.3 C1435.4,2096.4 1435.9,2096.4 1436.4,2096.4 C1436.9,2096.4 1437.4,2096.1 1437.9,2096.3 C1438.4,2096.4 1438.9,2097.1 1439.4,2097.1 C1439.9,2097.2 1440.4,2096.6 1440.9,2096.4 C1441.4,2096.2 1441.9,2096.0 1442.4,2096.1 C1442.9,2096.1 1443.4,2096.5 1443.9,2096.6 C1444.4,2096.7 1444.9,2096.5 1445.4,2096.6 C1445.9,2096.6 1446.4,2096.7 1446.9,2096.9 C1447.4,2097.1 1447.9,2097.6 1448.4,2097.6 C1448.9,2097.6 1449.4,2096.9 1449.9,2096.9 C1450.4,2096.8 1450.9,2097.2 1451.4,2097.1 C1451.9,2097.1 1452.4,2096.7 1452.9,2096.6 C1453.4,2096.6 1453.9,2096.6 1454.4,2096.6 C1454.9,2096.6 1455.4,2096.7 1455.9,2096.7 C1456.4,2096.8 1456.9,2096.9 1457.4,2097.0 C1457.9,2097.0 1458.4,2096.9 1458.9,2096.9 C1459.4,2096.9 1459.9,2097.1 1460.4,2097.1 C1460.9,2097.1 1461.4,2097.0 1461.9,2096.9 C1462.4,2096.9 1462.9,2096.8 1463.4,2096.8 C1463.9,2096.8 1464.4,2096.8 1464.9,2097.0 C1465.4,2097.1 1465.9,2097.6 1466.4,2097.6 C1466.9,2097.6 1467.4,2096.9 1467.9,2096.9 C1468.4,2096.9 1468.9,2097.5 1469.4,2097.7 C1469.9,2097.8 1470.4,2098.1 1470.9,2098.0 C1471.4,2097.9 1471.9,2097.2 1472.4,2097.1 C1472.9,2097.1 1473.4,2097.7 1473.9,2097.8 C1474.4,2097.9 1474.9,2098.0 1475.4,2097.9 C1475.9,2097.7 1476.4,2096.7 1476.9,2096.7 C1477.4,2096.7 1477.9,2097.7 1478.4,2097.9 C1478.9,2098.2 1479.4,2098.0 1479.9,2097.9 C1480.4,2097.8 1480.9,2097.4 1481.4,2097.5 C1481.9,2097.5 1482.4,2098.4 1482.9,2098.4 C1483.4,2098.4 1483.9,2097.2 1484.4,2097.2 C1484.9,2097.2 1485.4,2098.2 1485.9,2098.3 C1486.4,2098.5 1486.9,2098.1 1487.4,2098.0 C1487.9,2097.9 1488.4,2097.6 1488.9,2097.6 C1489.4,2097.6 1489.9,2098.1 1490.4,2098.0 C1490.9,2098.0 1491.4,2097.4 1491.9,2097.4 C1492.4,2097.5 1492.9,2098.0 1493.4,2098.2 C1493.9,2098.3 1494.4,2098.1 1494.9,2098.1 C1495.4,2098.1 1495.9,2098.3 1496.4,2098.3 C1496.9,2098.4 1497.4,2098.5 1497.9,2098.3 C1498.4,2098.2 1498.9,2097.6 1499.4,2097.6 C1499.9,2097.5 1500.4,2098.0 1500.9,2098.0 C1501.4,2098.0 1501.9,2097.8 1502.4,2097.5 C1502.9,2097.3 1503.4,2096.6 1503.9,2096.7 C1504.4,2096.8 1504.9,2097.8 1505.4,2098.0 C1505.9,2098.3 1506.4,2098.1 1506.9,2098.1 C1507.4,2098.0 1507.9,2097.7 1508.4,2097.7 C1508.9,2097.7 1509.4,2098.2 1509.9,2098.2 C1510.4,2098.2 1510.9,2097.8 1511.4,2097.6 C1511.9,2097.4 1512.4,2097.0 1512.9,2096.9 C1513.4,2096.9 1513.9,2097.3 1514.4,2097.4 C1514.9,2097.4 1515.4,2097.4 1515.9,2097.4 C1516.4,2097.4 1516.9,2097.6 1517.4,2097.6 C1517.9,2097.5 1518.4,2097.4 1518.9,2097.3 C1519.4,2097.1 1519.9,2096.7 1520.4,2096.6 C1520.9,2096.6 1521.4,2096.8 1521.9,2096.9 C1522.4,2097.1 1522.9,2097.2 1523.4,2097.3 C1523.9,2097.4 1524.4,2097.7 1524.9,2097.7 C1525.4,2097.7 1525.9,2097.2 1526.4,2097.0 C1526.9,2096.9 1527.4,2096.8 1527.9,2096.8 C1528.4,2096.8 1528.9,2096.9 1529.4,2097.1 C1529.9,2097.2 1530.4,2097.4 1530.9,2097.5 C1531.4,2097.6 1531.9,2097.7 1532.4,2097.6 C1532.9,2097.5 1533.4,2096.8 1533.9,2096.8 C1534.4,2096.7 1534.9,2097.2 1535.4,2097.3 C1535.9,2097.5 1536.4,2097.5 1536.9,2097.5 C1537.4,2097.5 1537.9,2097.5 1538.4,2097.3 C1538.9,2097.2 1539.4,2096.6 1539.9,2096.6 C1540.4,2096.6 1540.9,2097.2 1541.4,2097.2 C1541.9,2097.2 1542.4,2096.8 1542.9,2096.7 C1543.4,2096.7 1543.9,2096.6 1544.4,2096.7 C1544.9,2096.8 1545.4,2097.5 1545.9,2097.5 C1546.4,2097.5 1546.9,2096.9 1547.4,2096.8 C1547.9,2096.7 1548.4,2096.9 1548.9,2096.9 C1549.4,2097.0 1549.9,2097.1 1550.4,2097.1 C1550.9,2097.2 1551.4,2097.3 1551.9,2097.2 C1552.4,2097.2 1552.9,2096.9 1553.4,2096.7 C1553.9,2096.6 1554.4,2096.4 1554.9,2096.4 C1555.4,2096.3 1555.9,2096.5 1556.4,2096.5 C1556.9,2096.5 1557.4,2096.3 1557.9,2096.3 C1558.4,2096.2 1558.9,2096.4 1559.4,2096.4 C1559.9,2096.4 1560.4,2096.5 1560.9,2096.4 C1561.4,2096.3 1561.9,2095.9 1562.4,2095.8 C1562.9,2095.8 1563.4,2096.1 1563.9,2096.1 C1564.4,2096.0 1564.9,2095.8 1565.4,2095.8 C1565.9,2095.8 1566.4,2096.1 1566.9,2096.2 C1567.4,2096.3 1567.9,2096.5 1568.4,2096.5 C1568.9,2096.5 1569.4,2096.5 1569.9,2096.4 C1570.4,2096.4 1570.9,2096.3 1571.4,2096.2 C1571.9,2096.1 1572.4,2095.8 1572.9,2095.7 C1573.4,2095.7 1573.9,2096.0 1574.4,2096.0 C1574.9,2096.0 1575.4,2095.5 1575.9,2095.5 C1576.4,2095.5 1576.9,2096.2 1577.4,2096.1 C1577.9,2096.1 1578.4,2095.4 1578.9,2095.4 C1579.4,2095.3 1579.9,2095.5 1580.4,2095.6 C1580.9,2095.8 1581.4,2096.4 1581.9,2096.4 C1582.4,2096.5 1582.9,2096.1 1583.4,2095.9 C1583.9,2095.8 1584.4,2095.4 1584.9,2095.4 C1585.4,2095.3 1585.9,2095.6 1586.4,2095.6 C1586.9,2095.6 1587.4,2095.3 1587.9,2095.3 C1588.4,2095.2 1588.9,2095.3 1589.4,2095.3 C1589.9,2095.3 1590.4,2095.4 1590.9,2095.4 C1591.4,2095.4 1591.9,2095.2 1592.4,2095.2 C1592.9,2095.2 1593.4,2095.4 1593.9,2095.5 C1594.4,2095.6 1594.9,2095.8 1595.4,2095.7 C1595.9,2095.5 1596.4,2095.0 1596.9,2094.8 C1597.4,2094.7 1597.9,2094.7 1598.4,2094.7 C1598.9,2094.6 1599.4,2094.6 1599.9,2094.6 C1600.4,2094.5 1600.9,2094.5 1601.4,2094.5 C1601.9,2094.5 1602.4,2094.7 1602.9,2094.6 C1603.4,2094.6 1603.9,2094.3 1604.4,2094.2 C1604.9,2094.1 1605.4,2094.0 1605.9,2094.0 C1606.4,2093.9 1606.9,2093.8 1607.4,2093.9 C1607.9,2094.0 1608.4,2094.3 1608.9,2094.3 C1609.4,2094.4 1609.9,2094.2 1610.4,2094.2 C1610.9,2094.2 1611.4,2094.2 1611.9,2094.1 C1612.4,2094.0 1612.9,2093.8 1613.4,2093.6 C1613.9,2093.5 1614.4,2093.1 1614.9,2093.1 C1615.4,2093.1 1615.9,2093.6 1616.4,2093.8 C1616.9,2093.9 1617.4,2094.1 1617.9,2093.9 C1618.4,2093.8 1618.9,2093.0 1619.4,2092.8 C1619.9,2092.6 1620.4,2092.6 1620.9,2092.7 C1621.4,2092.7 1621.9,2093.1 1622.4,2093.1 C1622.9,2093.1 1623.4,2092.9 1623.9,2092.8 C1624.4,2092.7 1624.9,2092.5 1625.4,2092.6 C1625.9,2092.6 1626.4,2093.1 1626.9,2093.0 C1627.4,2092.9 1627.9,2092.3 1628.4,2092.1 C1628.9,2091.9 1629.4,2091.8 1629.9,2091.7 C1630.4,2091.7 1630.9,2091.7 1631.4,2091.8 C1631.9,2091.8 1632.4,2091.9 1632.9,2091.9 C1633.4,2091.9 1633.9,2091.7 1634.4,2091.7 C1634.9,2091.8 1635.4,2092.0 1635.9,2092.0 C1636.4,2092.0 1636.9,2091.9 1637.4,2091.7 C1637.9,2091.5 1638.4,2091.1 1638.9,2091.1 C1639.4,2091.0 1639.9,2091.5 1640.4,2091.5 C1640.9,2091.4 1641.4,2091.0 1641.9,2091.0 C1642.4,2091.0 1642.9,2091.5 1643.4,2091.5 C1643.9,2091.5 1644.4,2091.4 1644.9,2091.2 C1645.4,2091.1 1645.9,2090.6 1646.4,2090.5 C1646.9,2090.5 1647.4,2090.9 1647.9,2090.8 C1648.4,2090.7 1648.9,2090.1 1649.4,2090.0 C1649.9,2090.0 1650.4,2090.5 1650.9,2090.5 C1651.4,2090.6 1651.9,2090.3 1652.4,2090.3 C1652.9,2090.3 1653.4,2090.4 1653.9,2090.3 C1654.4,2090.2 1654.9,2089.7 1655.4,2089.6 C1655.9,2089.5 1656.4,2089.6 1656.9,2089.6 C1657.4,2089.6 1657.9,2089.6 1658.4,2089.6 C1658.9,2089.6 1659.4,2089.6 1659.9,2089.6 C1660.4,2089.6 1660.9,2089.9 1661.4,2089.8 C1661.9,2089.7 1662.4,2089.4 1662.9,2089.2 C1663.4,2089.0 1663.9,2088.7 1664.4,2088.6 C1664.9,2088.6 1665.4,2088.9 1665.9,2089.0 C1666.4,2089.2 1666.9,2089.3 1667.4,2089.4 C1667.9,2089.4 1668.4,2089.4 1668.9,2089.3 C1669.4,2089.1 1669.9,2088.5 1670.4,2088.5 C1670.9,2088.4 1671.4,2089.1 1671.9,2089.2 C1672.4,2089.3 1672.9,2089.0 1673.4,2089.0 C1673.9,2089.0 1674.4,2089.2 1674.9,2089.3 C1675.4,2089.3 1675.9,2089.1 1676.4,2089.1 C1676.9,2089.1 1677.4,2089.6 1677.9,2089.5 C1678.4,2089.5 1678.9,2088.8 1679.4,2088.9 C1679.9,2088.9 1680.4,2089.8 1680.9,2089.9 C1681.4,2090.0 1681.9,2089.7 1682.4,2089.6 C1682.9,2089.4 1683.4,2088.9 1683.9,2088.8 C1684.4,2088.7 1684.9,2088.6 1685.4,2088.7 C1685.9,2088.8 1686.4,2089.6 1686.9,2089.6 C1687.4,2089.6 1687.9,2088.9 1688.4,2088.8 C1688.9,2088.7 1689.4,2088.9 1689.9,2089.1 C1690.4,2089.2 1690.9,2089.5 1691.4,2089.5 C1691.9,2089.6 1692.4,2089.4 1692.9,2089.4 C1693.4,2089.3 1693.9,2089.6 1694.4,2089.5 C1694.9,2089.4 1695.4,2088.8 1695.9,2088.7 C1696.4,2088.7 1696.9,2089.1 1697.4,2089.2 C1697.9,2089.4 1698.4,2089.5 1698.9,2089.7 C1699.4,2089.9 1699.9,2090.3 1700.4,2090.3 C1700.9,2090.3 1701.4,2089.9 1701.9,2089.7 C1702.4,2089.6 1702.9,2089.7 1703.4,2089.6 C1703.9,2089.6 1704.4,2089.6 1704.9,2089.7 C1705.4,2089.8 1705.9,2090.0 1706.4,2090.1 C1706.9,2090.1 1707.4,2090.1 1707.9,2090.0 C1708.4,2089.9 1708.9,2089.6 1709.4,2089.5 C1709.9,2089.3 1710.4,2089.1 1710.9,2089.1 C1711.4,2089.2 1711.9,2089.6 1712.4,2089.7 C1712.9,2089.9 1713.4,2089.6 1713.9,2089.7 C1714.4,2089.9 1714.9,2090.6 1715.4,2090.5 C1715.9,2090.5 1716.4,2089.7 1716.9,2089.6 C1717.4,2089.6 1717.9,2090.3 1718.4,2090.2 C1718.9,2090.2 1719.4,2089.3 1719.9,2089.3 C1720.4,2089.3 1720.9,2090.3 1721.4,2090.3 C1721.9,2090.4 1722.4,2089.7 1722.9,2089.6 C1723.4,2089.6 1723.9,2090.1 1724.4,2090.1 C1724.9,2090.2 1725.4,2090.1 1725.9,2090.1 C1726.4,2090.1 1726.9,2090.2 1727.4,2090.2 C1727.9,2090.3 1728.4,2090.3 1728.9,2090.3 C1729.4,2090.2 1729.9,2089.8 1730.4,2089.9 C1730.9,2089.9 1731.4,2090.5 1731.9,2090.5 C1732.4,2090.6 1732.9,2090.1 1733.4,2090.1 C1733.9,2090.0 1734.4,2090.4 1734.9,2090.4 C1735.4,2090.4 1735.9,2090.1 1736.4,2090.2 C1736.9,2090.2 1737.4,2090.4 1737.9,2090.5 C1738.4,2090.6 1738.9,2090.5 1739.4,2090.5 C1739.9,2090.5 1740.4,2090.5 1740.9,2090.5 C1741.4,2090.5 1741.9,2090.3 1742.4,2090.4 C1742.9,2090.5 1743.4,2091.1 1743.9,2091.1 C1744.4,2091.2 1744.9,2090.7 1745.4,2090.7 C1745.9,2090.6 1746.4,2090.9 1746.9,2090.8 C1747.4,2090.7 1747.9,2090.0 1748.4,2090.0 C1748.9,2090.1 1749.4,2091.0 1749.9,2091.1 C1750.4,2091.1 1750.9,2090.4 1751.4,2090.3 C1751.9,2090.3 1752.4,2090.9 1752.9,2090.9 C1753.4,2090.8 1753.9,2090.1 1754.4,2090.3 C1754.9,2090.4 1755.4,2091.7 1755.9,2091.7 C1756.4,2091.7 1756.9,2090.6 1757.4,2090.4 C1757.9,2090.3 1758.4,2091.0 1758.9,2091.0 C1759.4,2091.1 1759.9,2090.7 1760.4,2090.7 C1760.9,2090.7 1761.4,2090.8 1761.9,2090.7 C1762.4,2090.7 1762.9,2090.4 1763.4,2090.6 C1763.9,2090.8 1764.4,2091.5 1764.9,2091.8 C1765.4,2092.0 1765.9,2092.2 1766.4,2092.1 C1766.9,2092.0 1767.4,2091.4 1767.9,2091.3 C1768.4,2091.2 1768.9,2091.7 1769.4,2091.7 C1769.9,2091.7 1770.4,2091.4 1770.9,2091.3 C1771.4,2091.2 1771.9,2091.0 1772.4,2091.1 C1772.9,2091.3 1773.4,2092.1 1773.9,2092.2 C1774.4,2092.3 1774.9,2092.0 1775.4,2091.8 C1775.9,2091.6 1776.4,2091.2 1776.9,2091.2 C1777.4,2091.2 1777.9,2091.5 1778.4,2091.6 C1778.9,2091.7 1779.4,2091.7 1779.9,2091.7 C1780.4,2091.7 1780.9,2091.6 1781.4,2091.6 C1781.9,2091.7 1782.4,2091.8 1782.9,2091.8 C1783.4,2091.7 1783.9,2091.6 1784.4,2091.6 C1784.9,2091.6 1785.4,2091.8 1785.9,2091.8 C1786.4,2091.9 1786.9,2091.8 1787.4,2091.8 C1787.9,2091.8 1788.4,2091.8 1788.9,2091.8 C1789.4,2091.8 1789.9,2091.6 1790.4,2091.7 C1790.9,2091.9 1791.4,2092.6 1791.9,2092.6 C1792.4,2092.6 1792.9,2092.0 1793.4,2091.9 C1793.9,2091.8 1794.4,2092.0 1794.9,2092.1 C1795.4,2092.1 1795.9,2092.2 1796.4,2092.3 C1796.9,2092.3 1797.4,2092.3 1797.9,2092.2 C1798.4,2092.2 1798.9,2091.7 1799.4,2091.8 C1799.9,2091.9 1800.4,2092.6 1800.9,2092.6 C1801.4,2092.6 1801.9,2092.0 1802.4,2091.9 C1802.9,2091.9 1803.4,2092.1 1803.9,2092.2 C1804.4,2092.3 1804.9,2092.5 1805.4,2092.6 C1805.9,2092.6 1806.4,2092.5 1806.9,2092.4 C1807.4,2092.4 1807.9,2092.3 1808.4,2092.3 C1808.9,2092.3 1809.4,2092.6 1809.9,2092.6 C1810.4,2092.6 1810.9,2092.3 1811.4,2092.3 C1811.9,2092.3 1812.4,2092.5 1812.9,2092.5 C1813.4,2092.5 1813.9,2092.3 1814.4,2092.3 C1814.9,2092.3 1815.4,2092.3 1815.9,2092.3 C1816.4,2092.3 1816.9,2092.4 1817.4,2092.5 C1817.9,2092.5 1818.4,2092.8 1818.9,2092.9 C1819.4,2092.9 1819.9,2092.7 1820.4,2092.7 C1820.9,2092.7 1821.4,2092.8 1821.9,2092.9 C1822.4,2093.0 1822.9,2093.3 1823.4,2093.3 C1823.9,2093.3 1824.4,2093.0 1824.9,2092.9 C1825.4,2092.7 1825.9,2092.4 1826.4,2092.4 C1826.9,2092.5 1827.4,2092.9 1827.9,2093.1 C1828.4,2093.4 1828.9,2093.9 1829.4,2093.8 C1829.9,2093.6 1830.4,2092.3 1830.9,2092.2 C1831.4,2092.1 1831.9,2093.0 1832.4,2093.2 C1832.9,2093.3 1833.4,2093.0 1833.9,2092.9 C1834.4,2092.8 1834.9,2092.7 1835.4,2092.8 C1835.9,2092.9 1836.4,2093.6 1836.9,2093.7 C1837.4,2093.8 1837.9,2093.4 1838.4,2093.4 C1838.9,2093.4 1839.4,2093.5 1839.9,2093.5 C1840.4,2093.4 1840.9,2093.1 1841.4,2093.1 C1841.9,2093.0 1842.4,2093.4 1842.9,2093.4 C1843.4,2093.4 1843.9,2093.1 1844.4,2093.2 C1844.9,2093.3 1845.4,2094.1 1845.9,2094.2 C1846.4,2094.3 1846.9,2093.9 1847.4,2093.7 C1847.9,2093.5 1848.4,2093.0 1848.9,2093.0 C1849.4,2093.0 1849.9,2093.4 1850.4,2093.7 C1850.9,2093.9 1851.4,2094.4 1851.9,2094.3 C1852.4,2094.3 1852.9,2093.7 1853.4,2093.6 C1853.9,2093.5 1854.4,2093.8 1854.9,2093.8 C1855.4,2093.9 1856.2,2093.9 1856.4,2093.9" fill="none" stroke="#c23a3a" stroke-width="4" stroke-linejoin="round"/>
<path d="M110.4,2567.0 C110.7,2564.5 111.4,2557.3 111.9,2552.0 C112.4,2546.6 112.9,2540.9 113.4,2535.1 C113.9,2529.4 114.4,2523.1 114.9,2517.5 C115.4,2511.8 115.9,2506.6 116.4,2501.0 C116.9,2495.4 117.4,2489.8 117.9,2484.1 C118.4,2478.4 118.9,2472.1 119.4,2467.0 C119.9,2461.9 120.4,2457.6 120.9,2453.4 C121.4,2449.3 121.9,2445.8 122.4,2442.0 C122.9,2438.2 123.4,2433.4 123.9,2430.6 C124.4,2427.8 124.9,2426.8 125.4,2425.1 C125.9,2423.4 126.4,2420.9 126.9,2420.3 C127.4,2419.7 127.9,2420.7 128.4,2421.6 C128.9,2422.5 129.4,2424.2 129.9,2425.7 C130.4,2427.1 130.9,2428.3 131.4,2430.3 C131.9,2432.2 132.4,2434.6 132.9,2437.1 C133.4,2439.6 133.9,2443.1 134.4,2445.3 C134.9,2447.5 135.4,2448.8 135.9,2450.3 C136.4,2451.8 136.9,2453.1 137.4,2454.4 C137.9,2455.8 138.4,2455.2 138.9,2458.3 C139.4,2461.4 139.9,2468.0 140.4,2472.9 C140.9,2477.9 141.4,2482.6 141.9,2487.9 C142.4,2493.1 142.9,2499.2 143.4,2504.6 C143.9,2509.9 144.4,2514.5 144.9,2520.0 C145.4,2525.4 145.9,2535.6 146.4,2537.3 C146.9,2539.0 147.4,2533.7 147.9,2530.1 C148.4,2526.6 148.9,2520.8 149.4,2515.8 C149.9,2510.8 150.4,2506.0 150.9,2500.3 C151.4,2494.6 151.9,2487.6 152.4,2481.7 C152.9,2475.8 153.4,2470.3 153.9,2465.0 C154.4,2459.7 154.9,2454.6 155.4,2450.1 C155.9,2445.5 156.4,2441.8 156.9,2437.6 C157.4,2433.4 157.9,2428.2 158.4,2424.8 C158.9,2421.5 159.4,2419.5 159.9,2417.4 C160.4,2415.3 160.9,2413.9 161.4,2412.3 C161.9,2410.6 162.4,2409.2 162.9,2407.7 C163.4,2406.1 163.9,2403.8 164.4,2403.0 C164.9,2402.2 165.4,2401.9 165.9,2402.8 C166.4,2403.6 166.9,2406.6 167.4,2408.2 C167.9,2409.7 168.4,2410.4 168.9,2411.8 C169.4,2413.3 169.9,2414.4 170.4,2416.7 C170.9,2419.0 171.4,2422.6 171.9,2425.6 C172.4,2428.5 172.9,2431.7 173.4,2434.6 C173.9,2437.5 174.4,2439.8 174.9,2443.1 C175.4,2446.4 175.9,2450.3 176.4,2454.4 C176.9,2458.6 177.4,2463.4 177.9,2467.9 C178.4,2472.3 178.9,2476.6 179.4,2481.1 C179.9,2485.5 180.4,2490.5 180.9,2494.5 C181.4,2498.5 181.9,2501.4 182.4,2505.0 C182.9,2508.6 183.4,2512.6 183.9,2516.2 C184.4,2519.7 184.9,2522.8 185.4,2526.3 C185.9,2529.7 186.4,2537.0 186.9,2537.1 C187.4,2537.1 187.9,2530.5 188.4,2526.7 C188.9,2522.9 189.4,2518.6 189.9,2514.4 C190.4,2510.2 190.9,2505.8 191.4,2501.7 C191.9,2497.5 192.4,2493.5 192.9,2489.3 C193.4,2485.1 193.9,2480.7 194.4,2476.6 C194.9,2472.4 195.4,2468.0 195.9,2464.2 C196.4,2460.3 196.9,2457.2 197.4,2453.7 C197.9,2450.1 198.4,2446.2 198.9,2442.9 C199.4,2439.7 199.9,2436.4 200.4,2434.1 C200.9,2431.7 201.4,2430.5 201.9,2428.8 C202.4,2427.1 202.9,2425.7 203.4,2424.0 C203.9,2422.2 204.4,2418.9 204.9,2418.5 C205.4,2418.1 205.9,2420.7 206.4,2421.7 C206.9,2422.7 207.4,2423.4 207.9,2424.3 C208.4,2425.2 208.9,2426.0 209.4,2427.2 C209.9,2428.3 210.4,2429.5 210.9,2431.3 C211.4,2433.2 211.9,2436.1 212.4,2438.4 C212.9,2440.7 213.4,2442.8 213.9,2445.0 C214.4,2447.2 214.9,2448.9 215.4,2451.4 C215.9,2453.9 216.4,2457.2 216.9,2459.9 C217.4,2462.5 217.9,2465.4 218.4,2467.5 C218.9,2469.5 219.4,2470.6 219.9,2472.2 C220.4,2473.8 220.9,2477.2 221.4,2477.2 C221.9,2477.1 222.4,2475.0 222.9,2471.8 C223.4,2468.6 223.9,2462.3 224.4,2458.1 C224.9,2453.8 225.4,2449.5 225.9,2446.2 C226.4,2442.9 226.9,2440.9 227.4,2438.3 C227.9,2435.6 228.4,2432.9 228.9,2430.5 C229.4,2428.1 229.9,2424.8 230.4,2424.0 C230.9,2423.3 231.4,2425.2 231.9,2425.9 C232.4,2426.6 232.9,2427.5 233.4,2428.2 C233.9,2428.9 234.4,2429.4 234.9,2430.4 C235.4,2431.3 235.9,2432.4 236.4,2433.8 C236.9,2435.1 237.4,2437.0 237.9,2438.5 C238.4,2440.0 238.9,2441.2 239.4,2442.8 C239.9,2444.5 240.4,2446.7 240.9,2448.4 C241.4,2450.0 241.9,2451.1 242.4,2452.7 C242.9,2454.3 243.4,2456.3 243.9,2458.0 C244.4,2459.7 244.9,2460.9 245.4,2462.9 C245.9,2465.0 246.4,2467.9 246.9,2470.4 C247.4,2472.8 247.9,2475.1 248.4,2477.5 C248.9,2479.9 249.4,2482.4 249.9,2484.9 C250.4,2487.4 250.9,2490.1 251.4,2492.6 C251.9,2495.0 252.4,2497.1 252.9,2499.7 C253.4,2502.3 253.9,2505.2 254.4,2508.2 C254.9,2511.1 255.4,2514.4 255.9,2517.6 C256.4,2520.8 256.9,2524.2 257.4,2527.3 C257.9,2530.4 258.4,2533.2 258.9,2536.2 C259.4,2539.2 259.9,2542.1 260.4,2545.2 C260.9,2548.4 261.4,2551.7 261.9,2555.3 C262.4,2558.8 262.9,2563.2 263.4,2566.6 C263.9,2570.0 264.4,2572.4 264.9,2575.7 C265.4,2578.9 265.9,2582.9 266.4,2586.1 C266.9,2589.4 267.4,2592.3 267.9,2595.2 C268.4,2598.0 268.9,2600.3 269.4,2603.1 C269.9,2605.9 270.4,2609.5 270.9,2611.9 C271.4,2614.4 271.9,2616.0 272.4,2617.9 C272.9,2619.9 273.4,2624.0 273.9,2623.8 C274.4,2623.6 274.9,2619.1 275.4,2616.9 C275.9,2614.7 276.4,2612.8 276.9,2610.7 C277.4,2608.6 277.9,2606.0 278.4,2604.1 C278.9,2602.2 279.4,2601.0 279.9,2599.3 C280.4,2597.6 280.9,2595.0 281.4,2593.9 C281.9,2592.7 282.4,2592.9 282.9,2592.5 C283.4,2592.0 283.9,2591.5 284.4,2591.2 C284.9,2590.9 285.4,2591.2 285.9,2590.6 C286.4,2590.1 286.9,2589.6 287.4,2587.9 C287.9,2586.1 288.4,2582.7 288.9,2580.2 C289.4,2577.8 289.9,2576.0 290.4,2573.4 C290.9,2570.8 291.4,2567.7 291.9,2564.9 C292.4,2562.1 292.9,2559.5 293.4,2556.6 C293.9,2553.6 294.4,2549.4 294.9,2547.1 C295.4,2544.8 295.9,2542.3 296.4,2542.8 C296.9,2543.4 297.4,2547.9 297.9,2550.4 C298.4,2552.9 298.9,2554.9 299.4,2557.6 C299.9,2560.3 300.4,2563.4 300.9,2566.4 C301.4,2569.4 301.9,2572.4 302.4,2575.5 C302.9,2578.6 303.4,2581.9 303.9,2585.1 C304.4,2588.3 304.9,2591.6 305.4,2594.8 C305.9,2598.1 306.4,2601.4 306.9,2604.7 C307.4,2608.0 307.9,2611.2 308.4,2614.6 C308.9,2618.0 309.4,2621.6 309.9,2625.1 C310.4,2628.5 310.9,2634.3 311.4,2635.3 C311.9,2636.3 312.4,2632.9 312.9,2630.9 C313.4,2629.0 313.9,2626.2 314.4,2623.7 C314.9,2621.2 315.4,2618.6 315.9,2615.8 C316.4,2613.1 316.9,2610.0 317.4,2607.1 C317.9,2604.2 318.4,2601.5 318.9,2598.7 C319.4,2595.9 319.9,2593.0 320.4,2590.3 C320.9,2587.6 321.4,2585.0 321.9,2582.5 C322.4,2579.9 322.9,2577.4 323.4,2575.0 C323.9,2572.6 324.4,2570.6 324.9,2568.2 C325.4,2565.8 325.9,2563.1 326.4,2560.8 C326.9,2558.4 327.4,2556.4 327.9,2553.9 C328.4,2551.5 328.9,2548.8 329.4,2546.4 C329.9,2543.9 330.4,2541.8 330.9,2539.4 C331.4,2537.1 331.9,2534.8 332.4,2532.3 C332.9,2529.8 333.4,2527.6 333.9,2524.7 C334.4,2521.8 334.9,2518.1 335.4,2514.7 C335.9,2511.3 336.4,2507.6 336.9,2504.1 C337.4,2500.7 337.9,2497.2 338.4,2494.0 C338.9,2490.8 339.4,2488.0 339.9,2485.0 C340.4,2482.0 340.9,2479.0 341.4,2476.0 C341.9,2473.0 342.4,2469.5 342.9,2467.0 C343.4,2464.5 343.9,2461.5 344.4,2461.0 C344.9,2460.6 345.4,2463.2 345.9,2464.4 C346.4,2465.5 346.9,2466.7 347.4,2467.6 C347.9,2468.6 348.4,2468.8 348.9,2470.2 C349.4,2471.6 349.9,2474.4 350.4,2476.2 C350.9,2478.0 351.4,2481.9 351.9,2480.8 C352.4,2479.7 352.9,2473.8 353.4,2469.7 C353.9,2465.5 354.4,2461.2 354.9,2456.0 C355.4,2450.8 355.9,2443.9 356.4,2438.4 C356.9,2432.9 357.4,2428.4 357.9,2422.9 C358.4,2417.5 358.9,2411.2 359.4,2405.9 C359.9,2400.6 360.4,2395.7 360.9,2390.9 C361.4,2386.2 361.9,2381.5 362.4,2377.3 C362.9,2373.1 363.4,2368.3 363.9,2365.8 C364.4,2363.2 364.9,2362.5 365.4,2362.0 C365.9,2361.5 366.4,2361.9 366.9,2362.6 C367.4,2363.3 367.9,2364.2 368.4,2366.2 C368.9,2368.1 369.4,2371.2 369.9,2374.1 C370.4,2377.1 370.9,2380.4 371.4,2383.8 C371.9,2387.3 372.4,2390.6 372.9,2394.8 C373.4,2399.1 373.9,2404.2 374.4,2409.1 C374.9,2414.1 375.4,2419.9 375.9,2424.5 C376.4,2429.1 376.9,2433.4 377.4,2436.7 C377.9,2440.0 378.4,2441.8 378.9,2444.4 C379.4,2447.0 379.9,2449.7 380.4,2452.3 C380.9,2454.9 381.4,2459.9 381.9,2459.9 C382.4,2459.9 382.9,2454.7 383.4,2452.3 C383.9,2449.9 384.4,2448.4 384.9,2445.5 C385.4,2442.7 385.9,2439.6 386.4,2435.0 C386.9,2430.5 387.4,2423.7 387.9,2418.2 C388.4,2412.6 388.9,2407.2 389.4,2401.9 C389.9,2396.6 390.4,2391.2 390.9,2386.3 C391.4,2381.4 391.9,2377.1 392.4,2372.3 C392.9,2367.6 393.4,2361.9 393.9,2358.1 C394.4,2354.3 394.9,2351.8 395.4,2349.5 C395.9,2347.3 396.4,2346.1 396.9,2344.6 C397.4,2343.0 397.9,2341.2 398.4,2340.3 C398.9,2339.4 399.4,2339.7 399.9,2339.0 C400.4,2338.3 400.9,2336.9 401.4,2336.1 C401.9,2335.3 402.4,2334.7 402.9,2334.3 C403.4,2333.9 403.9,2333.9 404.4,2333.7 C404.9,2333.5 405.4,2333.3 405.9,2333.2 C406.4,2333.1 406.9,2333.0 407.4,2333.0 C407.9,2332.9 408.4,2332.9 408.9,2332.8 C409.4,2332.8 409.9,2332.9 410.4,2332.9 C410.9,2332.8 411.4,2332.2 411.9,2332.3 C412.4,2332.4 412.9,2333.5 413.4,2333.6 C413.9,2333.8 414.4,2333.2 414.9,2333.0 C415.4,2332.8 415.9,2332.5 416.4,2332.6 C416.9,2332.6 417.4,2333.1 417.9,2333.2 C418.4,2333.3 418.9,2333.4 419.4,2333.3 C419.9,2333.2 420.4,2332.6 420.9,2332.5 C421.4,2332.4 421.9,2332.7 422.4,2332.9 C422.9,2333.0 423.4,2333.5 423.9,2333.6 C424.4,2333.6 424.9,2333.3 425.4,2333.2 C425.9,2333.2 426.4,2333.2 426.9,2333.2 C427.4,2333.2 427.9,2333.4 428.4,2333.4 C428.9,2333.4 429.4,2333.1 429.9,2333.0 C430.4,2332.9 430.9,2332.8 431.4,2332.9 C431.9,2333.0 432.4,2333.6 432.9,2333.6 C433.4,2333.6 433.9,2333.1 434.4,2333.0 C434.9,2332.9 435.4,2333.0 435.9,2333.0 C436.4,2333.1 436.9,2333.2 437.4,2333.3 C437.9,2333.3 438.4,2333.3 438.9,2333.2 C439.4,2333.2 439.9,2332.8 440.4,2333.0 C440.9,2333.1 441.4,2334.1 441.9,2334.3 C442.4,2334.4 442.9,2333.7 443.4,2333.8 C443.9,2333.8 444.4,2334.5 444.9,2334.7 C445.4,2334.8 445.9,2334.5 446.4,2334.4 C446.9,2334.3 447.4,2334.0 447.9,2334.1 C448.4,2334.2 448.9,2335.1 449.4,2335.2 C449.9,2335.3 450.4,2334.8 450.9,2334.8 C451.4,2334.7 451.9,2334.6 452.4,2334.7 C452.9,2334.8 453.4,2335.2 453.9,2335.2 C454.4,2335.2 454.9,2334.6 455.4,2334.6 C455.9,2334.7 456.4,2335.6 456.9,2335.8 C457.4,2335.9 457.9,2335.5 458.4,2335.6 C458.9,2335.6 459.4,2335.9 459.9,2335.9 C460.4,2336.0 460.9,2335.8 461.4,2336.0 C461.9,2336.2 462.4,2336.7 462.9,2336.9 C463.4,2337.0 463.9,2336.9 464.4,2337.0 C464.9,2337.2 465.4,2337.4 465.9,2337.6 C466.4,2337.8 466.9,2338.1 467.4,2338.1 C467.9,2338.2 468.4,2337.9 468.9,2337.9 C469.4,2337.9 469.9,2338.0 470.4,2338.2 C470.9,2338.3 471.4,2338.5 471.9,2338.5 C472.4,2338.6 472.9,2338.4 473.4,2338.4 C473.9,2338.5 474.4,2338.6 474.9,2338.8 C475.4,2339.0 475.9,2339.5 476.4,2339.6 C476.9,2339.7 477.4,2339.4 477.9,2339.3 C478.4,2339.2 478.9,2339.1 479.4,2339.2 C479.9,2339.3 480.4,2339.8 480.9,2340.0 C481.4,2340.3 481.9,2340.3 482.4,2340.5 C482.9,2340.7 483.4,2341.1 483.9,2341.1 C484.4,2341.2 484.9,2340.7 485.4,2340.6 C485.9,2340.5 486.4,2340.6 486.9,2340.7 C487.4,2340.9 487.9,2341.2 488.4,2341.3 C488.9,2341.5 489.4,2341.4 489.9,2341.5 C490.4,2341.6 490.9,2341.8 491.4,2341.8 C491.9,2341.9 492.4,2341.7 492.9,2341.8 C493.4,2341.9 493.9,2342.2 494.4,2342.3 C494.9,2342.3 495.4,2342.1 495.9,2342.2 C496.4,2342.3 496.9,2342.9 497.4,2343.0 C497.9,2343.1 498.4,2342.9 498.9,2343.0 C499.4,2343.0 499.9,2343.3 500.4,2343.3 C500.9,2343.3 501.4,2343.1 501.9,2343.0 C502.4,2342.9 502.9,2342.6 503.4,2342.7 C503.9,2342.7 504.4,2343.2 504.9,2343.3 C505.4,2343.4 505.9,2343.2 506.4,2343.3 C506.9,2343.4 507.4,2343.7 507.9,2343.8 C508.4,2343.9 508.9,2343.9 509.4,2343.9 C509.9,2343.8 510.4,2343.6 510.9,2343.6 C511.4,2343.5 511.9,2343.7 512.4,2343.6 C512.9,2343.6 513.4,2343.4 513.9,2343.4 C514.4,2343.4 514.9,2343.7 515.4,2343.8 C515.9,2343.9 516.4,2344.0 516.9,2344.0 C517.4,2344.0 517.9,2343.9 518.4,2343.8 C518.9,2343.8 519.4,2343.6 519.9,2343.6 C520.4,2343.7 520.9,2344.4 521.4,2344.4 C521.9,2344.3 522.4,2343.4 522.9,2343.4 C523.4,2343.4 523.9,2344.1 524.4,2344.2 C524.9,2344.3 525.4,2343.9 525.9,2343.9 C526.4,2343.8 526.9,2344.0 527.4,2343.8 C527.9,2343.7 528.4,2342.9 528.9,2342.8 C529.4,2342.7 529.9,2343.3 530.4,2343.2 C530.9,2343.1 531.4,2342.5 531.9,2342.3 C532.4,2342.2 532.9,2342.6 533.4,2342.6 C533.9,2342.5 534.4,2342.1 534.9,2342.0 C535.4,2341.9 535.9,2342.1 536.4,2342.1 C536.9,2342.1 537.4,2342.0 537.9,2342.1 C538.4,2342.1 538.9,2342.4 539.4,2342.4 C539.9,2342.5 540.4,2342.5 540.9,2342.4 C541.4,2342.3 541.9,2341.9 542.4,2341.8 C542.9,2341.7 543.4,2341.8 543.9,2341.7 C544.4,2341.7 544.9,2341.5 545.4,2341.4 C545.9,2341.4 546.4,2341.4 546.9,2341.3 C547.4,2341.2 547.9,2340.9 548.4,2341.0 C548.9,2341.0 549.4,2341.3 549.9,2341.5 C550.4,2341.6 550.9,2341.7 551.4,2341.7 C551.9,2341.6 552.4,2341.2 552.9,2341.1 C553.4,2341.1 553.9,2341.5 554.4,2341.4 C554.9,2341.4 555.4,2340.9 555.9,2340.8 C556.4,2340.7 556.9,2340.8 557.4,2340.8 C557.9,2340.8 558.4,2340.8 558.9,2340.9 C559.4,2341.0 559.9,2341.3 560.4,2341.3 C560.9,2341.3 561.4,2340.8 561.9,2340.7 C562.4,2340.7 562.9,2341.1 563.4,2341.1 C563.9,2341.0 564.4,2340.7 564.9,2340.5 C565.4,2340.4 565.9,2340.3 566.4,2340.2 C566.9,2340.0 567.4,2339.7 567.9,2339.7 C568.4,2339.7 568.9,2340.2 569.4,2340.2 C569.9,2340.2 570.4,2339.9 570.9,2339.9 C571.4,2339.9 571.9,2340.4 572.4,2340.4 C572.9,2340.5 573.4,2340.4 573.9,2340.2 C574.4,2340.0 574.9,2339.3 575.4,2339.3 C575.9,2339.3 576.4,2340.0 576.9,2340.1 C577.4,2340.2 577.9,2340.1 578.4,2339.9 C578.9,2339.6 579.4,2338.7 579.9,2338.6 C580.4,2338.4 580.9,2339.0 581.4,2339.3 C581.9,2339.5 582.4,2339.9 582.9,2339.9 C583.4,2339.9 583.9,2339.4 584.4,2339.5 C584.9,2339.5 585.4,2339.8 585.9,2340.0 C586.4,2340.1 586.9,2340.5 587.4,2340.6 C587.9,2340.7 588.4,2340.6 588.9,2340.7 C589.4,2340.7 589.9,2340.9 590.4,2341.0 C590.9,2341.0 591.4,2341.2 591.9,2341.2 C592.4,2341.2 592.9,2340.7 593.4,2340.9 C593.9,2341.0 594.4,2342.1 594.9,2342.2 C595.4,2342.4 595.9,2341.7 596.4,2341.7 C596.9,2341.8 597.4,2342.5 597.9,2342.5 C598.4,2342.5 598.9,2341.9 599.4,2341.9 C599.9,2341.8 600.4,2342.2 600.9,2342.2 C601.4,2342.2 601.9,2342.1 602.4,2342.0 C602.9,2342.0 603.4,2341.8 603.9,2341.8 C604.4,2341.8 604.9,2341.9 605.4,2341.9 C605.9,2341.9 606.4,2341.8 606.9,2341.8 C607.4,2341.8 607.9,2341.9 608.4,2341.9 C608.9,2341.9 609.4,2341.7 609.9,2341.6 C610.4,2341.6 610.9,2341.5 611.4,2341.5 C611.9,2341.5 612.4,2341.5 612.9,2341.6 C613.4,2341.6 613.9,2341.9 614.4,2341.8 C614.9,2341.8 615.4,2341.3 615.9,2341.3 C616.4,2341.2 616.9,2341.4 617.4,2341.4 C617.9,2341.4 618.4,2341.3 618.9,2341.1 C619.4,2341.0 619.9,2340.4 620.4,2340.4 C620.9,2340.3 621.4,2340.8 621.9,2340.9 C622.4,2341.0 622.9,2341.0 623.4,2341.0 C623.9,2341.0 624.4,2340.9 624.9,2340.9 C625.4,2341.0 625.9,2341.3 626.4,2341.3 C626.9,2341.3 627.4,2340.9 627.9,2341.0 C628.4,2341.1 628.9,2341.7 629.4,2341.8 C629.9,2342.0 630.4,2341.6 630.9,2341.7 C631.4,2341.8 631.9,2342.4 632.4,2342.4 C632.9,2342.5 633.4,2342.2 633.9,2342.0 C634.4,2341.7 634.9,2341.2 635.4,2341.0 C635.9,2340.9 636.4,2341.1 636.9,2341.0 C637.4,2341.0 637.9,2340.9 638.4,2340.8 C638.9,2340.6 639.4,2340.3 639.9,2340.2 C640.4,2340.0 640.9,2340.1 641.4,2339.9 C641.9,2339.8 642.4,2339.5 642.9,2339.3 C643.4,2339.2 643.9,2339.1 644.4,2339.1 C644.9,2339.0 645.4,2339.2 645.9,2339.1 C646.4,2339.0 646.9,2338.6 647.4,2338.5 C647.9,2338.5 648.4,2338.9 648.9,2338.7 C649.4,2338.5 649.9,2337.4 650.4,2337.2 C650.9,2336.9 651.4,2337.2 651.9,2337.2 C652.4,2337.1 652.9,2336.9 653.4,2336.8 C653.9,2336.8 654.4,2337.1 654.9,2337.0 C655.4,2337.0 655.9,2336.6 656.4,2336.4 C656.9,2336.3 657.4,2336.0 657.9,2335.9 C658.4,2335.7 658.9,2335.6 659.4,2335.5 C659.9,2335.4 660.4,2335.4 660.9,2335.2 C661.4,2335.1 661.9,2334.6 662.4,2334.4 C662.9,2334.3 663.4,2334.1 663.9,2334.1 C664.4,2334.1 664.9,2334.5 665.4,2334.5 C665.9,2334.6 666.4,2334.4 666.9,2334.5 C667.4,2334.5 667.9,2334.7 668.4,2334.9 C668.9,2335.0 669.4,2335.3 669.9,2335.4 C670.4,2335.4 670.9,2335.3 671.4,2335.3 C671.9,2335.4 672.4,2335.7 672.9,2335.8 C673.4,2335.9 673.9,2335.9 674.4,2335.9 C674.9,2335.9 675.4,2335.8 675.9,2335.8 C676.4,2335.9 676.9,2335.9 677.4,2336.1 C677.9,2336.3 678.4,2336.9 678.9,2337.1 C679.4,2337.2 679.9,2337.0 680.4,2337.1 C680.9,2337.2 681.4,2337.6 681.9,2337.7 C682.4,2337.8 682.9,2337.6 683.4,2337.7 C683.9,2337.7 684.4,2337.9 684.9,2338.0 C685.4,2338.1 685.9,2338.3 686.4,2338.4 C686.9,2338.5 687.4,2338.3 687.9,2338.5 C688.4,2338.6 688.9,2339.2 689.4,2339.4 C689.9,2339.6 690.4,2339.5 690.9,2339.6 C691.4,2339.6 691.9,2339.7 692.4,2339.6 C692.9,2339.6 693.4,2339.4 693.9,2339.4 C694.4,2339.5 694.9,2339.7 695.4,2339.9 C695.9,2340.1 696.4,2340.3 696.9,2340.5 C697.4,2340.7 697.9,2341.0 698.4,2341.1 C698.9,2341.2 699.4,2340.9 699.9,2341.0 C700.4,2341.0 700.9,2341.2 701.4,2341.3 C701.9,2341.5 702.4,2341.8 702.9,2341.9 C703.4,2342.0 703.9,2342.0 704.4,2342.1 C704.9,2342.2 705.4,2342.3 705.9,2342.3 C706.4,2342.4 706.9,2342.1 707.4,2342.3 C707.9,2342.5 708.4,2343.3 708.9,2343.5 C709.4,2343.7 709.9,2343.4 710.4,2343.4 C710.9,2343.4 711.4,2343.5 711.9,2343.6 C712.4,2343.7 712.9,2344.0 713.4,2344.1 C713.9,2344.2 714.4,2344.0 714.9,2344.0 C715.4,2344.0 715.9,2344.2 716.4,2344.2 C716.9,2344.3 717.4,2344.3 717.9,2344.6 C718.4,2344.8 718.9,2345.5 719.4,2345.7 C719.9,2345.8 720.4,2345.3 720.9,2345.4 C721.4,2345.5 721.9,2346.2 722.4,2346.4 C722.9,2346.5 723.4,2346.4 723.9,2346.4 C724.4,2346.5 724.9,2346.5 725.4,2346.7 C725.9,2346.9 726.4,2347.4 726.9,2347.6 C727.4,2347.9 727.9,2347.9 728.4,2348.1 C728.9,2348.3 729.4,2348.3 729.9,2348.6 C730.4,2348.9 730.9,2349.8 731.4,2350.0 C731.9,2350.2 732.4,2349.9 732.9,2350.0 C733.4,2350.0 733.9,2350.0 734.4,2350.2 C734.9,2350.4 735.4,2351.0 735.9,2351.2 C736.4,2351.4 736.9,2351.1 737.4,2351.3 C737.9,2351.5 738.4,2352.3 738.9,2352.4 C739.4,2352.5 739.9,2351.7 740.4,2351.9 C740.9,2352.1 741.4,2353.1 741.9,2353.3 C742.4,2353.5 742.9,2353.0 743.4,2353.1 C743.9,2353.1 744.4,2353.5 744.9,2353.7 C745.4,2353.9 745.9,2354.3 746.4,2354.4 C746.9,2354.5 747.4,2354.3 747.9,2354.3 C748.4,2354.3 748.9,2354.3 749.4,2354.5 C749.9,2354.6 750.4,2355.1 750.9,2355.3 C751.4,2355.5 751.9,2355.6 752.4,2355.7 C752.9,2355.7 753.4,2355.4 753.9,2355.6 C754.4,2355.8 754.9,2356.7 755.4,2356.8 C755.9,2357.0 756.4,2356.5 756.9,2356.6 C757.4,2356.6 757.9,2356.8 758.4,2357.0 C758.9,2357.2 759.4,2357.3 759.9,2357.5 C760.4,2357.7 760.9,2357.8 761.4,2358.0 C761.9,2358.2 762.4,2358.7 762.9,2358.7 C763.4,2358.7 763.9,2357.8 764.4,2357.9 C764.9,2358.0 765.4,2358.7 765.9,2359.0 C766.4,2359.3 766.9,2359.6 767.4,2359.7 C767.9,2359.8 768.4,2359.8 768.9,2359.8 C769.4,2359.9 769.9,2360.0 770.4,2360.0 C770.9,2360.0 771.4,2359.7 771.9,2359.7 C772.4,2359.8 772.9,2360.3 773.4,2360.3 C773.9,2360.4 774.4,2360.1 774.9,2360.2 C775.4,2360.2 775.9,2360.5 776.4,2360.5 C776.9,2360.5 777.4,2360.2 777.9,2360.2 C778.4,2360.2 778.9,2360.4 779.4,2360.5 C779.9,2360.6 780.4,2360.7 780.9,2360.7 C781.4,2360.6 781.9,2360.2 782.4,2360.3 C782.9,2360.4 783.4,2361.2 783.9,2361.3 C784.4,2361.4 784.9,2361.1 785.4,2361.0 C785.9,2360.9 786.4,2360.7 786.9,2360.7 C787.4,2360.7 787.9,2361.0 788.4,2361.1 C788.9,2361.3 789.4,2361.3 789.9,2361.4 C790.4,2361.4 790.9,2361.3 791.4,2361.3 C791.9,2361.3 792.4,2361.1 792.9,2361.2 C793.4,2361.2 793.9,2361.5 794.4,2361.5 C794.9,2361.6 795.4,2361.3 795.9,2361.3 C796.4,2361.2 796.9,2361.1 797.4,2361.2 C797.9,2361.4 798.4,2362.1 798.9,2362.3 C799.4,2362.6 799.9,2362.6 800.4,2362.6 C800.9,2362.7 801.4,2362.8 801.9,2362.9 C802.4,2362.9 802.9,2363.1 803.4,2363.1 C803.9,2363.2 804.4,2363.1 804.9,2363.0 C805.4,2362.9 805.9,2362.4 806.4,2362.3 C806.9,2362.3 807.4,2362.5 807.9,2362.6 C808.4,2362.8 808.9,2363.3 809.4,2363.4 C809.9,2363.4 810.4,2363.0 810.9,2363.0 C811.4,2362.9 811.9,2363.1 812.4,2363.2 C812.9,2363.3 813.4,2363.4 813.9,2363.4 C814.4,2363.5 814.9,2363.8 815.4,2363.8 C815.9,2363.7 816.4,2363.3 816.9,2363.3 C817.4,2363.3 817.9,2363.8 818.4,2363.9 C818.9,2364.1 819.4,2364.3 819.9,2364.3 C820.4,2364.2 820.9,2363.4 821.4,2363.5 C821.9,2363.6 822.4,2364.6 822.9,2364.8 C823.4,2365.0 823.9,2364.9 824.4,2364.8 C824.9,2364.8 825.4,2364.3 825.9,2364.4 C826.4,2364.5 826.9,2365.4 827.4,2365.5 C827.9,2365.6 828.4,2365.2 828.9,2365.2 C829.4,2365.1 829.9,2365.2 830.4,2365.4 C830.9,2365.5 831.4,2366.0 831.9,2365.9 C832.4,2365.8 832.9,2364.6 833.4,2364.6 C833.9,2364.6 834.4,2365.4 834.9,2365.7 C835.4,2365.9 835.9,2366.1 836.4,2366.2 C836.9,2366.3 837.4,2366.5 837.9,2366.5 C838.4,2366.5 838.9,2366.2 839.4,2366.1 C839.9,2366.1 840.4,2366.2 840.9,2366.2 C841.4,2366.2 841.9,2366.1 842.4,2366.2 C842.9,2366.3 843.4,2366.6 843.9,2366.8 C844.4,2366.9 844.9,2367.0 845.4,2367.0 C845.9,2367.0 846.4,2366.7 846.9,2366.8 C847.4,2367.0 847.9,2367.6 848.4,2367.8 C848.9,2368.0 849.4,2367.9 849.9,2368.1 C850.4,2368.2 850.9,2368.4 851.4,2368.6 C851.9,2368.8 852.4,2368.9 852.9,2369.0 C853.4,2369.2 853.9,2369.2 854.4,2369.4 C854.9,2369.6 855.4,2369.8 855.9,2370.0 C856.4,2370.1 856.9,2370.2 857.4,2370.3 C857.9,2370.4 858.4,2370.5 858.9,2370.6 C859.4,2370.7 859.9,2370.8 860.4,2371.0 C860.9,2371.2 861.4,2371.7 861.9,2371.9 C862.4,2372.2 862.9,2372.4 863.4,2372.6 C863.9,2372.9 864.4,2373.1 864.9,2373.5 C865.4,2373.8 865.9,2374.5 866.4,2374.8 C866.9,2375.1 867.4,2375.0 867.9,2375.2 C868.4,2375.3 868.9,2375.6 869.4,2375.7 C869.9,2375.8 870.4,2375.7 870.9,2375.9 C871.4,2376.1 871.9,2376.7 872.4,2376.9 C872.9,2377.1 873.4,2376.7 873.9,2377.2 C874.4,2377.6 874.9,2378.9 875.4,2379.5 C875.9,2380.1 876.4,2380.5 876.9,2380.8 C877.4,2381.1 877.9,2381.1 878.4,2381.4 C878.9,2381.7 879.4,2382.2 879.9,2382.6 C880.4,2383.0 880.9,2383.7 881.4,2384.1 C881.9,2384.6 882.4,2385.0 882.9,2385.3 C883.4,2385.6 883.9,2385.4 884.4,2385.9 C884.9,2386.4 885.4,2387.7 885.9,2388.4 C886.4,2389.1 886.9,2389.7 887.4,2390.3 C887.9,2390.9 888.4,2391.2 888.9,2391.9 C889.4,2392.7 889.9,2394.9 890.4,2394.8 C890.9,2394.8 891.4,2392.9 891.9,2391.7 C892.4,2390.5 892.9,2388.9 893.4,2387.6 C893.9,2386.4 894.4,2385.3 894.9,2384.2 C895.4,2383.2 895.9,2382.3 896.4,2381.3 C896.9,2380.4 897.4,2379.6 897.9,2378.7 C898.4,2377.8 898.9,2376.9 899.4,2376.1 C899.9,2375.3 900.4,2374.8 900.9,2373.9 C901.4,2373.1 901.9,2371.6 902.4,2370.9 C902.9,2370.3 903.4,2370.2 903.9,2370.0 C904.4,2369.8 904.9,2369.7 905.4,2369.6 C905.9,2369.6 906.4,2369.8 906.9,2369.7 C907.4,2369.6 907.9,2369.2 908.4,2369.0 C908.9,2368.8 909.4,2368.5 909.9,2368.4 C910.4,2368.4 910.9,2368.6 911.4,2368.7 C911.9,2368.7 912.4,2369.1 912.9,2369.0 C913.4,2368.8 913.9,2368.0 914.4,2367.9 C914.9,2367.7 915.4,2368.0 915.9,2368.0 C916.4,2367.9 916.9,2367.7 917.4,2367.7 C917.9,2367.7 918.4,2368.1 918.9,2368.0 C919.4,2368.0 919.9,2367.8 920.4,2367.6 C920.9,2367.4 921.4,2366.8 921.9,2366.9 C922.4,2366.9 922.9,2367.7 923.4,2367.8 C923.9,2367.8 924.4,2367.2 924.9,2367.0 C925.4,2366.8 925.9,2366.6 926.4,2366.5 C926.9,2366.5 927.4,2366.5 927.9,2366.5 C928.4,2366.5 928.9,2366.5 929.4,2366.6 C929.9,2366.6 930.4,2366.8 930.9,2366.8 C931.4,2366.8 931.9,2366.5 932.4,2366.5 C932.9,2366.5 933.4,2366.4 933.9,2366.6 C934.4,2366.8 934.9,2367.3 935.4,2367.5 C935.9,2367.7 936.4,2367.9 936.9,2367.9 C937.4,2367.8 937.9,2367.4 938.4,2367.4 C938.9,2367.4 939.4,2367.7 939.9,2367.8 C940.4,2367.9 940.9,2368.1 941.4,2368.1 C941.9,2368.2 942.4,2368.1 942.9,2368.1 C943.4,2368.1 943.9,2368.0 944.4,2368.1 C944.9,2368.3 945.4,2369.0 945.9,2369.0 C946.4,2369.1 946.9,2368.6 947.4,2368.5 C947.9,2368.4 948.4,2368.3 948.9,2368.4 C949.4,2368.6 949.9,2369.2 950.4,2369.4 C950.9,2369.6 951.4,2369.7 951.9,2369.8 C952.4,2369.8 952.9,2369.9 953.4,2369.8 C953.9,2369.7 954.4,2369.4 954.9,2369.4 C955.4,2369.4 955.9,2369.7 956.4,2369.7 C956.9,2369.7 957.4,2369.5 957.9,2369.5 C958.4,2369.6 958.9,2369.9 959.4,2369.9 C959.9,2369.8 960.4,2369.3 960.9,2369.3 C961.4,2369.4 961.9,2369.8 962.4,2370.0 C962.9,2370.3 963.4,2370.8 963.9,2370.8 C964.4,2370.7 964.9,2369.8 965.4,2369.7 C965.9,2369.7 966.4,2370.6 966.9,2370.6 C967.4,2370.6 967.9,2370.1 968.4,2369.9 C968.9,2369.6 969.4,2369.0 969.9,2369.0 C970.4,2368.9 970.9,2369.8 971.4,2369.8 C971.9,2369.8 972.4,2369.1 972.9,2369.0 C973.4,2368.9 973.9,2369.4 974.4,2369.4 C974.9,2369.3 975.4,2369.0 975.9,2368.9 C976.4,2368.8 976.9,2368.8 977.4,2368.7 C977.9,2368.7 978.4,2368.7 978.9,2368.6 C979.4,2368.5 979.9,2368.1 980.4,2368.0 C980.9,2368.0 981.4,2368.1 981.9,2368.1 C982.4,2368.1 982.9,2367.9 983.4,2368.0 C983.9,2368.1 984.4,2368.7 984.9,2368.6 C985.4,2368.6 985.9,2367.8 986.4,2367.7 C986.9,2367.5 987.4,2367.8 987.9,2367.9 C988.4,2367.9 988.9,2367.8 989.4,2367.8 C989.9,2367.8 990.4,2368.0 990.9,2367.9 C991.4,2367.8 991.9,2367.4 992.4,2367.3 C992.9,2367.2 993.4,2367.4 993.9,2367.3 C994.4,2367.2 994.9,2366.7 995.4,2366.8 C995.9,2366.9 996.4,2367.9 996.9,2367.9 C997.4,2367.8 997.9,2366.5 998.4,2366.3 C998.9,2366.1 999.4,2366.8 999.9,2366.8 C1000.4,2366.8 1000.9,2366.5 1001.4,2366.5 C1001.9,2366.4 1002.4,2366.5 1002.9,2366.5 C1003.4,2366.5 1003.9,2366.3 1004.4,2366.3 C1004.9,2366.3 1005.4,2366.3 1005.9,2366.4 C1006.4,2366.5 1006.9,2366.9 1007.4,2367.0 C1007.9,2367.2 1008.4,2367.2 1008.9,2367.1 C1009.4,2367.1 1009.9,2366.9 1010.4,2366.9 C1010.9,2366.8 1011.4,2366.9 1011.9,2367.0 C1012.4,2367.0 1012.9,2367.1 1013.4,2367.2 C1013.9,2367.2 1014.4,2367.1 1014.9,2367.2 C1015.4,2367.2 1015.9,2367.4 1016.4,2367.5 C1016.9,2367.6 1017.4,2367.7 1017.9,2367.7 C1018.4,2367.7 1018.9,2367.8 1019.4,2367.7 C1019.9,2367.6 1020.4,2367.1 1020.9,2367.1 C1021.4,2367.1 1021.9,2367.7 1022.4,2367.7 C1022.9,2367.8 1023.4,2367.4 1023.9,2367.5 C1024.4,2367.6 1024.9,2368.0 1025.4,2368.1 C1025.9,2368.2 1026.4,2367.9 1026.9,2368.0 C1027.4,2368.0 1027.9,2368.2 1028.4,2368.3 C1028.9,2368.3 1029.4,2368.2 1029.9,2368.3 C1030.4,2368.3 1030.9,2368.6 1031.4,2368.7 C1031.9,2368.8 1032.4,2369.0 1032.9,2369.0 C1033.4,2369.0 1033.9,2368.8 1034.4,2368.7 C1034.9,2368.5 1035.4,2368.2 1035.9,2368.2 C1036.4,2368.2 1036.9,2368.6 1037.4,2368.8 C1037.9,2369.1 1038.4,2369.6 1038.9,2369.6 C1039.4,2369.6 1039.9,2368.9 1040.4,2368.8 C1040.9,2368.7 1041.4,2368.9 1041.9,2369.2 C1042.4,2369.4 1042.9,2370.0 1043.4,2370.2 C1043.9,2370.3 1044.4,2370.1 1044.9,2370.1 C1045.4,2370.0 1045.9,2369.9 1046.4,2369.9 C1046.9,2369.8 1047.4,2369.9 1047.9,2369.9 C1048.4,2369.8 1048.9,2369.3 1049.4,2369.5 C1049.9,2369.6 1050.4,2370.5 1050.9,2370.6 C1051.4,2370.8 1051.9,2370.7 1052.4,2370.5 C1052.9,2370.4 1053.4,2369.8 1053.9,2369.8 C1054.4,2369.8 1054.9,2370.3 1055.4,2370.5 C1055.9,2370.6 1056.4,2370.6 1056.9,2370.6 C1057.4,2370.7 1057.9,2370.8 1058.4,2370.8 C1058.9,2370.8 1059.4,2370.5 1059.9,2370.7 C1060.4,2370.9 1060.9,2371.9 1061.4,2372.0 C1061.9,2372.0 1062.4,2370.9 1062.9,2370.9 C1063.4,2370.9 1063.9,2371.8 1064.4,2371.9 C1064.9,2372.0 1065.4,2371.8 1065.9,2371.8 C1066.4,2371.7 1066.9,2371.6 1067.4,2371.7 C1067.9,2371.7 1068.4,2371.9 1068.9,2372.0 C1069.4,2372.1 1069.9,2372.3 1070.4,2372.2 C1070.9,2372.2 1071.4,2371.9 1071.9,2371.9 C1072.4,2371.8 1072.9,2372.0 1073.4,2372.1 C1073.9,2372.3 1074.4,2372.7 1074.9,2372.8 C1075.4,2372.9 1075.9,2372.8 1076.4,2372.7 C1076.9,2372.6 1077.4,2372.5 1077.9,2372.3 C1078.4,2372.1 1078.9,2371.7 1079.4,2371.5 C1079.9,2371.2 1080.4,2371.0 1080.9,2371.0 C1081.4,2371.1 1081.9,2371.8 1082.4,2371.9 C1082.9,2372.0 1083.4,2371.7 1083.9,2371.6 C1084.4,2371.4 1084.9,2371.1 1085.4,2371.0 C1085.9,2370.8 1086.4,2370.8 1086.9,2370.7 C1087.4,2370.6 1087.9,2370.3 1088.4,2370.2 C1088.9,2370.1 1089.4,2370.2 1089.9,2370.2 C1090.4,2370.2 1090.9,2370.4 1091.4,2370.4 C1091.9,2370.3 1092.4,2370.3 1092.9,2370.1 C1093.4,2370.0 1093.9,2369.6 1094.4,2369.6 C1094.9,2369.5 1095.4,2369.9 1095.9,2369.8 C1096.4,2369.8 1096.9,2369.5 1097.4,2369.5 C1097.9,2369.4 1098.4,2369.6 1098.9,2369.5 C1099.4,2369.5 1099.9,2369.3 1100.4,2369.1 C1100.9,2368.9 1101.4,2368.6 1101.9,2368.6 C1102.4,2368.6 1102.9,2368.8 1103.4,2369.0 C1103.9,2369.1 1104.4,2369.3 1104.9,2369.3 C1105.4,2369.3 1105.9,2368.9 1106.4,2368.9 C1106.9,2368.9 1107.4,2369.3 1107.9,2369.3 C1108.4,2369.3 1108.9,2368.9 1109.4,2368.8 C1109.9,2368.8 1110.4,2369.1 1110.9,2369.0 C1111.4,2369.0 1111.9,2368.6 1112.4,2368.6 C1112.9,2368.6 1113.4,2369.2 1113.9,2369.2 C1114.4,2369.1 1114.9,2368.5 1115.4,2368.4 C1115.9,2368.3 1116.4,2368.3 1116.9,2368.4 C1117.4,2368.4 1117.9,2368.6 1118.4,2368.6 C1118.9,2368.7 1119.4,2368.8 1119.9,2368.6 C1120.4,2368.4 1120.9,2367.6 1121.4,2367.5 C1121.9,2367.4 1122.4,2368.2 1122.9,2368.1 C1123.4,2367.9 1123.9,2367.1 1124.4,2366.8 C1124.9,2366.5 1125.4,2366.6 1125.9,2366.5 C1126.4,2366.4 1126.9,2366.2 1127.4,2366.2 C1127.9,2366.2 1128.4,2366.6 1128.9,2366.4 C1129.4,2366.3 1129.9,2365.5 1130.4,2365.4 C1130.9,2365.2 1131.4,2365.6 1131.9,2365.6 C1132.4,2365.5 1132.9,2365.3 1133.4,2365.1 C1133.9,2365.0 1134.4,2364.7 1134.9,2364.6 C1135.4,2364.5 1135.9,2364.4 1136.4,2364.4 C1136.9,2364.4 1137.4,2364.7 1137.9,2364.6 C1138.4,2364.6 1138.9,2364.4 1139.4,2364.1 C1139.9,2363.8 1140.4,2362.9 1140.9,2362.9 C1141.4,2362.8 1141.9,2363.5 1142.4,2363.9 C1142.9,2364.2 1143.4,2364.6 1143.9,2365.0 C1144.4,2365.5 1144.9,2366.1 1145.4,2366.5 C1145.9,2367.0 1146.4,2367.3 1146.9,2367.8 C1147.4,2368.3 1147.9,2369.1 1148.4,2369.4 C1148.9,2369.7 1149.4,2369.4 1149.9,2369.6 C1150.4,2369.7 1150.9,2369.8 1151.4,2370.1 C1151.9,2370.4 1152.4,2370.9 1152.9,2371.2 C1153.4,2371.5 1153.9,2371.7 1154.4,2372.0 C1154.9,2372.3 1155.4,2372.7 1155.9,2372.9 C1156.4,2373.2 1156.9,2373.3 1157.4,2373.3 C1157.9,2373.3 1158.4,2373.1 1158.9,2373.1 C1159.4,2373.1 1159.9,2373.2 1160.4,2373.3 C1160.9,2373.5 1161.4,2373.9 1161.9,2374.1 C1162.4,2374.2 1162.9,2374.2 1163.4,2374.3 C1163.9,2374.4 1164.4,2374.6 1164.9,2374.8 C1165.4,2374.9 1165.9,2375.3 1166.4,2375.3 C1166.9,2375.2 1167.4,2374.3 1167.9,2374.3 C1168.4,2374.3 1168.9,2374.9 1169.4,2375.2 C1169.9,2375.4 1170.4,2375.8 1170.9,2375.9 C1171.4,2375.9 1171.9,2375.4 1172.4,2375.6 C1172.9,2375.7 1173.4,2376.7 1173.9,2376.8 C1174.4,2377.0 1174.9,2376.5 1175.4,2376.5 C1175.9,2376.5 1176.4,2376.9 1176.9,2377.0 C1177.4,2377.1 1177.9,2376.9 1178.4,2377.0 C1178.9,2377.1 1179.4,2377.3 1179.9,2377.4 C1180.4,2377.5 1180.9,2377.6 1181.4,2377.6 C1181.9,2377.7 1182.4,2377.9 1182.9,2377.9 C1183.4,2377.9 1183.9,2377.5 1184.4,2377.5 C1184.9,2377.4 1185.4,2377.3 1185.9,2377.5 C1186.4,2377.6 1186.9,2378.1 1187.4,2378.3 C1187.9,2378.6 1188.4,2378.8 1188.9,2378.9 C1189.4,2378.9 1189.9,2378.7 1190.4,2378.7 C1190.9,2378.7 1191.4,2378.8 1191.9,2379.0 C1192.4,2379.1 1192.9,2379.5 1193.4,2379.6 C1193.9,2379.7 1194.4,2379.7 1194.9,2379.7 C1195.4,2379.6 1195.9,2379.3 1196.4,2379.4 C1196.9,2379.4 1197.4,2380.0 1197.9,2380.0 C1198.4,2379.9 1198.9,2379.5 1199.4,2379.3 C1199.9,2379.1 1200.4,2379.0 1200.9,2378.8 C1201.4,2378.6 1201.9,2378.3 1202.4,2378.1 C1202.9,2377.9 1203.4,2377.9 1203.9,2377.7 C1204.4,2377.5 1204.9,2377.1 1205.4,2376.9 C1205.9,2376.7 1206.4,2376.6 1206.9,2376.4 C1207.4,2376.2 1207.9,2375.9 1208.4,2375.7 C1208.9,2375.5 1209.4,2375.2 1209.9,2375.0 C1210.4,2374.8 1210.9,2374.5 1211.4,2374.3 C1211.9,2374.1 1212.4,2374.1 1212.9,2374.0 C1213.4,2373.8 1213.9,2373.5 1214.4,2373.4 C1214.9,2373.3 1215.4,2373.3 1215.9,2373.3 C1216.4,2373.2 1216.9,2373.4 1217.4,2373.1 C1217.9,2372.8 1218.4,2371.8 1218.9,2371.4 C1219.4,2371.1 1219.9,2371.0 1220.4,2370.9 C1220.9,2370.9 1221.4,2371.2 1221.9,2371.0 C1222.4,2370.9 1222.9,2370.2 1223.4,2370.0 C1223.9,2369.8 1224.4,2369.9 1224.9,2369.7 C1225.4,2369.5 1225.9,2368.8 1226.4,2368.7 C1226.9,2368.5 1227.4,2369.0 1227.9,2368.8 C1228.4,2368.6 1228.9,2367.7 1229.4,2367.6 C1229.9,2367.4 1230.4,2368.1 1230.9,2367.9 C1231.4,2367.8 1231.9,2367.0 1232.4,2366.8 C1232.9,2366.6 1233.4,2366.6 1233.9,2366.6 C1234.4,2366.7 1234.9,2367.0 1235.4,2367.0 C1235.9,2367.0 1236.4,2366.5 1236.9,2366.5 C1237.4,2366.5 1237.9,2366.7 1238.4,2366.9 C1238.9,2367.2 1239.4,2367.9 1239.9,2367.9 C1240.4,2367.9 1240.9,2366.9 1241.4,2366.8 C1241.9,2366.8 1242.4,2367.5 1242.9,2367.5 C1243.4,2367.5 1243.9,2366.9 1244.4,2366.9 C1244.9,2367.0 1245.4,2367.8 1245.9,2367.9 C1246.4,2368.1 1246.9,2367.9 1247.4,2367.9 C1247.9,2367.9 1248.4,2367.9 1248.9,2367.9 C1249.4,2368.0 1249.9,2368.1 1250.4,2368.5 C1250.9,2368.8 1251.4,2369.6 1251.9,2369.8 C1252.4,2370.1 1252.9,2370.1 1253.4,2370.2 C1253.9,2370.2 1254.4,2369.9 1254.9,2370.1 C1255.4,2370.2 1255.9,2371.1 1256.4,2371.3 C1256.9,2371.5 1257.4,2371.1 1257.9,2371.2 C1258.4,2371.3 1258.9,2371.6 1259.4,2371.8 C1259.9,2372.1 1260.4,2372.6 1260.9,2372.8 C1261.4,2372.9 1261.9,2372.8 1262.4,2372.6 C1262.9,2372.4 1263.4,2371.9 1263.9,2371.5 C1264.4,2371.1 1264.9,2370.9 1265.4,2370.3 C1265.9,2369.8 1266.4,2368.9 1266.9,2368.4 C1267.4,2367.9 1267.9,2367.8 1268.4,2367.4 C1268.9,2367.1 1269.4,2366.6 1269.9,2366.0 C1270.4,2365.4 1270.9,2364.4 1271.4,2364.0 C1271.9,2363.6 1272.4,2363.9 1272.9,2363.7 C1273.4,2363.5 1273.9,2363.2 1274.4,2362.7 C1274.9,2362.2 1275.4,2361.3 1275.9,2360.8 C1276.4,2360.4 1276.9,2360.4 1277.4,2360.2 C1277.9,2360.0 1278.4,2359.9 1278.9,2359.6 C1279.4,2359.3 1279.9,2358.9 1280.4,2358.5 C1280.9,2358.1 1281.4,2357.4 1281.9,2357.0 C1282.4,2356.6 1282.9,2356.4 1283.4,2356.0 C1283.9,2355.7 1284.4,2355.3 1284.9,2355.0 C1285.4,2354.6 1285.9,2354.2 1286.4,2353.9 C1286.9,2353.7 1287.4,2353.8 1287.9,2353.7 C1288.4,2353.7 1288.9,2354.0 1289.4,2353.7 C1289.9,2353.4 1290.4,2352.2 1290.9,2351.8 C1291.4,2351.4 1291.9,2351.8 1292.4,2351.6 C1292.9,2351.4 1293.4,2350.7 1293.9,2350.6 C1294.4,2350.4 1294.9,2351.0 1295.4,2350.7 C1295.9,2350.5 1296.4,2349.2 1296.9,2348.9 C1297.4,2348.7 1297.9,2349.3 1298.4,2349.2 C1298.9,2349.1 1299.4,2348.8 1299.9,2348.6 C1300.4,2348.3 1300.9,2347.9 1301.4,2347.7 C1301.9,2347.5 1302.4,2347.5 1302.9,2347.4 C1303.4,2347.3 1303.9,2347.1 1304.4,2347.1 C1304.9,2347.0 1305.4,2347.3 1305.9,2347.2 C1306.4,2347.0 1306.9,2346.4 1307.4,2346.2 C1307.9,2346.0 1308.4,2346.2 1308.9,2346.1 C1309.4,2346.0 1309.9,2345.7 1310.4,2345.6 C1310.9,2345.5 1311.4,2345.3 1311.9,2345.4 C1312.4,2345.4 1312.9,2345.7 1313.4,2345.9 C1313.9,2346.1 1314.4,2346.1 1314.9,2346.4 C1315.4,2346.7 1315.9,2347.3 1316.4,2347.5 C1316.9,2347.8 1317.4,2347.8 1317.9,2347.9 C1318.4,2348.1 1318.9,2348.3 1319.4,2348.4 C1319.9,2348.4 1320.4,2348.2 1320.9,2348.3 C1321.4,2348.4 1321.9,2348.7 1322.4,2349.0 C1322.9,2349.3 1323.4,2349.7 1323.9,2349.9 C1324.4,2350.1 1324.9,2350.1 1325.4,2350.2 C1325.9,2350.3 1326.4,2350.5 1326.9,2350.7 C1327.4,2351.0 1327.9,2351.2 1328.4,2351.6 C1328.9,2352.0 1329.4,2352.8 1329.9,2353.2 C1330.4,2353.7 1330.9,2354.0 1331.4,2354.3 C1331.9,2354.6 1332.4,2354.8 1332.9,2355.1 C1333.4,2355.5 1333.9,2356.2 1334.4,2356.4 C1334.9,2356.6 1335.4,2356.1 1335.9,2356.3 C1336.4,2356.4 1336.9,2356.7 1337.4,2357.1 C1337.9,2357.5 1338.4,2358.2 1338.9,2358.7 C1339.4,2359.2 1339.9,2359.7 1340.4,2359.9 C1340.9,2360.1 1341.4,2360.1 1341.9,2360.0 C1342.4,2359.8 1342.9,2359.5 1343.4,2359.2 C1343.9,2358.9 1344.4,2358.5 1344.9,2358.0 C1345.4,2357.6 1345.9,2357.0 1346.4,2356.6 C1346.9,2356.1 1347.4,2355.7 1347.9,2355.3 C1348.4,2354.9 1348.9,2354.6 1349.4,2354.3 C1349.9,2353.9 1350.4,2353.5 1350.9,2353.2 C1351.4,2352.9 1351.9,2352.7 1352.4,2352.3 C1352.9,2351.9 1353.4,2351.2 1353.9,2350.8 C1354.4,2350.3 1354.9,2349.8 1355.4,2349.6 C1355.9,2349.3 1356.4,2349.2 1356.9,2349.1 C1357.4,2349.0 1357.9,2348.9 1358.4,2348.9 C1358.9,2348.8 1359.4,2349.0 1359.9,2348.8 C1360.4,2348.6 1360.9,2348.1 1361.4,2347.9 C1361.9,2347.7 1362.4,2347.7 1362.9,2347.6 C1363.4,2347.6 1363.9,2347.6 1364.4,2347.5 C1364.9,2347.4 1365.4,2347.0 1365.9,2347.0 C1366.4,2346.9 1366.9,2347.3 1367.4,2347.2 C1367.9,2347.1 1368.4,2346.4 1368.9,2346.2 C1369.4,2346.0 1369.9,2345.9 1370.4,2345.8 C1370.9,2345.8 1371.4,2346.1 1371.9,2345.9 C1372.4,2345.7 1372.9,2344.8 1373.4,2344.7 C1373.9,2344.6 1374.4,2345.1 1374.9,2345.4 C1375.4,2345.6 1375.9,2346.0 1376.4,2346.3 C1376.9,2346.6 1377.4,2346.9 1377.9,2347.2 C1378.4,2347.5 1378.9,2347.9 1379.4,2348.2 C1379.9,2348.4 1380.4,2348.5 1380.9,2348.6 C1381.4,2348.7 1381.9,2348.7 1382.4,2348.8 C1382.9,2348.9 1383.4,2348.8 1383.9,2349.1 C1384.4,2349.3 1384.9,2350.1 1385.4,2350.5 C1385.9,2350.9 1386.4,2351.2 1386.9,2351.5 C1387.4,2351.8 1387.9,2352.1 1388.4,2352.5 C1388.9,2352.8 1389.4,2353.1 1389.9,2353.6 C1390.4,2354.1 1390.9,2355.1 1391.4,2355.5 C1391.9,2356.0 1392.4,2356.1 1392.9,2356.4 C1393.4,2356.8 1393.9,2357.4 1394.4,2357.9 C1394.9,2358.3 1395.4,2358.6 1395.9,2359.0 C1396.4,2359.3 1396.9,2359.6 1397.4,2360.0 C1397.9,2360.4 1398.4,2360.9 1398.9,2361.3 C1399.4,2361.8 1399.9,2362.5 1400.4,2362.5 C1400.9,2362.5 1401.4,2361.9 1401.9,2361.4 C1402.4,2360.8 1402.9,2359.8 1403.4,2359.2 C1403.9,2358.6 1404.4,2358.3 1404.9,2357.6 C1405.4,2357.0 1405.9,2355.8 1406.4,2355.1 C1406.9,2354.4 1407.4,2354.1 1407.9,2353.5 C1408.4,2353.0 1408.9,2352.2 1409.4,2351.8 C1409.9,2351.3 1410.4,2351.4 1410.9,2350.8 C1411.4,2350.3 1411.9,2348.8 1412.4,2348.5 C1412.9,2348.1 1413.4,2348.8 1413.9,2348.6 C1414.4,2348.5 1414.9,2347.9 1415.4,2347.4 C1415.9,2347.0 1416.4,2346.5 1416.9,2346.1 C1417.4,2345.7 1417.9,2345.3 1418.4,2345.0 C1418.9,2344.7 1419.4,2344.4 1419.9,2344.1 C1420.4,2343.7 1420.9,2342.9 1421.4,2342.8 C1421.9,2342.7 1422.4,2343.7 1422.9,2343.5 C1423.4,2343.2 1423.9,2341.9 1424.4,2341.5 C1424.9,2341.0 1425.4,2341.1 1425.9,2340.8 C1426.4,2340.4 1426.9,2339.7 1427.4,2339.3 C1427.9,2339.0 1428.4,2339.0 1428.9,2338.7 C1429.4,2338.3 1429.9,2337.4 1430.4,2337.1 C1430.9,2336.8 1431.4,2337.1 1431.9,2337.0 C1432.4,2336.9 1432.9,2336.4 1433.4,2336.3 C1433.9,2336.1 1434.4,2336.2 1434.9,2336.1 C1435.4,2336.1 1435.9,2335.9 1436.4,2335.9 C1436.9,2335.8 1437.4,2335.9 1437.9,2335.8 C1438.4,2335.6 1438.9,2335.1 1439.4,2334.9 C1439.9,2334.6 1440.4,2334.2 1440.9,2334.0 C1441.4,2333.9 1441.9,2333.9 1442.4,2333.8 C1442.9,2333.8 1443.4,2333.8 1443.9,2333.7 C1444.4,2333.7 1444.9,2334.1 1445.4,2333.8 C1445.9,2333.4 1446.4,2332.1 1446.9,2331.8 C1447.4,2331.5 1447.9,2331.8 1448.4,2331.8 C1448.9,2331.8 1449.4,2331.7 1449.9,2331.7 C1450.4,2331.7 1450.9,2331.7 1451.4,2331.7 C1451.9,2331.7 1452.4,2331.8 1452.9,2331.8 C1453.4,2331.9 1453.9,2332.0 1454.4,2332.0 C1454.9,2331.9 1455.4,2331.6 1455.9,2331.5 C1456.4,2331.5 1456.9,2331.8 1457.4,2331.7 C1457.9,2331.6 1458.4,2331.0 1458.9,2330.8 C1459.4,2330.6 1459.9,2330.7 1460.4,2330.6 C1460.9,2330.5 1461.4,2330.2 1461.9,2330.2 C1462.4,2330.1 1462.9,2330.2 1463.4,2330.3 C1463.9,2330.4 1464.4,2330.7 1464.9,2330.7 C1465.4,2330.7 1465.9,2330.3 1466.4,2330.3 C1466.9,2330.3 1467.4,2330.9 1467.9,2330.9 C1468.4,2330.8 1468.9,2330.1 1469.4,2329.9 C1469.9,2329.7 1470.4,2329.5 1470.9,2329.5 C1471.4,2329.6 1471.9,2330.1 1472.4,2330.0 C1472.9,2329.9 1473.4,2329.0 1473.9,2329.0 C1474.4,2329.0 1474.9,2329.8 1475.4,2329.9 C1475.9,2330.0 1476.4,2329.8 1476.9,2329.6 C1477.4,2329.4 1477.9,2328.9 1478.4,2328.9 C1478.9,2328.9 1479.4,2329.4 1479.9,2329.4 C1480.4,2329.5 1480.9,2329.2 1481.4,2329.2 C1481.9,2329.3 1482.4,2329.6 1482.9,2329.5 C1483.4,2329.4 1483.9,2329.0 1484.4,2328.9 C1484.9,2328.7 1485.4,2328.7 1485.9,2328.7 C1486.4,2328.6 1486.9,2328.8 1487.4,2328.8 C1487.9,2328.7 1488.4,2328.7 1488.9,2328.6 C1489.4,2328.5 1489.9,2328.1 1490.4,2328.2 C1490.9,2328.2 1491.4,2328.8 1491.9,2328.9 C1492.4,2329.0 1492.9,2329.0 1493.4,2329.0 C1493.9,2328.9 1494.4,2328.5 1494.9,2328.4 C1495.4,2328.3 1495.9,2328.5 1496.4,2328.5 C1496.9,2328.5 1497.4,2328.3 1497.9,2328.4 C1498.4,2328.4 1498.9,2328.6 1499.4,2328.6 C1499.9,2328.7 1500.4,2328.5 1500.9,2328.6 C1501.4,2328.6 1501.9,2328.8 1502.4,2328.9 C1502.9,2329.0 1503.4,2329.0 1503.9,2329.1 C1504.4,2329.2 1504.9,2329.6 1505.4,2329.5 C1505.9,2329.4 1506.4,2328.8 1506.9,2328.7 C1507.4,2328.6 1507.9,2328.8 1508.4,2328.8 C1508.9,2328.8 1509.4,2328.6 1509.9,2328.7 C1510.4,2328.7 1510.9,2329.0 1511.4,2329.1 C1511.9,2329.2 1512.4,2329.5 1512.9,2329.4 C1513.4,2329.4 1513.9,2328.9 1514.4,2328.9 C1514.9,2328.9 1515.4,2329.2 1515.9,2329.2 C1516.4,2329.2 1516.9,2329.0 1517.4,2328.9 C1517.9,2328.9 1518.4,2328.8 1518.9,2328.8 C1519.4,2328.9 1519.9,2329.0 1520.4,2329.2 C1520.9,2329.3 1521.4,2329.7 1521.9,2329.7 C1522.4,2329.7 1522.9,2329.5 1523.4,2329.3 C1523.9,2329.2 1524.4,2328.9 1524.9,2328.9 C1525.4,2328.9 1525.9,2329.1 1526.4,2329.2 C1526.9,2329.3 1527.4,2329.3 1527.9,2329.5 C1528.4,2329.7 1528.9,2330.3 1529.4,2330.3 C1529.9,2330.3 1530.4,2329.2 1530.9,2329.2 C1531.4,2329.3 1531.9,2330.6 1532.4,2330.7 C1532.9,2330.8 1533.4,2330.2 1533.9,2330.1 C1534.4,2330.0 1534.9,2330.2 1535.4,2330.2 C1535.9,2330.2 1536.4,2330.4 1536.9,2330.2 C1537.4,2330.0 1537.9,2329.0 1538.4,2329.0 C1538.9,2329.0 1539.4,2329.8 1539.9,2330.0 C1540.4,2330.2 1540.9,2330.0 1541.4,2330.0 C1541.9,2330.0 1542.4,2330.0 1542.9,2330.1 C1543.4,2330.1 1543.9,2330.4 1544.4,2330.3 C1544.9,2330.3 1545.4,2330.0 1545.9,2329.9 C1546.4,2329.7 1546.9,2329.6 1547.4,2329.6 C1547.9,2329.6 1548.4,2330.0 1548.9,2330.0 C1549.4,2330.1 1549.9,2329.9 1550.4,2329.9 C1550.9,2329.9 1551.4,2330.0 1551.9,2330.0 C1552.4,2330.0 1552.9,2329.7 1553.4,2329.7 C1553.9,2329.6 1554.4,2330.0 1554.9,2329.8 C1555.4,2329.6 1555.9,2328.7 1556.4,2328.7 C1556.9,2328.7 1557.4,2329.6 1557.9,2329.9 C1558.4,2330.1 1558.9,2330.2 1559.4,2330.2 C1559.9,2330.1 1560.4,2329.9 1560.9,2329.8 C1561.4,2329.7 1561.9,2329.7 1562.4,2329.7 C1562.9,2329.8 1563.4,2330.0 1563.9,2330.0 C1564.4,2330.0 1564.9,2329.7 1565.4,2329.6 C1565.9,2329.6 1566.4,2329.5 1566.9,2329.7 C1567.4,2329.8 1567.9,2330.2 1568.4,2330.3 C1568.9,2330.4 1569.4,2330.5 1569.9,2330.3 C1570.4,2330.1 1570.9,2329.2 1571.4,2329.1 C1571.9,2328.9 1572.4,2329.4 1572.9,2329.5 C1573.4,2329.6 1573.9,2329.7 1574.4,2329.8 C1574.9,2329.9 1575.4,2330.0 1575.9,2329.9 C1576.4,2329.9 1576.9,2329.3 1577.4,2329.2 C1577.9,2329.2 1578.4,2329.3 1578.9,2329.5 C1579.4,2329.6 1579.9,2329.8 1580.4,2329.9 C1580.9,2330.0 1581.4,2330.2 1581.9,2330.1 C1582.4,2330.0 1582.9,2329.4 1583.4,2329.3 C1583.9,2329.2 1584.4,2329.5 1584.9,2329.5 C1585.4,2329.5 1585.9,2329.4 1586.4,2329.5 C1586.9,2329.6 1587.4,2329.9 1587.9,2330.0 C1588.4,2330.0 1588.9,2329.8 1589.4,2329.7 C1589.9,2329.7 1590.4,2329.6 1590.9,2329.7 C1591.4,2329.8 1591.9,2330.2 1592.4,2330.2 C1592.9,2330.2 1593.4,2329.9 1593.9,2329.8 C1594.4,2329.7 1594.9,2329.6 1595.4,2329.6 C1595.9,2329.7 1596.4,2330.1 1596.9,2330.2 C1597.4,2330.3 1597.9,2330.2 1598.4,2330.2 C1598.9,2330.2 1599.4,2330.1 1599.9,2330.1 C1600.4,2330.2 1600.9,2330.4 1601.4,2330.3 C1601.9,2330.2 1602.4,2330.0 1602.9,2329.8 C1603.4,2329.6 1603.9,2329.0 1604.4,2328.9 C1604.9,2328.9 1605.4,2329.4 1605.9,2329.6 C1606.4,2329.7 1606.9,2329.7 1607.4,2329.8 C1607.9,2329.8 1608.4,2329.7 1608.9,2329.7 C1609.4,2329.7 1609.9,2330.0 1610.4,2330.0 C1610.9,2330.0 1611.4,2329.8 1611.9,2329.8 C1612.4,2329.9 1612.9,2330.4 1613.4,2330.4 C1613.9,2330.5 1614.4,2330.0 1614.9,2330.0 C1615.4,2329.9 1615.9,2330.1 1616.4,2330.1 C1616.9,2330.2 1617.4,2330.2 1617.9,2330.2 C1618.4,2330.3 1618.9,2330.4 1619.4,2330.3 C1619.9,2330.2 1620.4,2329.7 1620.9,2329.7 C1621.4,2329.7 1621.9,2330.3 1622.4,2330.4 C1622.9,2330.4 1623.4,2330.0 1623.9,2329.8 C1624.4,2329.6 1624.9,2329.0 1625.4,2329.2 C1625.9,2329.3 1626.4,2330.4 1626.9,2330.5 C1627.4,2330.6 1627.9,2330.0 1628.4,2330.0 C1628.9,2330.0 1629.4,2330.4 1629.9,2330.3 C1630.4,2330.3 1630.9,2329.6 1631.4,2329.5 C1631.9,2329.5 1632.4,2330.1 1632.9,2330.2 C1633.4,2330.2 1633.9,2329.6 1634.4,2329.7 C1634.9,2329.8 1635.4,2330.7 1635.9,2330.8 C1636.4,2331.0 1636.9,2330.7 1637.4,2330.5 C1637.9,2330.4 1638.4,2330.2 1638.9,2330.0 C1639.4,2329.7 1639.9,2329.1 1640.4,2329.1 C1640.9,2329.2 1641.4,2329.9 1641.9,2330.0 C1642.4,2330.2 1642.9,2330.1 1643.4,2330.1 C1643.9,2330.1 1644.4,2330.0 1644.9,2330.0 C1645.4,2330.0 1645.9,2330.2 1646.4,2330.2 C1646.9,2330.2 1647.4,2330.0 1647.9,2330.0 C1648.4,2330.0 1648.9,2330.3 1649.4,2330.3 C1649.9,2330.4 1650.4,2330.3 1650.9,2330.3 C1651.4,2330.2 1651.9,2329.8 1652.4,2329.9 C1652.9,2329.9 1653.4,2330.4 1653.9,2330.4 C1654.4,2330.5 1654.9,2330.4 1655.4,2330.4 C1655.9,2330.3 1656.4,2330.2 1656.9,2330.1 C1657.4,2330.1 1657.9,2330.0 1658.4,2329.9 C1658.9,2329.9 1659.4,2329.7 1659.9,2329.9 C1660.4,2330.1 1660.9,2330.9 1661.4,2331.0 C1661.9,2331.2 1662.4,2331.2 1662.9,2331.1 C1663.4,2331.0 1663.9,2330.7 1664.4,2330.5 C1664.9,2330.4 1665.4,2330.1 1665.9,2330.1 C1666.4,2330.1 1666.9,2330.6 1667.4,2330.6 C1667.9,2330.5 1668.4,2330.1 1668.9,2330.0 C1669.4,2329.9 1669.9,2330.0 1670.4,2330.0 C1670.9,2329.9 1671.4,2329.6 1671.9,2329.6 C1672.4,2329.7 1672.9,2330.1 1673.4,2330.1 C1673.9,2330.2 1674.4,2330.0 1674.9,2330.1 C1675.4,2330.2 1675.9,2330.7 1676.4,2330.8 C1676.9,2330.8 1677.4,2330.6 1677.9,2330.5 C1678.4,2330.4 1678.9,2330.2 1679.4,2330.2 C1679.9,2330.1 1680.4,2330.3 1680.9,2330.3 C1681.4,2330.3 1681.9,2330.4 1682.4,2330.4 C1682.9,2330.4 1683.4,2330.4 1683.9,2330.4 C1684.4,2330.5 1684.9,2330.4 1685.4,2330.5 C1685.9,2330.6 1686.4,2331.0 1686.9,2330.9 C1687.4,2330.8 1687.9,2330.0 1688.4,2330.0 C1688.9,2329.9 1689.4,2330.5 1689.9,2330.6 C1690.4,2330.7 1690.9,2330.5 1691.4,2330.6 C1691.9,2330.6 1692.4,2330.9 1692.9,2330.9 C1693.4,2330.8 1693.9,2330.6 1694.4,2330.6 C1694.9,2330.5 1695.4,2330.3 1695.9,2330.3 C1696.4,2330.4 1696.9,2330.8 1697.4,2330.9 C1697.9,2331.0 1698.4,2331.1 1698.9,2331.0 C1699.4,2330.9 1699.9,2330.4 1700.4,2330.4 C1700.9,2330.4 1701.4,2330.8 1701.9,2331.0 C1702.4,2331.2 1702.9,2331.7 1703.4,2331.6 C1703.9,2331.5 1704.4,2330.6 1704.9,2330.5 C1705.4,2330.4 1705.9,2331.0 1706.4,2330.9 C1706.9,2330.8 1707.4,2329.8 1707.9,2329.8 C1708.4,2329.8 1708.9,2330.7 1709.4,2330.8 C1709.9,2330.9 1710.4,2330.4 1710.9,2330.4 C1711.4,2330.4 1711.9,2330.8 1712.4,2330.9 C1712.9,2330.9 1713.4,2330.7 1713.9,2330.7 C1714.4,2330.7 1714.9,2330.8 1715.4,2330.9 C1715.9,2330.9 1716.4,2331.1 1716.9,2331.2 C1717.4,2331.2 1717.9,2331.1 1718.4,2331.1 C1718.9,2331.1 1719.4,2331.2 1719.9,2331.1 C1720.4,2331.0 1720.9,2330.6 1721.4,2330.6 C1721.9,2330.5 1722.4,2330.7 1722.9,2330.7 C1723.4,2330.8 1723.9,2330.8 1724.4,2330.8 C1724.9,2330.8 1725.4,2330.7 1725.9,2330.7 C1726.4,2330.6 1726.9,2330.5 1727.4,2330.6 C1727.9,2330.6 1728.4,2330.8 1728.9,2330.9 C1729.4,2330.9 1729.9,2331.0 1730.4,2331.0 C1730.9,2331.0 1731.4,2330.9 1731.9,2330.8 C1732.4,2330.7 1732.9,2330.4 1733.4,2330.5 C1733.9,2330.6 1734.4,2331.2 1734.9,2331.3 C1735.4,2331.3 1735.9,2330.6 1736.4,2330.7 C1736.9,2330.7 1737.4,2331.5 1737.9,2331.5 C1738.4,2331.6 1738.9,2331.1 1739.4,2331.0 C1739.9,2330.9 1740.4,2331.0 1740.9,2331.0 C1741.4,2331.1 1741.9,2331.4 1742.4,2331.4 C1742.9,2331.4 1743.4,2331.1 1743.9,2331.0 C1744.4,2330.8 1744.9,2330.5 1745.4,2330.5 C1745.9,2330.5 1746.4,2331.1 1746.9,2331.0 C1747.4,2331.0 1747.9,2330.3 1748.4,2330.3 C1748.9,2330.3 1749.4,2331.0 1749.9,2331.1 C1750.4,2331.3 1750.9,2331.0 1751.4,2331.1 C1751.9,2331.1 1752.4,2331.2 1752.9,2331.2 C1753.4,2331.2 1753.9,2331.0 1754.4,2331.1 C1754.9,2331.2 1755.4,2331.7 1755.9,2331.8 C1756.4,2331.8 1756.9,2331.3 1757.4,2331.2 C1757.9,2331.1 1758.4,2330.8 1758.9,2331.0 C1759.4,2331.2 1759.9,2332.2 1760.4,2332.2 C1760.9,2332.3 1761.4,2331.3 1761.9,2331.2 C1762.4,2331.1 1762.9,2331.5 1763.4,2331.5 C1763.9,2331.5 1764.4,2331.2 1764.9,2331.2 C1765.4,2331.1 1765.9,2331.1 1766.4,2331.2 C1766.9,2331.2 1767.4,2331.3 1767.9,2331.3 C1768.4,2331.2 1768.9,2331.1 1769.4,2331.1 C1769.9,2331.1 1770.4,2331.3 1770.9,2331.3 C1771.4,2331.3 1771.9,2331.3 1772.4,2331.3 C1772.9,2331.2 1773.4,2331.2 1773.9,2331.2 C1774.4,2331.2 1774.9,2331.1 1775.4,2331.1 C1775.9,2331.1 1776.4,2331.4 1776.9,2331.3 C1777.4,2331.2 1777.9,2330.5 1778.4,2330.6 C1778.9,2330.6 1779.4,2331.6 1779.9,2331.6 C1780.4,2331.6 1780.9,2330.6 1781.4,2330.6 C1781.9,2330.5 1782.4,2331.2 1782.9,2331.4 C1783.4,2331.5 1783.9,2331.5 1784.4,2331.5 C1784.9,2331.5 1785.4,2331.3 1785.9,2331.3 C1786.4,2331.3 1786.9,2331.4 1787.4,2331.6 C1787.9,2331.7 1788.4,2332.2 1788.9,2332.3 C1789.4,2332.3 1789.9,2331.8 1790.4,2331.7 C1790.9,2331.5 1791.4,2331.4 1791.9,2331.5 C1792.4,2331.5 1792.9,2331.8 1793.4,2331.8 C1793.9,2331.8 1794.4,2331.6 1794.9,2331.4 C1795.4,2331.3 1795.9,2331.1 1796.4,2331.1 C1796.9,2331.1 1797.4,2331.3 1797.9,2331.4 C1798.4,2331.6 1798.9,2331.9 1799.4,2332.0 C1799.9,2332.0 1800.4,2331.7 1800.9,2331.7 C1801.4,2331.7 1801.9,2331.9 1802.4,2332.0 C1802.9,2332.1 1803.4,2332.2 1803.9,2332.1 C1804.4,2331.9 1804.9,2331.3 1805.4,2331.2 C1805.9,2331.0 1806.4,2331.3 1806.9,2331.3 C1807.4,2331.4 1807.9,2331.6 1808.4,2331.6 C1808.9,2331.6 1809.4,2331.4 1809.9,2331.5 C1810.4,2331.5 1810.9,2332.1 1811.4,2332.1 C1811.9,2332.2 1812.7,2331.7 1812.9,2331.6" fill="none" stroke="#34398f" stroke-width="4.5" stroke-linejoin="round"/>
<text x="1740" y="1790" font-family="'Liberation Sans', Arial, sans-serif" font-size="63" fill="#222">(<tspan font-weight="bold">ii</tspan>)</text>
<text x="1744" y="2031" font-family="'Liberation Sans', Arial, sans-serif" font-size="63" fill="#cc2a2a">(<tspan font-weight="bold">i</tspan>)</text>
<text x="1702" y="2265" font-family="'Liberation Sans', Arial, sans-serif" font-weight="bold" font-size="61.5" fill="#1c1c98">GSH</text>
<text x="346.0" y="1936.0" font-family="'Liberation Serif', 'Times New Roman', serif" font-size="50" fill="#222" stroke="#222" stroke-width="1.2">ν</text>
<text x="372.0" y="1967.0" font-family="'Liberation Sans', Arial, sans-serif" font-weight="bold" font-size="54" fill="#151515">C=O</text>
<text x="166.0" y="2053.0" font-family="'Liberation Serif', 'Times New Roman', serif" font-size="50" fill="#555">δ</text>
<text x="192.0" y="2084.0" font-family="'Liberation Sans', Arial, sans-serif" font-weight="bold" font-size="54" fill="#151515">N-H</text>
<text x="347.0" y="2189.0" font-family="'Liberation Serif', 'Times New Roman', serif" font-size="50" fill="#222" stroke="#222" stroke-width="1.2">ν</text>
<text x="373.0" y="2220.0" font-family="'Liberation Sans', Arial, sans-serif" font-weight="bold" font-size="54" fill="#151515">C=O</text>
<text x="421.0" y="2280.0" font-family="'Liberation Serif', 'Times New Roman', serif" font-size="50" fill="#555">δ</text>
<text x="447.0" y="2311.0" font-family="'Liberation Sans', Arial, sans-serif" font-weight="bold" font-size="54" fill="#151515">N-H</text>
<text x="336.0" y="2572.0" font-family="'Liberation Serif', 'Times New Roman', serif" font-size="50" fill="#222" stroke="#222" stroke-width="1.2">ν</text>
<text x="362.0" y="2603.0" font-family="'Liberation Sans', Arial, sans-serif" font-weight="bold" font-size="54" fill="#151515">C=O</text>
<text x="235.0" y="2709.0" font-family="'Liberation Serif', 'Times New Roman', serif" font-size="50" fill="#555">δ</text>
<text x="261.0" y="2740.0" font-family="'Liberation Sans', Arial, sans-serif" font-weight="bold" font-size="54" fill="#151515">N-H</text>
<text x="824.0" y="2432.0" font-family="'Liberation Serif', 'Times New Roman', serif" font-size="50" fill="#222" stroke="#222" stroke-width="1.2">ν</text>
<text x="850.0" y="2463.0" font-family="'Liberation Sans', Arial, sans-serif" font-weight="bold" font-size="54" fill="#151515">S-H</text>
<text x="1298.0" y="2465.0" font-family="'Liberation Serif', 'Times New Roman', serif" font-size="50" fill="#222" stroke="#222" stroke-width="1.2">ν</text>
<text x="1324.0" y="2496.0" font-family="'Liberation Sans', Arial, sans-serif" font-weight="bold" font-size="54" fill="#151515">N-H</text>
<path d="M409.0,1916.0 L376.9,1874.6" stroke="#111" stroke-width="3.5"/>
<path d="M361.0,1854.0 L382.5,1870.3 L371.4,1878.8 Z" fill="#111"/>
<path d="M247.0,2015.0 L283.8,2005.8" stroke="#111" stroke-width="3.5"/>
<path d="M309.0,1999.5 L285.5,2012.6 L282.1,1999.0 Z" fill="#111"/>
<path d="M404.0,2155.0 L404.0,2134.6" stroke="#111" stroke-width="3.5"/>
<path d="M404.0,2108.6 L411.0,2134.6 L397.0,2134.6 Z" fill="#111"/>
<path d="M417.0,2294.0 L358.5,2294.0" stroke="#111" stroke-width="3.5"/>
<path d="M332.5,2294.0 L358.5,2287.0 L358.5,2301.0 Z" fill="#111"/>
<path d="M383.0,2549.0 L369.3,2519.2" stroke="#111" stroke-width="3.5"/>
<path d="M358.4,2495.6 L375.6,2516.3 L362.9,2522.1 Z" fill="#111"/>
<path d="M400.0,2539.7 L393.1,2503.0" stroke="#111" stroke-width="3.5"/>
<path d="M388.3,2477.4 L400.0,2501.7 L386.2,2504.2 Z" fill="#111"/>
<path d="M311.7,2686.5 L311.7,2672.0" stroke="#111" stroke-width="3.5"/>
<path d="M311.7,2646.0 L318.7,2672.0 L304.7,2672.0 Z" fill="#111"/>
<path d="M1346.8,2437.0 L1346.8,2396.6" stroke="#111" stroke-width="3.5"/>
<path d="M1346.8,2370.6 L1353.8,2396.6 L1339.8,2396.6 Z" fill="#111"/>
<path d="M1391.4,2434.8 L1391.4,2399.0" stroke="#111" stroke-width="3.5"/>
<path d="M1391.4,2373.0 L1398.4,2399.0 L1384.4,2399.0 Z" fill="#111"/></svg>
</body></html>
